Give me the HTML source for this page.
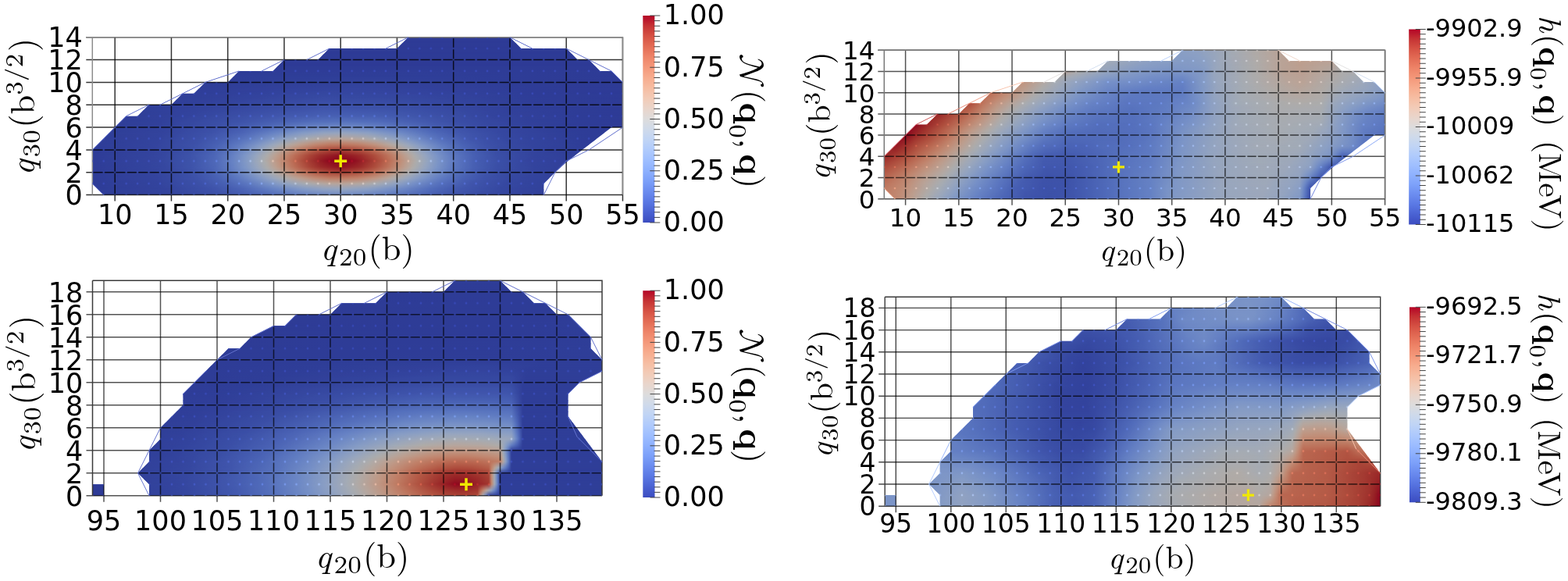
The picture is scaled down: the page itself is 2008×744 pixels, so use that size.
<!DOCTYPE html>
<html><head><meta charset="utf-8"><title>figure</title><style>html,body{margin:0;padding:0;background:#fff;overflow:hidden}svg{display:block}</style></head><body>
<svg width="2008" height="744" viewBox="0 0 2008 744"><defs><linearGradient id="vmg" x1="0" x2="0" y1="0" y2="1"><stop offset="0" stop-color="#fff"/><stop offset="1" stop-color="#000"/></linearGradient>
<mask id="vm" maskContentUnits="objectBoundingBox"><rect x="0" y="0" width="1" height="1" fill="url(#vmg)"/></mask>
<linearGradient id="g1_0"><stop offset="0" stop-color="#3c4ec2"/><stop offset="0.1277" stop-color="#4055c8"/><stop offset="0.2394" stop-color="#4e68d8"/><stop offset="0.3245" stop-color="#6485ec"/><stop offset="0.4043" stop-color="#85a8fc"/><stop offset="0.4574" stop-color="#90b2fe"/><stop offset="0.5053" stop-color="#8caffe"/><stop offset="0.5638" stop-color="#799cf8"/><stop offset="0.6489" stop-color="#5977e3"/><stop offset="0.734" stop-color="#485fd1"/><stop offset="0.8777" stop-color="#3d50c3"/><stop offset="1" stop-color="#3b4cc0"/></linearGradient>
<linearGradient id="g1_1"><stop offset="0" stop-color="#3c4ec2"/><stop offset="0.133" stop-color="#4257c9"/><stop offset="0.2234" stop-color="#4f69d9"/><stop offset="0.2819" stop-color="#6180e9"/><stop offset="0.3404" stop-color="#82a6fb"/><stop offset="0.3936" stop-color="#a6c4fe"/><stop offset="0.4362" stop-color="#bad0f8"/><stop offset="0.4734" stop-color="#bfd3f6"/><stop offset="0.5213" stop-color="#b2ccfb"/><stop offset="0.5745" stop-color="#92b4fe"/><stop offset="0.6383" stop-color="#688aef"/><stop offset="0.6915" stop-color="#5470de"/><stop offset="0.7713" stop-color="#455cce"/><stop offset="0.8936" stop-color="#3d50c3"/><stop offset="1" stop-color="#3b4cc0"/></linearGradient>
<linearGradient id="g1_2"><stop offset="0" stop-color="#3c4ec2"/><stop offset="0.1223" stop-color="#4257c9"/><stop offset="0.2021" stop-color="#4e68d8"/><stop offset="0.25" stop-color="#5d7ce6"/><stop offset="0.2926" stop-color="#7699f6"/><stop offset="0.3351" stop-color="#9dbdff"/><stop offset="0.367" stop-color="#bcd2f7"/><stop offset="0.4043" stop-color="#d9dce1"/><stop offset="0.4415" stop-color="#ead5c9"/><stop offset="0.4734" stop-color="#edd2c3"/><stop offset="0.5053" stop-color="#e7d7ce"/><stop offset="0.5319" stop-color="#d9dce1"/><stop offset="0.5745" stop-color="#b7cff9"/><stop offset="0.6064" stop-color="#97b8ff"/><stop offset="0.6543" stop-color="#6e90f2"/><stop offset="0.7128" stop-color="#536edd"/><stop offset="0.7819" stop-color="#455cce"/><stop offset="0.9043" stop-color="#3d50c3"/><stop offset="1" stop-color="#3b4cc0"/></linearGradient>
<linearGradient id="g1_3"><stop offset="0" stop-color="#3c4ec2"/><stop offset="0.1223" stop-color="#4358cb"/><stop offset="0.1968" stop-color="#4f69d9"/><stop offset="0.2394" stop-color="#5f7fe8"/><stop offset="0.2766" stop-color="#799cf8"/><stop offset="0.3138" stop-color="#a1c0ff"/><stop offset="0.3404" stop-color="#c3d5f4"/><stop offset="0.3617" stop-color="#dbdcde"/><stop offset="0.3883" stop-color="#f1cdba"/><stop offset="0.4202" stop-color="#f7b093"/><stop offset="0.4468" stop-color="#f59f80"/><stop offset="0.4734" stop-color="#f59c7d"/><stop offset="0.5" stop-color="#f6a586"/><stop offset="0.5319" stop-color="#f6bea4"/><stop offset="0.5585" stop-color="#ead5c9"/><stop offset="0.5745" stop-color="#dbdcde"/><stop offset="0.5957" stop-color="#c3d5f4"/><stop offset="0.6223" stop-color="#a1c0ff"/><stop offset="0.6596" stop-color="#799cf8"/><stop offset="0.6968" stop-color="#5f7fe8"/><stop offset="0.7394" stop-color="#4f69d9"/><stop offset="0.8032" stop-color="#445acc"/><stop offset="0.9149" stop-color="#3d50c3"/><stop offset="1" stop-color="#3b4cc0"/></linearGradient>
<linearGradient id="g1_4"><stop offset="0" stop-color="#3c4ec2"/><stop offset="0.117" stop-color="#4358cb"/><stop offset="0.1809" stop-color="#4c66d6"/><stop offset="0.2234" stop-color="#5b7ae5"/><stop offset="0.2606" stop-color="#7699f6"/><stop offset="0.2926" stop-color="#9abbff"/><stop offset="0.3138" stop-color="#b9d0f9"/><stop offset="0.3351" stop-color="#d6dce4"/><stop offset="0.3457" stop-color="#e3d9d3"/><stop offset="0.367" stop-color="#f5c4ac"/><stop offset="0.3936" stop-color="#f59c7d"/><stop offset="0.4202" stop-color="#e8765c"/><stop offset="0.4468" stop-color="#dc5d4a"/><stop offset="0.4681" stop-color="#d85646"/><stop offset="0.4947" stop-color="#de614d"/><stop offset="0.5213" stop-color="#eb7d62"/><stop offset="0.5426" stop-color="#f59c7d"/><stop offset="0.5691" stop-color="#f5c4ac"/><stop offset="0.5904" stop-color="#e3d9d3"/><stop offset="0.6011" stop-color="#d6dce4"/><stop offset="0.6223" stop-color="#b9d0f9"/><stop offset="0.6489" stop-color="#93b5fe"/><stop offset="0.6862" stop-color="#6c8ff1"/><stop offset="0.7234" stop-color="#5875e1"/><stop offset="0.766" stop-color="#4a63d3"/><stop offset="0.867" stop-color="#3f53c6"/><stop offset="1" stop-color="#3b4cc0"/></linearGradient>
<linearGradient id="g1_5"><stop offset="0" stop-color="#3c4ec2"/><stop offset="0.1277" stop-color="#445acc"/><stop offset="0.1862" stop-color="#506bda"/><stop offset="0.2287" stop-color="#6282ea"/><stop offset="0.2606" stop-color="#7da0f9"/><stop offset="0.2872" stop-color="#9fbfff"/><stop offset="0.3085" stop-color="#bfd3f6"/><stop offset="0.3298" stop-color="#dedcdb"/><stop offset="0.3457" stop-color="#f1cdba"/><stop offset="0.3617" stop-color="#f7b497"/><stop offset="0.383" stop-color="#f08b6e"/><stop offset="0.4096" stop-color="#d95847"/><stop offset="0.4309" stop-color="#c83836"/><stop offset="0.4628" stop-color="#bb1b2c"/><stop offset="0.4734" stop-color="#bb1b2c"/><stop offset="0.5053" stop-color="#c83836"/><stop offset="0.5319" stop-color="#df634e"/><stop offset="0.5585" stop-color="#f39577"/><stop offset="0.5798" stop-color="#f6bda2"/><stop offset="0.5957" stop-color="#ecd3c5"/><stop offset="0.6064" stop-color="#dedcdb"/><stop offset="0.6277" stop-color="#bfd3f6"/><stop offset="0.6489" stop-color="#9fbfff"/><stop offset="0.6809" stop-color="#779af7"/><stop offset="0.7181" stop-color="#5d7ce6"/><stop offset="0.7606" stop-color="#4c66d6"/><stop offset="0.8351" stop-color="#4257c9"/><stop offset="0.9574" stop-color="#3c4ec2"/><stop offset="1" stop-color="#3b4cc0"/></linearGradient>
<linearGradient id="g1_6"><stop offset="0" stop-color="#3c4ec2"/><stop offset="0.1223" stop-color="#445acc"/><stop offset="0.1915" stop-color="#516ddb"/><stop offset="0.234" stop-color="#6788ee"/><stop offset="0.266" stop-color="#86a9fc"/><stop offset="0.2926" stop-color="#abc8fd"/><stop offset="0.3138" stop-color="#cdd9ec"/><stop offset="0.3245" stop-color="#dcdddd"/><stop offset="0.3404" stop-color="#f0cdbb"/><stop offset="0.3564" stop-color="#f7b497"/><stop offset="0.3777" stop-color="#f08a6c"/><stop offset="0.3989" stop-color="#dc5d4a"/><stop offset="0.4309" stop-color="#be242e"/><stop offset="0.4415" stop-color="#b8122a"/><stop offset="0.4574" stop-color="#b40426"/><stop offset="0.4787" stop-color="#b40426"/><stop offset="0.4947" stop-color="#b8122a"/><stop offset="0.5213" stop-color="#cc403a"/><stop offset="0.5426" stop-color="#e26952"/><stop offset="0.5585" stop-color="#f08a6c"/><stop offset="0.5798" stop-color="#f7b497"/><stop offset="0.5957" stop-color="#f0cdbb"/><stop offset="0.6117" stop-color="#dcdddd"/><stop offset="0.633" stop-color="#bcd2f7"/><stop offset="0.6543" stop-color="#9bbcff"/><stop offset="0.6862" stop-color="#7597f6"/><stop offset="0.7234" stop-color="#5a78e4"/><stop offset="0.766" stop-color="#4c66d6"/><stop offset="0.8245" stop-color="#4358cb"/><stop offset="0.9468" stop-color="#3c4ec2"/><stop offset="1" stop-color="#3b4cc0"/></linearGradient>
<linearGradient id="g1_7"><stop offset="0" stop-color="#3c4ec2"/><stop offset="0.1277" stop-color="#445acc"/><stop offset="0.1862" stop-color="#506bda"/><stop offset="0.2287" stop-color="#6282ea"/><stop offset="0.2606" stop-color="#7da0f9"/><stop offset="0.2872" stop-color="#9fbfff"/><stop offset="0.3085" stop-color="#bfd3f6"/><stop offset="0.3298" stop-color="#dedcdb"/><stop offset="0.3457" stop-color="#f1cdba"/><stop offset="0.3617" stop-color="#f7b497"/><stop offset="0.383" stop-color="#f08b6e"/><stop offset="0.4096" stop-color="#d95847"/><stop offset="0.4309" stop-color="#c83836"/><stop offset="0.4628" stop-color="#bb1b2c"/><stop offset="0.4734" stop-color="#bb1b2c"/><stop offset="0.5053" stop-color="#c83836"/><stop offset="0.5319" stop-color="#df634e"/><stop offset="0.5585" stop-color="#f39577"/><stop offset="0.5798" stop-color="#f6bda2"/><stop offset="0.5957" stop-color="#ecd3c5"/><stop offset="0.6064" stop-color="#dedcdb"/><stop offset="0.6277" stop-color="#bfd3f6"/><stop offset="0.6489" stop-color="#9fbfff"/><stop offset="0.6809" stop-color="#779af7"/><stop offset="0.7181" stop-color="#5d7ce6"/><stop offset="0.7606" stop-color="#4c66d6"/><stop offset="0.8351" stop-color="#4257c9"/><stop offset="0.9574" stop-color="#3c4ec2"/><stop offset="1" stop-color="#3b4cc0"/></linearGradient>
<linearGradient id="g1_8"><stop offset="0" stop-color="#3c4ec2"/><stop offset="0.117" stop-color="#4358cb"/><stop offset="0.1809" stop-color="#4c66d6"/><stop offset="0.2234" stop-color="#5b7ae5"/><stop offset="0.2606" stop-color="#7699f6"/><stop offset="0.2926" stop-color="#9abbff"/><stop offset="0.3138" stop-color="#b9d0f9"/><stop offset="0.3351" stop-color="#d6dce4"/><stop offset="0.3457" stop-color="#e3d9d3"/><stop offset="0.367" stop-color="#f5c4ac"/><stop offset="0.3936" stop-color="#f59c7d"/><stop offset="0.4202" stop-color="#e8765c"/><stop offset="0.4468" stop-color="#dc5d4a"/><stop offset="0.4681" stop-color="#d85646"/><stop offset="0.4947" stop-color="#de614d"/><stop offset="0.5213" stop-color="#eb7d62"/><stop offset="0.5426" stop-color="#f59c7d"/><stop offset="0.5691" stop-color="#f5c4ac"/><stop offset="0.5904" stop-color="#e3d9d3"/><stop offset="0.6011" stop-color="#d6dce4"/><stop offset="0.6223" stop-color="#b9d0f9"/><stop offset="0.6489" stop-color="#93b5fe"/><stop offset="0.6862" stop-color="#6c8ff1"/><stop offset="0.7234" stop-color="#5875e1"/><stop offset="0.766" stop-color="#4a63d3"/><stop offset="0.867" stop-color="#3f53c6"/><stop offset="1" stop-color="#3b4cc0"/></linearGradient>
<linearGradient id="g1_9"><stop offset="0" stop-color="#3c4ec2"/><stop offset="0.1223" stop-color="#4358cb"/><stop offset="0.1968" stop-color="#4f69d9"/><stop offset="0.2394" stop-color="#5f7fe8"/><stop offset="0.2766" stop-color="#799cf8"/><stop offset="0.3138" stop-color="#a1c0ff"/><stop offset="0.3404" stop-color="#c3d5f4"/><stop offset="0.3617" stop-color="#dbdcde"/><stop offset="0.3883" stop-color="#f1cdba"/><stop offset="0.4202" stop-color="#f7b093"/><stop offset="0.4468" stop-color="#f59f80"/><stop offset="0.4734" stop-color="#f59c7d"/><stop offset="0.5" stop-color="#f6a586"/><stop offset="0.5319" stop-color="#f6bea4"/><stop offset="0.5585" stop-color="#ead5c9"/><stop offset="0.5745" stop-color="#dbdcde"/><stop offset="0.5957" stop-color="#c3d5f4"/><stop offset="0.6223" stop-color="#a1c0ff"/><stop offset="0.6596" stop-color="#799cf8"/><stop offset="0.6968" stop-color="#5f7fe8"/><stop offset="0.7394" stop-color="#4f69d9"/><stop offset="0.8032" stop-color="#445acc"/><stop offset="0.9149" stop-color="#3d50c3"/><stop offset="1" stop-color="#3b4cc0"/></linearGradient>
<linearGradient id="g1_10"><stop offset="0" stop-color="#3c4ec2"/><stop offset="0.1223" stop-color="#4257c9"/><stop offset="0.2021" stop-color="#4e68d8"/><stop offset="0.25" stop-color="#5d7ce6"/><stop offset="0.2926" stop-color="#7699f6"/><stop offset="0.3351" stop-color="#9dbdff"/><stop offset="0.367" stop-color="#bcd2f7"/><stop offset="0.4043" stop-color="#d9dce1"/><stop offset="0.4415" stop-color="#ead5c9"/><stop offset="0.4734" stop-color="#edd2c3"/><stop offset="0.5053" stop-color="#e7d7ce"/><stop offset="0.5319" stop-color="#d9dce1"/><stop offset="0.5745" stop-color="#b7cff9"/><stop offset="0.6064" stop-color="#97b8ff"/><stop offset="0.6543" stop-color="#6e90f2"/><stop offset="0.7128" stop-color="#536edd"/><stop offset="0.7819" stop-color="#455cce"/><stop offset="0.9043" stop-color="#3d50c3"/><stop offset="1" stop-color="#3b4cc0"/></linearGradient>
<linearGradient id="g1_11"><stop offset="0" stop-color="#3c4ec2"/><stop offset="0.133" stop-color="#4257c9"/><stop offset="0.2234" stop-color="#4f69d9"/><stop offset="0.2819" stop-color="#6180e9"/><stop offset="0.3404" stop-color="#82a6fb"/><stop offset="0.3936" stop-color="#a6c4fe"/><stop offset="0.4362" stop-color="#bad0f8"/><stop offset="0.4734" stop-color="#bfd3f6"/><stop offset="0.5213" stop-color="#b2ccfb"/><stop offset="0.5745" stop-color="#92b4fe"/><stop offset="0.6383" stop-color="#688aef"/><stop offset="0.6915" stop-color="#5470de"/><stop offset="0.7713" stop-color="#455cce"/><stop offset="0.8936" stop-color="#3d50c3"/><stop offset="1" stop-color="#3b4cc0"/></linearGradient>
<linearGradient id="g1_12"><stop offset="0" stop-color="#3c4ec2"/><stop offset="0.1277" stop-color="#4055c8"/><stop offset="0.2394" stop-color="#4e68d8"/><stop offset="0.3245" stop-color="#6485ec"/><stop offset="0.4043" stop-color="#85a8fc"/><stop offset="0.4574" stop-color="#90b2fe"/><stop offset="0.5053" stop-color="#8caffe"/><stop offset="0.5638" stop-color="#799cf8"/><stop offset="0.6489" stop-color="#5977e3"/><stop offset="0.734" stop-color="#485fd1"/><stop offset="0.8777" stop-color="#3d50c3"/><stop offset="1" stop-color="#3b4cc0"/></linearGradient>
<linearGradient id="g1_13"><stop offset="0" stop-color="#3c4ec2"/><stop offset="0.1277" stop-color="#3f53c6"/><stop offset="0.2872" stop-color="#516ddb"/><stop offset="0.4202" stop-color="#6c8ff1"/><stop offset="0.4787" stop-color="#7093f3"/><stop offset="0.5426" stop-color="#688aef"/><stop offset="0.6862" stop-color="#4b64d5"/><stop offset="0.8191" stop-color="#3f53c6"/><stop offset="0.9947" stop-color="#3b4cc0"/><stop offset="1" stop-color="#3b4cc0"/></linearGradient>
<linearGradient id="g1_14"><stop offset="0" stop-color="#3b4cc0"/><stop offset="0.1596" stop-color="#4055c8"/><stop offset="0.3351" stop-color="#536edd"/><stop offset="0.4415" stop-color="#5e7de7"/><stop offset="0.5319" stop-color="#5b7ae5"/><stop offset="0.7606" stop-color="#4257c9"/><stop offset="0.9149" stop-color="#3c4ec2"/><stop offset="1" stop-color="#3b4cc0"/></linearGradient>
<linearGradient id="g1_15"><stop offset="0" stop-color="#3b4cc0"/><stop offset="0.1809" stop-color="#4055c8"/><stop offset="0.4362" stop-color="#5470de"/><stop offset="0.5532" stop-color="#516ddb"/><stop offset="0.7872" stop-color="#3f53c6"/><stop offset="0.9734" stop-color="#3b4cc0"/><stop offset="1" stop-color="#3b4cc0"/></linearGradient>
<linearGradient id="g1_16"><stop offset="0" stop-color="#3b4cc0"/><stop offset="0.1862" stop-color="#3f53c6"/><stop offset="0.4362" stop-color="#4e68d8"/><stop offset="0.5691" stop-color="#4b64d5"/><stop offset="0.8191" stop-color="#3d50c3"/><stop offset="1" stop-color="#3b4cc0"/></linearGradient>
<linearGradient id="g1_17"><stop offset="0" stop-color="#3b4cc0"/><stop offset="0.2181" stop-color="#3f53c6"/><stop offset="0.4362" stop-color="#4961d2"/><stop offset="0.5904" stop-color="#465ecf"/><stop offset="0.8085" stop-color="#3d50c3"/><stop offset="1" stop-color="#3b4cc0"/></linearGradient>
<linearGradient id="g1_18"><stop offset="0" stop-color="#3b4cc0"/><stop offset="0.2234" stop-color="#3e51c5"/><stop offset="0.4415" stop-color="#455cce"/><stop offset="0.6117" stop-color="#4358cb"/><stop offset="0.8404" stop-color="#3c4ec2"/><stop offset="1" stop-color="#3b4cc0"/></linearGradient>
<linearGradient id="g1_19"><stop offset="0" stop-color="#3b4cc0"/><stop offset="0.266" stop-color="#3e51c5"/><stop offset="0.4947" stop-color="#4358cb"/><stop offset="0.8989" stop-color="#3b4cc0"/><stop offset="1" stop-color="#3b4cc0"/></linearGradient>
<linearGradient id="g1_20"><stop offset="0" stop-color="#3b4cc0"/><stop offset="0.2713" stop-color="#3d50c3"/><stop offset="0.516" stop-color="#4055c8"/><stop offset="0.9149" stop-color="#3b4cc0"/><stop offset="1" stop-color="#3b4cc0"/></linearGradient>
<linearGradient id="g1_21"><stop offset="0" stop-color="#3b4cc0"/><stop offset="0.3351" stop-color="#3d50c3"/><stop offset="0.6755" stop-color="#3d50c3"/><stop offset="0.9947" stop-color="#3b4cc0"/><stop offset="1" stop-color="#3b4cc0"/></linearGradient>
<linearGradient id="g1_22"><stop offset="0" stop-color="#3b4cc0"/><stop offset="0.6064" stop-color="#3d50c3"/><stop offset="1" stop-color="#3b4cc0"/></linearGradient>
<linearGradient id="g1_23"><stop offset="0" stop-color="#3b4cc0"/><stop offset="1" stop-color="#3b4cc0"/></linearGradient>
<linearGradient id="g1_24"><stop offset="0" stop-color="#3b4cc0"/><stop offset="1" stop-color="#3b4cc0"/></linearGradient>
<linearGradient id="g1_25"><stop offset="0" stop-color="#3b4cc0"/><stop offset="1" stop-color="#3b4cc0"/></linearGradient>
<linearGradient id="g1_26"><stop offset="0" stop-color="#3b4cc0"/><stop offset="1" stop-color="#3b4cc0"/></linearGradient>
<linearGradient id="g1_27"><stop offset="0" stop-color="#3b4cc0"/><stop offset="1" stop-color="#3b4cc0"/></linearGradient>
<linearGradient id="g1_28"><stop offset="0" stop-color="#3b4cc0"/><stop offset="1" stop-color="#3b4cc0"/></linearGradient>
<g id="hm1" shape-rendering="crispEdges"><rect x="118.3" y="242" width="679.1" height="8" fill="url(#g1_0)"/><rect x="118.3" y="242" width="679.1" height="8" fill="url(#g1_1)" mask="url(#vm)"/><rect x="118.3" y="235" width="679.1" height="7" fill="url(#g1_1)"/><rect x="118.3" y="235" width="679.1" height="7" fill="url(#g1_2)" mask="url(#vm)"/><rect x="118.3" y="228" width="679.1" height="7" fill="url(#g1_2)"/><rect x="118.3" y="228" width="679.1" height="7" fill="url(#g1_3)" mask="url(#vm)"/><rect x="118.3" y="221" width="679.1" height="7" fill="url(#g1_3)"/><rect x="118.3" y="221" width="679.1" height="7" fill="url(#g1_4)" mask="url(#vm)"/><rect x="118.3" y="214" width="679.1" height="7" fill="url(#g1_4)"/><rect x="118.3" y="214" width="679.1" height="7" fill="url(#g1_5)" mask="url(#vm)"/><rect x="118.3" y="206" width="679.1" height="8" fill="url(#g1_5)"/><rect x="118.3" y="206" width="679.1" height="8" fill="url(#g1_6)" mask="url(#vm)"/><rect x="118.3" y="199" width="679.1" height="7" fill="url(#g1_6)"/><rect x="118.3" y="199" width="679.1" height="7" fill="url(#g1_7)" mask="url(#vm)"/><rect x="118.3" y="192" width="679.1" height="7" fill="url(#g1_7)"/><rect x="118.3" y="192" width="679.1" height="7" fill="url(#g1_8)" mask="url(#vm)"/><rect x="118.3" y="185" width="679.1" height="7" fill="url(#g1_8)"/><rect x="118.3" y="185" width="679.1" height="7" fill="url(#g1_9)" mask="url(#vm)"/><rect x="118.3" y="178" width="679.1" height="7" fill="url(#g1_9)"/><rect x="118.3" y="178" width="679.1" height="7" fill="url(#g1_10)" mask="url(#vm)"/><rect x="118.3" y="170" width="679.1" height="8" fill="url(#g1_10)"/><rect x="118.3" y="170" width="679.1" height="8" fill="url(#g1_11)" mask="url(#vm)"/><rect x="118.3" y="163" width="679.1" height="7" fill="url(#g1_11)"/><rect x="118.3" y="163" width="679.1" height="7" fill="url(#g1_12)" mask="url(#vm)"/><rect x="118.3" y="156" width="679.1" height="7" fill="url(#g1_12)"/><rect x="118.3" y="156" width="679.1" height="7" fill="url(#g1_13)" mask="url(#vm)"/><rect x="118.3" y="149" width="679.1" height="7" fill="url(#g1_13)"/><rect x="118.3" y="149" width="679.1" height="7" fill="url(#g1_14)" mask="url(#vm)"/><rect x="118.3" y="141" width="679.1" height="8" fill="url(#g1_14)"/><rect x="118.3" y="141" width="679.1" height="8" fill="url(#g1_15)" mask="url(#vm)"/><rect x="118.3" y="134" width="679.1" height="7" fill="url(#g1_15)"/><rect x="118.3" y="134" width="679.1" height="7" fill="url(#g1_16)" mask="url(#vm)"/><rect x="118.3" y="127" width="679.1" height="7" fill="url(#g1_16)"/><rect x="118.3" y="127" width="679.1" height="7" fill="url(#g1_17)" mask="url(#vm)"/><rect x="118.3" y="120" width="679.1" height="7" fill="url(#g1_17)"/><rect x="118.3" y="120" width="679.1" height="7" fill="url(#g1_18)" mask="url(#vm)"/><rect x="118.3" y="113" width="679.1" height="7" fill="url(#g1_18)"/><rect x="118.3" y="113" width="679.1" height="7" fill="url(#g1_19)" mask="url(#vm)"/><rect x="118.3" y="105" width="679.1" height="8" fill="url(#g1_19)"/><rect x="118.3" y="105" width="679.1" height="8" fill="url(#g1_20)" mask="url(#vm)"/><rect x="118.3" y="98" width="679.1" height="7" fill="url(#g1_20)"/><rect x="118.3" y="98" width="679.1" height="7" fill="url(#g1_21)" mask="url(#vm)"/><rect x="118.3" y="91" width="679.1" height="7" fill="url(#g1_21)"/><rect x="118.3" y="91" width="679.1" height="7" fill="url(#g1_22)" mask="url(#vm)"/><rect x="118.3" y="84" width="679.1" height="7" fill="url(#g1_22)"/><rect x="118.3" y="84" width="679.1" height="7" fill="url(#g1_23)" mask="url(#vm)"/><rect x="118.3" y="77" width="679.1" height="7" fill="url(#g1_23)"/><rect x="118.3" y="77" width="679.1" height="7" fill="url(#g1_24)" mask="url(#vm)"/><rect x="118.3" y="69" width="679.1" height="8" fill="url(#g1_24)"/><rect x="118.3" y="69" width="679.1" height="8" fill="url(#g1_25)" mask="url(#vm)"/><rect x="118.3" y="62" width="679.1" height="7" fill="url(#g1_25)"/><rect x="118.3" y="62" width="679.1" height="7" fill="url(#g1_26)" mask="url(#vm)"/><rect x="118.3" y="55" width="679.1" height="7" fill="url(#g1_26)"/><rect x="118.3" y="55" width="679.1" height="7" fill="url(#g1_27)" mask="url(#vm)"/><rect x="118.3" y="48" width="679.1" height="7" fill="url(#g1_27)"/><rect x="118.3" y="48" width="679.1" height="7" fill="url(#g1_28)" mask="url(#vm)"/></g>
<linearGradient id="g2_0"><stop offset="0" stop-color="#f59d7e"/><stop offset="0.0266" stop-color="#f7b194"/><stop offset="0.05319" stop-color="#f2cbb7"/><stop offset="0.07979" stop-color="#dedcdb"/><stop offset="0.1117" stop-color="#c1d4f4"/><stop offset="0.1383" stop-color="#a7c5fe"/><stop offset="0.1809" stop-color="#84a7fc"/><stop offset="0.2287" stop-color="#6687ed"/><stop offset="0.2819" stop-color="#516ddb"/><stop offset="0.3245" stop-color="#4c66d6"/><stop offset="0.3777" stop-color="#536edd"/><stop offset="0.4202" stop-color="#5f7fe8"/><stop offset="0.4681" stop-color="#6f92f3"/><stop offset="0.5319" stop-color="#82a6fb"/><stop offset="0.5745" stop-color="#a5c3fe"/><stop offset="0.633" stop-color="#b6cefa"/><stop offset="0.6755" stop-color="#c3d5f4"/><stop offset="0.75" stop-color="#c9d7f0"/><stop offset="0.7926" stop-color="#bcd2f7"/><stop offset="0.8298" stop-color="#a5c3fe"/><stop offset="0.8351" stop-color="#8caffe"/><stop offset="0.8404" stop-color="#7295f4"/><stop offset="0.8457" stop-color="#5a78e4"/><stop offset="0.8511" stop-color="#4358cb"/><stop offset="0.8936" stop-color="#4358cb"/><stop offset="0.9149" stop-color="#536edd"/><stop offset="0.9362" stop-color="#536edd"/><stop offset="0.9574" stop-color="#6a8bef"/><stop offset="1" stop-color="#6a8bef"/></linearGradient>
<linearGradient id="g2_1"><stop offset="0" stop-color="#f59d7e"/><stop offset="0.03191" stop-color="#f7b396"/><stop offset="0.05851" stop-color="#f2cbb7"/><stop offset="0.08511" stop-color="#e0dbd8"/><stop offset="0.1117" stop-color="#cad8ef"/><stop offset="0.1436" stop-color="#abc8fd"/><stop offset="0.1862" stop-color="#86a9fc"/><stop offset="0.2447" stop-color="#6282ea"/><stop offset="0.2819" stop-color="#536edd"/><stop offset="0.3298" stop-color="#4e68d8"/><stop offset="0.3723" stop-color="#516ddb"/><stop offset="0.4202" stop-color="#5f7fe8"/><stop offset="0.4681" stop-color="#6f92f3"/><stop offset="0.5319" stop-color="#82a6fb"/><stop offset="0.5745" stop-color="#a3c2fe"/><stop offset="0.6755" stop-color="#c3d5f4"/><stop offset="0.7553" stop-color="#c9d7f0"/><stop offset="0.7979" stop-color="#bed2f6"/><stop offset="0.8298" stop-color="#aac7fd"/><stop offset="0.8351" stop-color="#92b4fe"/><stop offset="0.8404" stop-color="#779af7"/><stop offset="0.8457" stop-color="#5f7fe8"/><stop offset="0.8511" stop-color="#485fd1"/><stop offset="0.8883" stop-color="#4a63d3"/><stop offset="0.9202" stop-color="#536edd"/><stop offset="0.9362" stop-color="#516ddb"/><stop offset="0.9574" stop-color="#6a8bef"/><stop offset="1" stop-color="#6a8bef"/></linearGradient>
<linearGradient id="g2_2"><stop offset="0" stop-color="#f59d7e"/><stop offset="0.03191" stop-color="#f7af91"/><stop offset="0.05319" stop-color="#f5c1a9"/><stop offset="0.09043" stop-color="#e2dad5"/><stop offset="0.1117" stop-color="#d2dbe8"/><stop offset="0.1436" stop-color="#b5cdfa"/><stop offset="0.1809" stop-color="#92b4fe"/><stop offset="0.2234" stop-color="#7597f6"/><stop offset="0.2606" stop-color="#5b7ae5"/><stop offset="0.3191" stop-color="#4e68d8"/><stop offset="0.367" stop-color="#506bda"/><stop offset="0.4202" stop-color="#5f7fe8"/><stop offset="0.4681" stop-color="#6f92f3"/><stop offset="0.5319" stop-color="#82a6fb"/><stop offset="0.5638" stop-color="#9bbcff"/><stop offset="0.5904" stop-color="#a6c4fe"/><stop offset="0.6702" stop-color="#c3d5f4"/><stop offset="0.7606" stop-color="#cad8ef"/><stop offset="0.8138" stop-color="#bad0f8"/><stop offset="0.8298" stop-color="#afcafc"/><stop offset="0.8351" stop-color="#97b8ff"/><stop offset="0.8404" stop-color="#7da0f9"/><stop offset="0.8457" stop-color="#6384eb"/><stop offset="0.8511" stop-color="#4c66d6"/><stop offset="0.883" stop-color="#4f69d9"/><stop offset="0.8989" stop-color="#536edd"/><stop offset="0.9362" stop-color="#4f69d9"/><stop offset="0.9574" stop-color="#6a8bef"/><stop offset="1" stop-color="#6a8bef"/></linearGradient>
<linearGradient id="g2_3"><stop offset="0" stop-color="#f29072"/><stop offset="0.04255" stop-color="#f7b194"/><stop offset="0.07979" stop-color="#edd1c2"/><stop offset="0.1117" stop-color="#d9dce1"/><stop offset="0.1489" stop-color="#b9d0f9"/><stop offset="0.1862" stop-color="#96b7ff"/><stop offset="0.2287" stop-color="#7597f6"/><stop offset="0.2713" stop-color="#5a78e4"/><stop offset="0.3191" stop-color="#4f69d9"/><stop offset="0.367" stop-color="#506bda"/><stop offset="0.4202" stop-color="#5f7fe8"/><stop offset="0.4681" stop-color="#6f92f3"/><stop offset="0.5319" stop-color="#82a6fb"/><stop offset="0.5798" stop-color="#a2c1ff"/><stop offset="0.6755" stop-color="#c4d5f3"/><stop offset="0.7606" stop-color="#cbd8ee"/><stop offset="0.8085" stop-color="#bfd3f6"/><stop offset="0.8298" stop-color="#b5cdfa"/><stop offset="0.8404" stop-color="#8fb1fe"/><stop offset="0.8511" stop-color="#688aef"/><stop offset="0.8723" stop-color="#4f69d9"/><stop offset="0.8989" stop-color="#5470de"/><stop offset="0.9149" stop-color="#516ddb"/><stop offset="0.9574" stop-color="#6a8bef"/><stop offset="1" stop-color="#6a8bef"/></linearGradient>
<linearGradient id="g2_4"><stop offset="0" stop-color="#ee8468"/><stop offset="0.04787" stop-color="#f7b194"/><stop offset="0.08511" stop-color="#efcfbf"/><stop offset="0.117" stop-color="#dcdddd"/><stop offset="0.1489" stop-color="#c0d4f5"/><stop offset="0.1862" stop-color="#9dbdff"/><stop offset="0.2287" stop-color="#799cf8"/><stop offset="0.2819" stop-color="#5875e1"/><stop offset="0.3245" stop-color="#4f69d9"/><stop offset="0.367" stop-color="#506bda"/><stop offset="0.4202" stop-color="#5f7fe8"/><stop offset="0.4681" stop-color="#6f92f3"/><stop offset="0.5372" stop-color="#85a8fc"/><stop offset="0.5851" stop-color="#a3c2fe"/><stop offset="0.6755" stop-color="#c4d5f3"/><stop offset="0.766" stop-color="#ccd9ed"/><stop offset="0.8191" stop-color="#bed2f6"/><stop offset="0.8298" stop-color="#bad0f8"/><stop offset="0.8457" stop-color="#93b5fe"/><stop offset="0.8617" stop-color="#6b8df0"/><stop offset="0.8723" stop-color="#536edd"/><stop offset="0.8936" stop-color="#5673e0"/><stop offset="0.9149" stop-color="#4f69d9"/><stop offset="0.9362" stop-color="#6a8bef"/><stop offset="1" stop-color="#6a8bef"/></linearGradient>
<linearGradient id="g2_5"><stop offset="0" stop-color="#e67259"/><stop offset="0.04787" stop-color="#f6a283"/><stop offset="0.08511" stop-color="#f4c6af"/><stop offset="0.117" stop-color="#e5d8d1"/><stop offset="0.133" stop-color="#d8dce2"/><stop offset="0.1649" stop-color="#bcd2f7"/><stop offset="0.2021" stop-color="#98b9ff"/><stop offset="0.25" stop-color="#7295f4"/><stop offset="0.2819" stop-color="#5e7de7"/><stop offset="0.3245" stop-color="#516ddb"/><stop offset="0.3777" stop-color="#5470de"/><stop offset="0.4415" stop-color="#6788ee"/><stop offset="0.5319" stop-color="#81a4fb"/><stop offset="0.5851" stop-color="#a2c1ff"/><stop offset="0.6702" stop-color="#c3d5f4"/><stop offset="0.7553" stop-color="#ccd9ed"/><stop offset="0.7979" stop-color="#c7d7f0"/><stop offset="0.8298" stop-color="#bed2f6"/><stop offset="0.8511" stop-color="#9ebeff"/><stop offset="0.867" stop-color="#7699f6"/><stop offset="0.8723" stop-color="#688aef"/><stop offset="0.8936" stop-color="#536edd"/><stop offset="0.9149" stop-color="#5875e1"/><stop offset="0.9362" stop-color="#6a8bef"/><stop offset="0.9894" stop-color="#6c8ff1"/><stop offset="1" stop-color="#6f92f3"/></linearGradient>
<linearGradient id="g2_6"><stop offset="0" stop-color="#dd5f4b"/><stop offset="0.04255" stop-color="#f08b6e"/><stop offset="0.07979" stop-color="#f7b599"/><stop offset="0.117" stop-color="#edd2c3"/><stop offset="0.1383" stop-color="#dddcdc"/><stop offset="0.1702" stop-color="#c1d4f4"/><stop offset="0.2074" stop-color="#9dbdff"/><stop offset="0.2447" stop-color="#7ea1fa"/><stop offset="0.2713" stop-color="#6a8bef"/><stop offset="0.2819" stop-color="#6384eb"/><stop offset="0.3138" stop-color="#5875e1"/><stop offset="0.3191" stop-color="#5470de"/><stop offset="0.3723" stop-color="#5470de"/><stop offset="0.4202" stop-color="#5f7fe8"/><stop offset="0.4681" stop-color="#6f92f3"/><stop offset="0.5319" stop-color="#7ea1fa"/><stop offset="0.5851" stop-color="#a1c0ff"/><stop offset="0.6649" stop-color="#c1d4f4"/><stop offset="0.7553" stop-color="#cdd9ec"/><stop offset="0.8032" stop-color="#c9d7f0"/><stop offset="0.8404" stop-color="#bbd1f8"/><stop offset="0.8511" stop-color="#b5cdfa"/><stop offset="0.867" stop-color="#8db0fe"/><stop offset="0.883" stop-color="#6788ee"/><stop offset="0.8936" stop-color="#4f69d9"/><stop offset="0.9202" stop-color="#6282ea"/><stop offset="0.9415" stop-color="#6a8bef"/><stop offset="0.9787" stop-color="#6a8bef"/><stop offset="1" stop-color="#7597f6"/></linearGradient>
<linearGradient id="g2_7"><stop offset="0" stop-color="#d24b40"/><stop offset="0.04255" stop-color="#e9785d"/><stop offset="0.07979" stop-color="#f7a688"/><stop offset="0.1117" stop-color="#f4c6af"/><stop offset="0.1436" stop-color="#e1dad6"/><stop offset="0.1702" stop-color="#cbd8ee"/><stop offset="0.2021" stop-color="#adc9fd"/><stop offset="0.2447" stop-color="#86a9fc"/><stop offset="0.2819" stop-color="#688aef"/><stop offset="0.3191" stop-color="#5673e0"/><stop offset="0.367" stop-color="#5572df"/><stop offset="0.4255" stop-color="#6282ea"/><stop offset="0.4734" stop-color="#6f92f3"/><stop offset="0.5319" stop-color="#7da0f9"/><stop offset="0.5851" stop-color="#9ebeff"/><stop offset="0.6596" stop-color="#c0d4f5"/><stop offset="0.75" stop-color="#cedaeb"/><stop offset="0.8085" stop-color="#cad8ef"/><stop offset="0.8404" stop-color="#bfd3f6"/><stop offset="0.8511" stop-color="#b9d0f9"/><stop offset="0.8723" stop-color="#98b9ff"/><stop offset="0.8936" stop-color="#7699f6"/><stop offset="0.9149" stop-color="#5f7fe8"/><stop offset="0.9362" stop-color="#6a8bef"/><stop offset="0.9681" stop-color="#6c8ff1"/><stop offset="1" stop-color="#7295f4"/></linearGradient>
<linearGradient id="g2_8"><stop offset="0" stop-color="#c53334"/><stop offset="0.03191" stop-color="#d95847"/><stop offset="0.04787" stop-color="#e36b54"/><stop offset="0.08511" stop-color="#f59d7e"/><stop offset="0.117" stop-color="#f5c1a9"/><stop offset="0.1489" stop-color="#e5d8d1"/><stop offset="0.1649" stop-color="#d8dce2"/><stop offset="0.1968" stop-color="#bbd1f8"/><stop offset="0.234" stop-color="#97b8ff"/><stop offset="0.2819" stop-color="#6e90f2"/><stop offset="0.3191" stop-color="#5977e3"/><stop offset="0.3777" stop-color="#5875e1"/><stop offset="0.4628" stop-color="#6c8ff1"/><stop offset="0.5372" stop-color="#7ea1fa"/><stop offset="0.5851" stop-color="#9dbdff"/><stop offset="0.6596" stop-color="#c0d4f5"/><stop offset="0.75" stop-color="#cfdaea"/><stop offset="0.8191" stop-color="#cbd8ee"/><stop offset="0.8511" stop-color="#bcd2f7"/><stop offset="0.8883" stop-color="#a3c2fe"/><stop offset="0.8936" stop-color="#9ebeff"/><stop offset="0.9043" stop-color="#7ea1fa"/><stop offset="0.9149" stop-color="#5f7fe8"/><stop offset="0.9362" stop-color="#6a8bef"/><stop offset="0.9628" stop-color="#6c8ff1"/><stop offset="0.9787" stop-color="#7597f6"/><stop offset="1" stop-color="#7093f3"/></linearGradient>
<linearGradient id="g2_9"><stop offset="0" stop-color="#c53334"/><stop offset="0.02128" stop-color="#c83836"/><stop offset="0.04255" stop-color="#d55042"/><stop offset="0.06915" stop-color="#e97a5f"/><stop offset="0.1064" stop-color="#f7a889"/><stop offset="0.1383" stop-color="#f2c9b4"/><stop offset="0.1649" stop-color="#e1dad6"/><stop offset="0.1862" stop-color="#cfdaea"/><stop offset="0.2234" stop-color="#adc9fd"/><stop offset="0.2606" stop-color="#8badfd"/><stop offset="0.2979" stop-color="#6c8ff1"/><stop offset="0.3245" stop-color="#6180e9"/><stop offset="0.367" stop-color="#5b7ae5"/><stop offset="0.4096" stop-color="#6180e9"/><stop offset="0.4574" stop-color="#6b8df0"/><stop offset="0.5053" stop-color="#7396f5"/><stop offset="0.5319" stop-color="#799cf8"/><stop offset="0.5851" stop-color="#9bbcff"/><stop offset="0.6489" stop-color="#bbd1f8"/><stop offset="0.7181" stop-color="#ccd9ed"/><stop offset="0.7872" stop-color="#d1dae9"/><stop offset="0.8298" stop-color="#ccd9ed"/><stop offset="0.883" stop-color="#adc9fd"/><stop offset="0.8936" stop-color="#a5c3fe"/><stop offset="0.9149" stop-color="#7ea1fa"/><stop offset="0.9362" stop-color="#7da0f9"/><stop offset="0.9574" stop-color="#6f92f3"/><stop offset="0.984" stop-color="#7396f5"/><stop offset="1" stop-color="#7093f3"/></linearGradient>
<linearGradient id="g2_10"><stop offset="0" stop-color="#c53334"/><stop offset="0.02128" stop-color="#bd1f2d"/><stop offset="0.04787" stop-color="#d0473d"/><stop offset="0.06383" stop-color="#df634e"/><stop offset="0.09574" stop-color="#f08a6c"/><stop offset="0.1277" stop-color="#f7b194"/><stop offset="0.1543" stop-color="#f1cdba"/><stop offset="0.1809" stop-color="#dddcdc"/><stop offset="0.2128" stop-color="#c1d4f4"/><stop offset="0.25" stop-color="#9fbfff"/><stop offset="0.2926" stop-color="#7a9df8"/><stop offset="0.3191" stop-color="#6a8bef"/><stop offset="0.3457" stop-color="#6687ed"/><stop offset="0.367" stop-color="#5f7fe8"/><stop offset="0.3989" stop-color="#6180e9"/><stop offset="0.4309" stop-color="#688aef"/><stop offset="0.4947" stop-color="#6e90f2"/><stop offset="0.5372" stop-color="#7b9ff9"/><stop offset="0.5904" stop-color="#9dbdff"/><stop offset="0.6596" stop-color="#bfd3f6"/><stop offset="0.7447" stop-color="#d1dae9"/><stop offset="0.8298" stop-color="#cfdaea"/><stop offset="0.883" stop-color="#b3cdfb"/><stop offset="0.9362" stop-color="#90b2fe"/><stop offset="0.9574" stop-color="#7597f6"/><stop offset="1" stop-color="#7093f3"/></linearGradient>
<linearGradient id="g2_11"><stop offset="0" stop-color="#c53334"/><stop offset="0.01064" stop-color="#be242e"/><stop offset="0.02128" stop-color="#b8122a"/><stop offset="0.03191" stop-color="#bb1b2c"/><stop offset="0.04787" stop-color="#c43032"/><stop offset="0.06383" stop-color="#d44e41"/><stop offset="0.09043" stop-color="#e46e56"/><stop offset="0.1277" stop-color="#f6a283"/><stop offset="0.1543" stop-color="#f5c4ac"/><stop offset="0.1809" stop-color="#e5d8d1"/><stop offset="0.1968" stop-color="#d8dce2"/><stop offset="0.234" stop-color="#b6cefa"/><stop offset="0.2766" stop-color="#93b5fe"/><stop offset="0.3191" stop-color="#7295f4"/><stop offset="0.3723" stop-color="#6384eb"/><stop offset="0.4149" stop-color="#6687ed"/><stop offset="0.4681" stop-color="#6a8bef"/><stop offset="0.516" stop-color="#7295f4"/><stop offset="0.5426" stop-color="#7da0f9"/><stop offset="0.5957" stop-color="#9ebeff"/><stop offset="0.6649" stop-color="#c0d4f5"/><stop offset="0.7234" stop-color="#cdd9ec"/><stop offset="0.7872" stop-color="#d4dbe6"/><stop offset="0.8457" stop-color="#ccd9ed"/><stop offset="0.8936" stop-color="#b2ccfb"/><stop offset="0.9362" stop-color="#92b4fe"/><stop offset="0.9574" stop-color="#779af7"/><stop offset="1" stop-color="#7093f3"/></linearGradient>
<linearGradient id="g2_12"><stop offset="0" stop-color="#c53334"/><stop offset="0.01064" stop-color="#bd1f2d"/><stop offset="0.02128" stop-color="#b40426"/><stop offset="0.04255" stop-color="#b40426"/><stop offset="0.05851" stop-color="#c12b30"/><stop offset="0.07447" stop-color="#cf453c"/><stop offset="0.1011" stop-color="#e36c55"/><stop offset="0.1277" stop-color="#f29072"/><stop offset="0.1543" stop-color="#f7b99e"/><stop offset="0.1755" stop-color="#efcebd"/><stop offset="0.2021" stop-color="#dddcdc"/><stop offset="0.234" stop-color="#c0d4f5"/><stop offset="0.2766" stop-color="#9ebeff"/><stop offset="0.3245" stop-color="#799cf8"/><stop offset="0.3723" stop-color="#688aef"/><stop offset="0.4202" stop-color="#6788ee"/><stop offset="0.5" stop-color="#6c8ff1"/><stop offset="0.5372" stop-color="#779af7"/><stop offset="0.5904" stop-color="#9abbff"/><stop offset="0.6596" stop-color="#bcd2f7"/><stop offset="0.6968" stop-color="#cad8ef"/><stop offset="0.7872" stop-color="#d5dbe5"/><stop offset="0.8564" stop-color="#cdd9ec"/><stop offset="0.8989" stop-color="#b3cdfb"/><stop offset="0.9362" stop-color="#92b4fe"/><stop offset="0.9628" stop-color="#799cf8"/><stop offset="1" stop-color="#7093f3"/></linearGradient>
<linearGradient id="g2_13"><stop offset="0" stop-color="#bd1f2d"/><stop offset="0.02128" stop-color="#b40426"/><stop offset="0.04255" stop-color="#b40426"/><stop offset="0.05319" stop-color="#b8122a"/><stop offset="0.07979" stop-color="#cb3e38"/><stop offset="0.117" stop-color="#e7745b"/><stop offset="0.1489" stop-color="#f6a385"/><stop offset="0.1755" stop-color="#f5c4ac"/><stop offset="0.2074" stop-color="#e2dad5"/><stop offset="0.2234" stop-color="#d4dbe6"/><stop offset="0.25" stop-color="#bed2f6"/><stop offset="0.2926" stop-color="#9bbcff"/><stop offset="0.3191" stop-color="#85a8fc"/><stop offset="0.367" stop-color="#7093f3"/><stop offset="0.4255" stop-color="#6a8bef"/><stop offset="0.5053" stop-color="#6e90f2"/><stop offset="0.5372" stop-color="#779af7"/><stop offset="0.5851" stop-color="#93b5fe"/><stop offset="0.6489" stop-color="#b7cff9"/><stop offset="0.7021" stop-color="#cbd8ee"/><stop offset="0.7872" stop-color="#d6dce4"/><stop offset="0.8564" stop-color="#cfdaea"/><stop offset="0.883" stop-color="#c3d5f4"/><stop offset="0.9202" stop-color="#a1c0ff"/><stop offset="0.9574" stop-color="#7ea1fa"/><stop offset="1" stop-color="#7396f5"/></linearGradient>
<linearGradient id="g2_14"><stop offset="0" stop-color="#b40426"/><stop offset="0.04787" stop-color="#b40426"/><stop offset="0.06383" stop-color="#b70d28"/><stop offset="0.07447" stop-color="#be242e"/><stop offset="0.117" stop-color="#df634e"/><stop offset="0.1543" stop-color="#f49a7b"/><stop offset="0.1862" stop-color="#f5c1a9"/><stop offset="0.2128" stop-color="#e7d7ce"/><stop offset="0.2287" stop-color="#d9dce1"/><stop offset="0.2606" stop-color="#c0d4f5"/><stop offset="0.2979" stop-color="#a2c1ff"/><stop offset="0.3245" stop-color="#8db0fe"/><stop offset="0.3511" stop-color="#81a4fb"/><stop offset="0.3617" stop-color="#799cf8"/><stop offset="0.3936" stop-color="#7396f5"/><stop offset="0.4255" stop-color="#6b8df0"/><stop offset="0.4947" stop-color="#6c8ff1"/><stop offset="0.5372" stop-color="#779af7"/><stop offset="0.5585" stop-color="#84a7fc"/><stop offset="0.6223" stop-color="#a3c2fe"/><stop offset="0.6489" stop-color="#b6cefa"/><stop offset="0.7021" stop-color="#ccd9ed"/><stop offset="0.7872" stop-color="#d7dce3"/><stop offset="0.8723" stop-color="#cfdaea"/><stop offset="0.9096" stop-color="#adc9fd"/><stop offset="0.9521" stop-color="#86a9fc"/><stop offset="0.9894" stop-color="#799cf8"/><stop offset="1" stop-color="#7699f6"/></linearGradient>
<linearGradient id="g2_15"><stop offset="0" stop-color="#b40426"/><stop offset="0.03723" stop-color="#b40426"/><stop offset="0.04787" stop-color="#b50927"/><stop offset="0.06383" stop-color="#b70d28"/><stop offset="0.07447" stop-color="#be242e"/><stop offset="0.1011" stop-color="#cb3e38"/><stop offset="0.117" stop-color="#d65244"/><stop offset="0.1543" stop-color="#ef886b"/><stop offset="0.1862" stop-color="#f7b497"/><stop offset="0.2128" stop-color="#efcfbf"/><stop offset="0.234" stop-color="#dddcdc"/><stop offset="0.2713" stop-color="#c1d4f4"/><stop offset="0.3138" stop-color="#9fbfff"/><stop offset="0.367" stop-color="#80a3fa"/><stop offset="0.4255" stop-color="#6f92f3"/><stop offset="0.5" stop-color="#6e90f2"/><stop offset="0.5479" stop-color="#7b9ff9"/><stop offset="0.6117" stop-color="#98b9ff"/><stop offset="0.6596" stop-color="#bad0f8"/><stop offset="0.7128" stop-color="#cedaeb"/><stop offset="0.7979" stop-color="#d8dce2"/><stop offset="0.8723" stop-color="#d3dbe7"/><stop offset="0.9043" stop-color="#b5cdfa"/><stop offset="0.9415" stop-color="#93b5fe"/><stop offset="0.9628" stop-color="#84a7fc"/><stop offset="1" stop-color="#799cf8"/></linearGradient>
<linearGradient id="g2_16"><stop offset="0" stop-color="#b40426"/><stop offset="0.0266" stop-color="#b40426"/><stop offset="0.04787" stop-color="#b70d28"/><stop offset="0.06383" stop-color="#b70d28"/><stop offset="0.07979" stop-color="#c0282f"/><stop offset="0.08511" stop-color="#c32e31"/><stop offset="0.1064" stop-color="#c32e31"/><stop offset="0.1383" stop-color="#dd5f4b"/><stop offset="0.1649" stop-color="#ee8669"/><stop offset="0.1968" stop-color="#f7b396"/><stop offset="0.2234" stop-color="#efcfbf"/><stop offset="0.2447" stop-color="#dedcdb"/><stop offset="0.2766" stop-color="#c6d6f1"/><stop offset="0.3191" stop-color="#a5c3fe"/><stop offset="0.3777" stop-color="#82a6fb"/><stop offset="0.4202" stop-color="#7597f6"/><stop offset="0.4947" stop-color="#6e90f2"/><stop offset="0.5638" stop-color="#7ea1fa"/><stop offset="0.617" stop-color="#96b7ff"/><stop offset="0.6596" stop-color="#bad0f8"/><stop offset="0.7128" stop-color="#cedaeb"/><stop offset="0.7926" stop-color="#dadce0"/><stop offset="0.8723" stop-color="#d6dce4"/><stop offset="0.9043" stop-color="#b7cff9"/><stop offset="0.9415" stop-color="#97b8ff"/><stop offset="0.9628" stop-color="#88abfd"/><stop offset="1" stop-color="#7b9ff9"/></linearGradient>
<linearGradient id="g2_17"><stop offset="0" stop-color="#b40426"/><stop offset="0.01596" stop-color="#b40426"/><stop offset="0.0266" stop-color="#b50927"/><stop offset="0.04787" stop-color="#b70d28"/><stop offset="0.06383" stop-color="#b70d28"/><stop offset="0.07979" stop-color="#c0282f"/><stop offset="0.08511" stop-color="#c32e31"/><stop offset="0.1064" stop-color="#c32e31"/><stop offset="0.1277" stop-color="#dd5f4b"/><stop offset="0.1702" stop-color="#e9785d"/><stop offset="0.1968" stop-color="#f6a586"/><stop offset="0.2234" stop-color="#f4c6af"/><stop offset="0.25" stop-color="#e5d8d1"/><stop offset="0.266" stop-color="#dadce0"/><stop offset="0.3085" stop-color="#bad0f8"/><stop offset="0.3617" stop-color="#94b6ff"/><stop offset="0.4149" stop-color="#7da0f9"/><stop offset="0.4947" stop-color="#7093f3"/><stop offset="0.5585" stop-color="#7b9ff9"/><stop offset="0.617" stop-color="#92b4fe"/><stop offset="0.6543" stop-color="#b6cefa"/><stop offset="0.6968" stop-color="#cbd8ee"/><stop offset="0.7819" stop-color="#dbdcde"/><stop offset="0.8511" stop-color="#dadce0"/><stop offset="0.8723" stop-color="#d9dce1"/><stop offset="0.8989" stop-color="#c1d4f4"/><stop offset="0.9309" stop-color="#abc8fd"/><stop offset="0.9628" stop-color="#96b7ff"/><stop offset="1" stop-color="#85a8fc"/></linearGradient>
<linearGradient id="g2_18"><stop offset="0" stop-color="#b40426"/><stop offset="0.0266" stop-color="#b70d28"/><stop offset="0.06383" stop-color="#b70d28"/><stop offset="0.07979" stop-color="#c0282f"/><stop offset="0.08511" stop-color="#c32e31"/><stop offset="0.1064" stop-color="#c32e31"/><stop offset="0.1223" stop-color="#dd5f4b"/><stop offset="0.1277" stop-color="#e36c55"/><stop offset="0.1489" stop-color="#e36c55"/><stop offset="0.1702" stop-color="#dc5d4a"/><stop offset="0.1968" stop-color="#f39475"/><stop offset="0.2234" stop-color="#f7b99e"/><stop offset="0.25" stop-color="#eed0c0"/><stop offset="0.2819" stop-color="#d9dce1"/><stop offset="0.3138" stop-color="#c3d5f4"/><stop offset="0.3617" stop-color="#a1c0ff"/><stop offset="0.4149" stop-color="#84a7fc"/><stop offset="0.484" stop-color="#7597f6"/><stop offset="0.5426" stop-color="#779af7"/><stop offset="0.6064" stop-color="#88abfd"/><stop offset="0.6223" stop-color="#93b5fe"/><stop offset="0.6543" stop-color="#b6cefa"/><stop offset="0.7021" stop-color="#cedaeb"/><stop offset="0.8032" stop-color="#dedcdb"/><stop offset="0.8351" stop-color="#dfdbd9"/><stop offset="0.8723" stop-color="#dcdddd"/><stop offset="0.8989" stop-color="#c6d6f1"/><stop offset="0.9202" stop-color="#bad0f8"/><stop offset="0.9415" stop-color="#b2ccfb"/><stop offset="0.9628" stop-color="#a3c2fe"/><stop offset="0.9947" stop-color="#94b6ff"/><stop offset="1" stop-color="#90b2fe"/></linearGradient>
<linearGradient id="g2_19"><stop offset="0" stop-color="#b50927"/><stop offset="0.01064" stop-color="#b50927"/><stop offset="0.02128" stop-color="#b70d28"/><stop offset="0.04255" stop-color="#b70d28"/><stop offset="0.07979" stop-color="#c12b30"/><stop offset="0.1064" stop-color="#c32e31"/><stop offset="0.1223" stop-color="#dd5f4b"/><stop offset="0.1277" stop-color="#e36c55"/><stop offset="0.1702" stop-color="#dc5d4a"/><stop offset="0.1915" stop-color="#f08b6e"/><stop offset="0.2128" stop-color="#f59d7e"/><stop offset="0.2394" stop-color="#f7bca1"/><stop offset="0.2766" stop-color="#e8d6cc"/><stop offset="0.2979" stop-color="#d8dce2"/><stop offset="0.3404" stop-color="#bbd1f8"/><stop offset="0.3883" stop-color="#9abbff"/><stop offset="0.4362" stop-color="#84a7fc"/><stop offset="0.4894" stop-color="#779af7"/><stop offset="0.5585" stop-color="#799cf8"/><stop offset="0.6011" stop-color="#82a6fb"/><stop offset="0.6277" stop-color="#9abbff"/><stop offset="0.6596" stop-color="#bcd2f7"/><stop offset="0.7128" stop-color="#d2dbe8"/><stop offset="0.7979" stop-color="#e1dad6"/><stop offset="0.8351" stop-color="#e3d9d3"/><stop offset="0.8723" stop-color="#dfdbd9"/><stop offset="0.9043" stop-color="#cad8ef"/><stop offset="0.9255" stop-color="#c0d4f5"/><stop offset="0.984" stop-color="#a5c3fe"/><stop offset="1" stop-color="#9bbcff"/></linearGradient>
<linearGradient id="g2_20"><stop offset="0" stop-color="#b70d28"/><stop offset="0.04255" stop-color="#b70d28"/><stop offset="0.05851" stop-color="#c0282f"/><stop offset="0.06383" stop-color="#c32e31"/><stop offset="0.1064" stop-color="#c32e31"/><stop offset="0.1223" stop-color="#dd5f4b"/><stop offset="0.1277" stop-color="#e36c55"/><stop offset="0.1489" stop-color="#dc5d4a"/><stop offset="0.1702" stop-color="#dc5d4a"/><stop offset="0.1915" stop-color="#f18d6f"/><stop offset="0.2128" stop-color="#f18d6f"/><stop offset="0.25" stop-color="#f7b89c"/><stop offset="0.2819" stop-color="#edd2c3"/><stop offset="0.3085" stop-color="#dbdcde"/><stop offset="0.3564" stop-color="#bad0f8"/><stop offset="0.3936" stop-color="#9fbfff"/><stop offset="0.4468" stop-color="#85a8fc"/><stop offset="0.5106" stop-color="#779af7"/><stop offset="0.5957" stop-color="#7b9ff9"/><stop offset="0.633" stop-color="#a2c1ff"/><stop offset="0.6596" stop-color="#bed2f6"/><stop offset="0.7128" stop-color="#d3dbe7"/><stop offset="0.7872" stop-color="#e2dad5"/><stop offset="0.8245" stop-color="#e8d6cc"/><stop offset="0.8723" stop-color="#e2dad5"/><stop offset="0.8989" stop-color="#d4dbe6"/><stop offset="0.9202" stop-color="#c9d7f0"/><stop offset="0.9628" stop-color="#bcd2f7"/><stop offset="1" stop-color="#a5c3fe"/></linearGradient>
<linearGradient id="g2_21"><stop offset="0" stop-color="#b70d28"/><stop offset="0.04255" stop-color="#b70d28"/><stop offset="0.05851" stop-color="#c0282f"/><stop offset="0.06383" stop-color="#c32e31"/><stop offset="0.1064" stop-color="#c32e31"/><stop offset="0.1277" stop-color="#e0654f"/><stop offset="0.1543" stop-color="#dc5d4a"/><stop offset="0.1702" stop-color="#dc5d4a"/><stop offset="0.1915" stop-color="#f18d6f"/><stop offset="0.2128" stop-color="#f18d6f"/><stop offset="0.234" stop-color="#f7b396"/><stop offset="0.2766" stop-color="#f4c6af"/><stop offset="0.3138" stop-color="#e0dbd8"/><stop offset="0.3457" stop-color="#cbd8ee"/><stop offset="0.3883" stop-color="#aec9fc"/><stop offset="0.4468" stop-color="#8fb1fe"/><stop offset="0.5319" stop-color="#81a4fb"/><stop offset="0.5957" stop-color="#7ea1fa"/><stop offset="0.633" stop-color="#a3c2fe"/><stop offset="0.6649" stop-color="#c1d4f4"/><stop offset="0.7234" stop-color="#d6dce4"/><stop offset="0.7819" stop-color="#e4d9d2"/><stop offset="0.8298" stop-color="#ecd3c5"/><stop offset="0.8777" stop-color="#e2dad5"/><stop offset="0.9096" stop-color="#d4dbe6"/><stop offset="0.9628" stop-color="#c1d4f4"/><stop offset="0.984" stop-color="#b5cdfa"/><stop offset="1" stop-color="#afcafc"/></linearGradient>
<linearGradient id="g2_22"><stop offset="0" stop-color="#b70d28"/><stop offset="0.04255" stop-color="#b70d28"/><stop offset="0.05851" stop-color="#c0282f"/><stop offset="0.06383" stop-color="#c32e31"/><stop offset="0.1064" stop-color="#c32e31"/><stop offset="0.1277" stop-color="#dc5d4a"/><stop offset="0.1702" stop-color="#dc5d4a"/><stop offset="0.1915" stop-color="#f18d6f"/><stop offset="0.2128" stop-color="#f18d6f"/><stop offset="0.2287" stop-color="#f7b396"/><stop offset="0.234" stop-color="#f6bda2"/><stop offset="0.2766" stop-color="#f6bda2"/><stop offset="0.3138" stop-color="#e8d6cc"/><stop offset="0.3351" stop-color="#d9dce1"/><stop offset="0.367" stop-color="#c4d5f3"/><stop offset="0.4309" stop-color="#a1c0ff"/><stop offset="0.4468" stop-color="#97b8ff"/><stop offset="0.4894" stop-color="#96b7ff"/><stop offset="0.5372" stop-color="#8badfd"/><stop offset="0.5957" stop-color="#82a6fb"/><stop offset="0.6383" stop-color="#aac7fd"/><stop offset="0.6649" stop-color="#c3d5f4"/><stop offset="0.7287" stop-color="#d9dce1"/><stop offset="0.8085" stop-color="#ecd3c5"/><stop offset="0.8351" stop-color="#eed0c0"/><stop offset="0.8936" stop-color="#dfdbd9"/><stop offset="0.9521" stop-color="#cbd8ee"/><stop offset="0.9787" stop-color="#bad0f8"/><stop offset="1" stop-color="#bad0f8"/></linearGradient>
<linearGradient id="g2_23"><stop offset="0" stop-color="#b70d28"/><stop offset="0.02128" stop-color="#b70d28"/><stop offset="0.05851" stop-color="#c12b30"/><stop offset="0.1064" stop-color="#c32e31"/><stop offset="0.1277" stop-color="#dc5d4a"/><stop offset="0.1489" stop-color="#dc5d4a"/><stop offset="0.1915" stop-color="#f18d6f"/><stop offset="0.2128" stop-color="#f18d6f"/><stop offset="0.2287" stop-color="#f7b396"/><stop offset="0.234" stop-color="#f6bda2"/><stop offset="0.2766" stop-color="#f6bda2"/><stop offset="0.2979" stop-color="#f4c6af"/><stop offset="0.3138" stop-color="#e7d7ce"/><stop offset="0.3191" stop-color="#e0dbd8"/><stop offset="0.3457" stop-color="#dedcdb"/><stop offset="0.383" stop-color="#cdd9ec"/><stop offset="0.4415" stop-color="#adc9fd"/><stop offset="0.5372" stop-color="#96b7ff"/><stop offset="0.5957" stop-color="#90b2fe"/><stop offset="0.6383" stop-color="#aac7fd"/><stop offset="0.6596" stop-color="#c1d4f4"/><stop offset="0.7287" stop-color="#dadce0"/><stop offset="0.766" stop-color="#e4d9d2"/><stop offset="0.8032" stop-color="#edd2c3"/><stop offset="0.8351" stop-color="#efcfbf"/><stop offset="0.8777" stop-color="#e7d7ce"/><stop offset="0.9255" stop-color="#d8dce2"/><stop offset="0.9415" stop-color="#d4dbe6"/><stop offset="0.9787" stop-color="#bad0f8"/><stop offset="1" stop-color="#bad0f8"/></linearGradient>
<linearGradient id="g2_24"><stop offset="0" stop-color="#b70d28"/><stop offset="0.02128" stop-color="#b70d28"/><stop offset="0.03723" stop-color="#c0282f"/><stop offset="0.04255" stop-color="#c32e31"/><stop offset="0.1064" stop-color="#c32e31"/><stop offset="0.1277" stop-color="#dc5d4a"/><stop offset="0.1489" stop-color="#dc5d4a"/><stop offset="0.1702" stop-color="#f18d6f"/><stop offset="0.2128" stop-color="#f18d6f"/><stop offset="0.2287" stop-color="#f7b396"/><stop offset="0.234" stop-color="#f6bda2"/><stop offset="0.2979" stop-color="#f6bda2"/><stop offset="0.3138" stop-color="#e6d7cf"/><stop offset="0.3191" stop-color="#dddcdc"/><stop offset="0.3404" stop-color="#e9d5cb"/><stop offset="0.3617" stop-color="#e9d5cb"/><stop offset="0.3883" stop-color="#dadce0"/><stop offset="0.4362" stop-color="#c1d4f4"/><stop offset="0.5" stop-color="#a9c6fd"/><stop offset="0.5638" stop-color="#9ebeff"/><stop offset="0.6064" stop-color="#a1c0ff"/><stop offset="0.6383" stop-color="#a9c6fd"/><stop offset="0.6596" stop-color="#c3d5f4"/><stop offset="0.7394" stop-color="#dddcdc"/><stop offset="0.7979" stop-color="#eed0c0"/><stop offset="0.8351" stop-color="#f0cdbb"/><stop offset="0.8777" stop-color="#ead5c9"/><stop offset="0.9149" stop-color="#dddcdc"/><stop offset="0.9362" stop-color="#dddcdc"/><stop offset="0.9628" stop-color="#c5d6f2"/><stop offset="0.9787" stop-color="#bad0f8"/><stop offset="1" stop-color="#bad0f8"/></linearGradient>
<linearGradient id="g2_25"><stop offset="0" stop-color="#b70d28"/><stop offset="0.02128" stop-color="#b70d28"/><stop offset="0.03723" stop-color="#c0282f"/><stop offset="0.04255" stop-color="#c32e31"/><stop offset="0.1064" stop-color="#c32e31"/><stop offset="0.1277" stop-color="#dc5d4a"/><stop offset="0.1489" stop-color="#dc5d4a"/><stop offset="0.1702" stop-color="#f18d6f"/><stop offset="0.2128" stop-color="#f18d6f"/><stop offset="0.2287" stop-color="#f7b396"/><stop offset="0.234" stop-color="#f6bda2"/><stop offset="0.2979" stop-color="#f6bda2"/><stop offset="0.3138" stop-color="#e6d7cf"/><stop offset="0.3191" stop-color="#dddcdc"/><stop offset="0.3404" stop-color="#e9d5cb"/><stop offset="0.3617" stop-color="#e9d5cb"/><stop offset="0.3883" stop-color="#dbdcde"/><stop offset="0.4202" stop-color="#cedaeb"/><stop offset="0.516" stop-color="#aec9fc"/><stop offset="0.5851" stop-color="#a5c3fe"/><stop offset="0.6277" stop-color="#aac7fd"/><stop offset="0.6436" stop-color="#b3cdfb"/><stop offset="0.6649" stop-color="#c5d6f2"/><stop offset="0.7394" stop-color="#dedcdb"/><stop offset="0.7926" stop-color="#edd1c2"/><stop offset="0.8298" stop-color="#f1ccb8"/><stop offset="0.8936" stop-color="#ead4c8"/><stop offset="0.9149" stop-color="#dddcdc"/><stop offset="0.9362" stop-color="#dddcdc"/><stop offset="0.9628" stop-color="#c5d6f2"/><stop offset="0.9787" stop-color="#bad0f8"/><stop offset="1" stop-color="#bad0f8"/></linearGradient>
<linearGradient id="g2_26"><stop offset="0" stop-color="#b70d28"/><stop offset="0.02128" stop-color="#b70d28"/><stop offset="0.03723" stop-color="#c0282f"/><stop offset="0.04255" stop-color="#c32e31"/><stop offset="0.1064" stop-color="#c32e31"/><stop offset="0.1277" stop-color="#dc5d4a"/><stop offset="0.1489" stop-color="#dc5d4a"/><stop offset="0.1702" stop-color="#f18d6f"/><stop offset="0.2128" stop-color="#f18d6f"/><stop offset="0.2287" stop-color="#f7b396"/><stop offset="0.234" stop-color="#f6bda2"/><stop offset="0.2979" stop-color="#f6bda2"/><stop offset="0.3138" stop-color="#e6d7cf"/><stop offset="0.3191" stop-color="#dddcdc"/><stop offset="0.3404" stop-color="#e9d5cb"/><stop offset="0.3617" stop-color="#e9d5cb"/><stop offset="0.383" stop-color="#dddcdc"/><stop offset="0.4043" stop-color="#dddcdc"/><stop offset="0.4255" stop-color="#cfdaea"/><stop offset="0.4574" stop-color="#ccd9ed"/><stop offset="0.5372" stop-color="#b2ccfb"/><stop offset="0.6064" stop-color="#aac7fd"/><stop offset="0.6383" stop-color="#b3cdfb"/><stop offset="0.6702" stop-color="#c9d7f0"/><stop offset="0.7447" stop-color="#e0dbd8"/><stop offset="0.7926" stop-color="#edd1c2"/><stop offset="0.8298" stop-color="#f2cbb7"/><stop offset="0.8883" stop-color="#efcfbf"/><stop offset="0.8936" stop-color="#efcfbf"/><stop offset="0.9149" stop-color="#dddcdc"/><stop offset="0.9362" stop-color="#dddcdc"/><stop offset="0.9628" stop-color="#c5d6f2"/><stop offset="0.9787" stop-color="#bad0f8"/><stop offset="1" stop-color="#bad0f8"/></linearGradient>
<linearGradient id="g2_27"><stop offset="0" stop-color="#b70d28"/><stop offset="0.03723" stop-color="#c12b30"/><stop offset="0.08511" stop-color="#c32e31"/><stop offset="0.1223" stop-color="#d95847"/><stop offset="0.1702" stop-color="#f18d6f"/><stop offset="0.2128" stop-color="#f18d6f"/><stop offset="0.2287" stop-color="#f7b396"/><stop offset="0.234" stop-color="#f6bda2"/><stop offset="0.2979" stop-color="#f6bda2"/><stop offset="0.3138" stop-color="#ead4c8"/><stop offset="0.3191" stop-color="#e3d9d3"/><stop offset="0.3457" stop-color="#e9d5cb"/><stop offset="0.3617" stop-color="#e9d5cb"/><stop offset="0.383" stop-color="#dddcdc"/><stop offset="0.4043" stop-color="#dddcdc"/><stop offset="0.4255" stop-color="#cfdaea"/><stop offset="0.4681" stop-color="#ccd9ed"/><stop offset="0.4947" stop-color="#bfd3f6"/><stop offset="0.5426" stop-color="#b2ccfb"/><stop offset="0.5851" stop-color="#adc9fd"/><stop offset="0.6277" stop-color="#b3cdfb"/><stop offset="0.6862" stop-color="#cfdaea"/><stop offset="0.7447" stop-color="#e1dad6"/><stop offset="0.7926" stop-color="#edd1c2"/><stop offset="0.8191" stop-color="#f0cdbb"/><stop offset="0.8351" stop-color="#f2cbb7"/><stop offset="0.8883" stop-color="#efcfbf"/><stop offset="0.8936" stop-color="#efcfbf"/><stop offset="0.9149" stop-color="#dddcdc"/><stop offset="0.9362" stop-color="#dddcdc"/><stop offset="0.9574" stop-color="#d4dbe6"/><stop offset="0.9787" stop-color="#bad0f8"/><stop offset="1" stop-color="#bad0f8"/></linearGradient>
<linearGradient id="g2_28"><stop offset="0" stop-color="#b70d28"/><stop offset="0.01596" stop-color="#c0282f"/><stop offset="0.02128" stop-color="#c32e31"/><stop offset="0.08511" stop-color="#c32e31"/><stop offset="0.1064" stop-color="#dc5d4a"/><stop offset="0.1277" stop-color="#dc5d4a"/><stop offset="0.1489" stop-color="#f18d6f"/><stop offset="0.2128" stop-color="#f18d6f"/><stop offset="0.2287" stop-color="#f7b396"/><stop offset="0.234" stop-color="#f6bda2"/><stop offset="0.2979" stop-color="#f6bda2"/><stop offset="0.3191" stop-color="#e9d5cb"/><stop offset="0.3617" stop-color="#e9d5cb"/><stop offset="0.383" stop-color="#dddcdc"/><stop offset="0.4043" stop-color="#dddcdc"/><stop offset="0.4255" stop-color="#cfdaea"/><stop offset="0.4681" stop-color="#cfdaea"/><stop offset="0.4894" stop-color="#c0d4f5"/><stop offset="0.5106" stop-color="#c0d4f5"/><stop offset="0.5319" stop-color="#b3cdfb"/><stop offset="0.5585" stop-color="#b1cbfc"/><stop offset="0.5798" stop-color="#aec9fc"/><stop offset="0.6064" stop-color="#b3cdfb"/><stop offset="0.6223" stop-color="#b6cefa"/><stop offset="0.7021" stop-color="#d5dbe5"/><stop offset="0.75" stop-color="#e3d9d3"/><stop offset="0.7872" stop-color="#edd2c3"/><stop offset="0.8138" stop-color="#eed0c0"/><stop offset="0.8351" stop-color="#f2cbb7"/><stop offset="0.8617" stop-color="#f1cdba"/><stop offset="0.883" stop-color="#efcfbf"/><stop offset="0.8936" stop-color="#efcfbf"/><stop offset="0.9149" stop-color="#dddcdc"/><stop offset="0.9574" stop-color="#dddcdc"/><stop offset="0.9734" stop-color="#c3d5f4"/><stop offset="0.9787" stop-color="#bad0f8"/><stop offset="1" stop-color="#bad0f8"/></linearGradient>
<g id="hm2" shape-rendering="crispEdges"><rect x="1132.3" y="248" width="641.3" height="7" fill="url(#g2_0)"/><rect x="1132.3" y="248" width="641.3" height="7" fill="url(#g2_1)" mask="url(#vm)"/><rect x="1132.3" y="241" width="641.3" height="7" fill="url(#g2_1)"/><rect x="1132.3" y="241" width="641.3" height="7" fill="url(#g2_2)" mask="url(#vm)"/><rect x="1132.3" y="234" width="641.3" height="7" fill="url(#g2_2)"/><rect x="1132.3" y="234" width="641.3" height="7" fill="url(#g2_3)" mask="url(#vm)"/><rect x="1132.3" y="228" width="641.3" height="6" fill="url(#g2_3)"/><rect x="1132.3" y="228" width="641.3" height="6" fill="url(#g2_4)" mask="url(#vm)"/><rect x="1132.3" y="221" width="641.3" height="7" fill="url(#g2_4)"/><rect x="1132.3" y="221" width="641.3" height="7" fill="url(#g2_5)" mask="url(#vm)"/><rect x="1132.3" y="214" width="641.3" height="7" fill="url(#g2_5)"/><rect x="1132.3" y="214" width="641.3" height="7" fill="url(#g2_6)" mask="url(#vm)"/><rect x="1132.3" y="207" width="641.3" height="7" fill="url(#g2_6)"/><rect x="1132.3" y="207" width="641.3" height="7" fill="url(#g2_7)" mask="url(#vm)"/><rect x="1132.3" y="200" width="641.3" height="7" fill="url(#g2_7)"/><rect x="1132.3" y="200" width="641.3" height="7" fill="url(#g2_8)" mask="url(#vm)"/><rect x="1132.3" y="194" width="641.3" height="6" fill="url(#g2_8)"/><rect x="1132.3" y="194" width="641.3" height="6" fill="url(#g2_9)" mask="url(#vm)"/><rect x="1132.3" y="187" width="641.3" height="7" fill="url(#g2_9)"/><rect x="1132.3" y="187" width="641.3" height="7" fill="url(#g2_10)" mask="url(#vm)"/><rect x="1132.3" y="180" width="641.3" height="7" fill="url(#g2_10)"/><rect x="1132.3" y="180" width="641.3" height="7" fill="url(#g2_11)" mask="url(#vm)"/><rect x="1132.3" y="173" width="641.3" height="7" fill="url(#g2_11)"/><rect x="1132.3" y="173" width="641.3" height="7" fill="url(#g2_12)" mask="url(#vm)"/><rect x="1132.3" y="166" width="641.3" height="7" fill="url(#g2_12)"/><rect x="1132.3" y="166" width="641.3" height="7" fill="url(#g2_13)" mask="url(#vm)"/><rect x="1132.3" y="160" width="641.3" height="6" fill="url(#g2_13)"/><rect x="1132.3" y="160" width="641.3" height="6" fill="url(#g2_14)" mask="url(#vm)"/><rect x="1132.3" y="153" width="641.3" height="7" fill="url(#g2_14)"/><rect x="1132.3" y="153" width="641.3" height="7" fill="url(#g2_15)" mask="url(#vm)"/><rect x="1132.3" y="146" width="641.3" height="7" fill="url(#g2_15)"/><rect x="1132.3" y="146" width="641.3" height="7" fill="url(#g2_16)" mask="url(#vm)"/><rect x="1132.3" y="139" width="641.3" height="7" fill="url(#g2_16)"/><rect x="1132.3" y="139" width="641.3" height="7" fill="url(#g2_17)" mask="url(#vm)"/><rect x="1132.3" y="132" width="641.3" height="7" fill="url(#g2_17)"/><rect x="1132.3" y="132" width="641.3" height="7" fill="url(#g2_18)" mask="url(#vm)"/><rect x="1132.3" y="126" width="641.3" height="6" fill="url(#g2_18)"/><rect x="1132.3" y="126" width="641.3" height="6" fill="url(#g2_19)" mask="url(#vm)"/><rect x="1132.3" y="119" width="641.3" height="7" fill="url(#g2_19)"/><rect x="1132.3" y="119" width="641.3" height="7" fill="url(#g2_20)" mask="url(#vm)"/><rect x="1132.3" y="112" width="641.3" height="7" fill="url(#g2_20)"/><rect x="1132.3" y="112" width="641.3" height="7" fill="url(#g2_21)" mask="url(#vm)"/><rect x="1132.3" y="105" width="641.3" height="7" fill="url(#g2_21)"/><rect x="1132.3" y="105" width="641.3" height="7" fill="url(#g2_22)" mask="url(#vm)"/><rect x="1132.3" y="98" width="641.3" height="7" fill="url(#g2_22)"/><rect x="1132.3" y="98" width="641.3" height="7" fill="url(#g2_23)" mask="url(#vm)"/><rect x="1132.3" y="92" width="641.3" height="6" fill="url(#g2_23)"/><rect x="1132.3" y="92" width="641.3" height="6" fill="url(#g2_24)" mask="url(#vm)"/><rect x="1132.3" y="85" width="641.3" height="7" fill="url(#g2_24)"/><rect x="1132.3" y="85" width="641.3" height="7" fill="url(#g2_25)" mask="url(#vm)"/><rect x="1132.3" y="78" width="641.3" height="7" fill="url(#g2_25)"/><rect x="1132.3" y="78" width="641.3" height="7" fill="url(#g2_26)" mask="url(#vm)"/><rect x="1132.3" y="71" width="641.3" height="7" fill="url(#g2_26)"/><rect x="1132.3" y="71" width="641.3" height="7" fill="url(#g2_27)" mask="url(#vm)"/><rect x="1132.3" y="64" width="641.3" height="7" fill="url(#g2_27)"/><rect x="1132.3" y="64" width="641.3" height="7" fill="url(#g2_28)" mask="url(#vm)"/></g>
<linearGradient id="g3_0"><stop offset="0" stop-color="#3b4cc0"/><stop offset="0.03889" stop-color="#3b4cc0"/><stop offset="0.05556" stop-color="#3d50c3"/><stop offset="0.1778" stop-color="#445acc"/><stop offset="0.2667" stop-color="#536edd"/><stop offset="0.3389" stop-color="#688aef"/><stop offset="0.4056" stop-color="#89acfd"/><stop offset="0.4611" stop-color="#aec9fc"/><stop offset="0.5" stop-color="#cbd8ee"/><stop offset="0.5278" stop-color="#dedcdb"/><stop offset="0.5667" stop-color="#f2c9b4"/><stop offset="0.6056" stop-color="#f7a98b"/><stop offset="0.6556" stop-color="#e97a5f"/><stop offset="0.6944" stop-color="#dd5f4b"/><stop offset="0.7167" stop-color="#d95847"/><stop offset="0.7389" stop-color="#da5a49"/><stop offset="0.7556" stop-color="#de614d"/><stop offset="0.7611" stop-color="#f7ba9f"/><stop offset="0.7667" stop-color="#cdd9ec"/><stop offset="0.7722" stop-color="#84a7fc"/><stop offset="0.7778" stop-color="#3d50c3"/><stop offset="1" stop-color="#3d50c3"/></linearGradient>
<linearGradient id="g3_1"><stop offset="0" stop-color="#3b4cc0"/><stop offset="0.03889" stop-color="#3b4cc0"/><stop offset="0.05556" stop-color="#3d50c3"/><stop offset="0.1778" stop-color="#445acc"/><stop offset="0.2778" stop-color="#5572df"/><stop offset="0.3556" stop-color="#7093f3"/><stop offset="0.4278" stop-color="#9abbff"/><stop offset="0.4722" stop-color="#bbd1f8"/><stop offset="0.5111" stop-color="#d7dce3"/><stop offset="0.5389" stop-color="#ead5c9"/><stop offset="0.5778" stop-color="#f7b99e"/><stop offset="0.6167" stop-color="#f29274"/><stop offset="0.6667" stop-color="#dc5d4a"/><stop offset="0.6889" stop-color="#d0473d"/><stop offset="0.7167" stop-color="#ca3b37"/><stop offset="0.7389" stop-color="#cb3e38"/><stop offset="0.7556" stop-color="#d0473d"/><stop offset="0.7611" stop-color="#ec8165"/><stop offset="0.7667" stop-color="#f7af91"/><stop offset="0.7722" stop-color="#efcfbf"/><stop offset="0.7778" stop-color="#d4dbe6"/><stop offset="0.7833" stop-color="#b1cbfc"/><stop offset="0.7889" stop-color="#88abfd"/><stop offset="0.7944" stop-color="#6180e9"/><stop offset="0.8" stop-color="#3d50c3"/><stop offset="1" stop-color="#3d50c3"/></linearGradient>
<linearGradient id="g3_2"><stop offset="0" stop-color="#3b4cc0"/><stop offset="0.03889" stop-color="#3b4cc0"/><stop offset="0.05556" stop-color="#3d50c3"/><stop offset="0.1722" stop-color="#445acc"/><stop offset="0.2611" stop-color="#536edd"/><stop offset="0.3333" stop-color="#688aef"/><stop offset="0.4056" stop-color="#8db0fe"/><stop offset="0.4556" stop-color="#b1cbfc"/><stop offset="0.5" stop-color="#d3dbe7"/><stop offset="0.5222" stop-color="#e3d9d3"/><stop offset="0.5611" stop-color="#f5c1a9"/><stop offset="0.6" stop-color="#f49a7b"/><stop offset="0.6444" stop-color="#df634e"/><stop offset="0.6889" stop-color="#c12b30"/><stop offset="0.7056" stop-color="#ba162b"/><stop offset="0.7111" stop-color="#b70d28"/><stop offset="0.7333" stop-color="#b70d28"/><stop offset="0.7444" stop-color="#bd1f2d"/><stop offset="0.7778" stop-color="#d0473d"/><stop offset="0.7833" stop-color="#f7af91"/><stop offset="0.7889" stop-color="#d4dbe6"/><stop offset="0.7944" stop-color="#88abfd"/><stop offset="0.8" stop-color="#3d50c3"/><stop offset="1" stop-color="#3d50c3"/></linearGradient>
<linearGradient id="g3_3"><stop offset="0" stop-color="#3b4cc0"/><stop offset="0.03889" stop-color="#3b4cc0"/><stop offset="0.05556" stop-color="#3d50c3"/><stop offset="0.1722" stop-color="#445acc"/><stop offset="0.25" stop-color="#506bda"/><stop offset="0.3222" stop-color="#6384eb"/><stop offset="0.4" stop-color="#89acfd"/><stop offset="0.4556" stop-color="#afcafc"/><stop offset="0.5" stop-color="#d2dbe8"/><stop offset="0.5222" stop-color="#e1dad6"/><stop offset="0.5611" stop-color="#f5c4ac"/><stop offset="0.6" stop-color="#f59f80"/><stop offset="0.6444" stop-color="#e36b54"/><stop offset="0.6833" stop-color="#cc403a"/><stop offset="0.7" stop-color="#c43032"/><stop offset="0.7111" stop-color="#c0282f"/><stop offset="0.7333" stop-color="#c0282f"/><stop offset="0.7556" stop-color="#c83836"/><stop offset="0.7778" stop-color="#d55042"/><stop offset="0.7833" stop-color="#f7b396"/><stop offset="0.7889" stop-color="#d1dae9"/><stop offset="0.7944" stop-color="#86a9fc"/><stop offset="0.8" stop-color="#3d50c3"/><stop offset="1" stop-color="#3d50c3"/></linearGradient>
<linearGradient id="g3_4"><stop offset="0" stop-color="#3b4cc0"/><stop offset="0.03889" stop-color="#3b4cc0"/><stop offset="0.05556" stop-color="#3d50c3"/><stop offset="0.1833" stop-color="#455cce"/><stop offset="0.2722" stop-color="#5470de"/><stop offset="0.3611" stop-color="#7396f5"/><stop offset="0.4222" stop-color="#97b8ff"/><stop offset="0.4722" stop-color="#bbd1f8"/><stop offset="0.5167" stop-color="#dbdcde"/><stop offset="0.5556" stop-color="#f2cbb7"/><stop offset="0.5944" stop-color="#f7a98b"/><stop offset="0.6389" stop-color="#e9785d"/><stop offset="0.6833" stop-color="#d24b40"/><stop offset="0.7111" stop-color="#ca3b37"/><stop offset="0.7389" stop-color="#cb3e38"/><stop offset="0.7667" stop-color="#d55042"/><stop offset="0.7778" stop-color="#da5a49"/><stop offset="0.7833" stop-color="#f7b89c"/><stop offset="0.7889" stop-color="#cedaeb"/><stop offset="0.7944" stop-color="#85a8fc"/><stop offset="0.8" stop-color="#3d50c3"/><stop offset="1" stop-color="#3d50c3"/></linearGradient>
<linearGradient id="g3_5"><stop offset="0" stop-color="#3b4cc0"/><stop offset="0.03889" stop-color="#3b4cc0"/><stop offset="0.05556" stop-color="#3d50c3"/><stop offset="0.1778" stop-color="#445acc"/><stop offset="0.2722" stop-color="#536edd"/><stop offset="0.3611" stop-color="#7093f3"/><stop offset="0.4278" stop-color="#96b7ff"/><stop offset="0.4778" stop-color="#b9d0f9"/><stop offset="0.5222" stop-color="#d8dce2"/><stop offset="0.55" stop-color="#ead5c9"/><stop offset="0.5889" stop-color="#f7bca1"/><stop offset="0.6389" stop-color="#f29072"/><stop offset="0.6833" stop-color="#e46e56"/><stop offset="0.7167" stop-color="#df634e"/><stop offset="0.7444" stop-color="#e16751"/><stop offset="0.7778" stop-color="#e97a5f"/><stop offset="0.7833" stop-color="#f7a98b"/><stop offset="0.7889" stop-color="#f1ccb8"/><stop offset="0.7944" stop-color="#d8dce2"/><stop offset="0.8" stop-color="#b6cefa"/><stop offset="0.8056" stop-color="#97b8ff"/><stop offset="0.8111" stop-color="#779af7"/><stop offset="0.8167" stop-color="#5977e3"/><stop offset="0.8222" stop-color="#3d50c3"/><stop offset="1" stop-color="#3d50c3"/></linearGradient>
<linearGradient id="g3_6"><stop offset="0" stop-color="#3b4cc0"/><stop offset="0.04444" stop-color="#3c4ec2"/><stop offset="0.1833" stop-color="#445acc"/><stop offset="0.2722" stop-color="#536edd"/><stop offset="0.3333" stop-color="#6384eb"/><stop offset="0.4111" stop-color="#86a9fc"/><stop offset="0.4667" stop-color="#aac7fd"/><stop offset="0.5111" stop-color="#cad8ef"/><stop offset="0.5444" stop-color="#dedcdb"/><stop offset="0.5833" stop-color="#f2cbb7"/><stop offset="0.6333" stop-color="#f7aa8c"/><stop offset="0.6778" stop-color="#f18f71"/><stop offset="0.7167" stop-color="#ee8468"/><stop offset="0.7556" stop-color="#f08a6c"/><stop offset="0.8" stop-color="#f6a283"/><stop offset="0.8056" stop-color="#e9d5cb"/><stop offset="0.8111" stop-color="#b6cefa"/><stop offset="0.8167" stop-color="#779af7"/><stop offset="0.8222" stop-color="#3d50c3"/><stop offset="1" stop-color="#3d50c3"/></linearGradient>
<linearGradient id="g3_7"><stop offset="0" stop-color="#3b4cc0"/><stop offset="0.15" stop-color="#4055c8"/><stop offset="0.25" stop-color="#4c66d6"/><stop offset="0.3278" stop-color="#5e7de7"/><stop offset="0.4" stop-color="#7b9ff9"/><stop offset="0.4667" stop-color="#a1c0ff"/><stop offset="0.5167" stop-color="#c1d4f4"/><stop offset="0.5611" stop-color="#dcdddd"/><stop offset="0.6111" stop-color="#f1ccb8"/><stop offset="0.6556" stop-color="#f7b79b"/><stop offset="0.7" stop-color="#f7a98b"/><stop offset="0.7333" stop-color="#f7a688"/><stop offset="0.7778" stop-color="#f7b396"/><stop offset="0.8" stop-color="#f7bca1"/><stop offset="0.8056" stop-color="#dbdcde"/><stop offset="0.8111" stop-color="#a9c6fd"/><stop offset="0.8167" stop-color="#7093f3"/><stop offset="0.8222" stop-color="#3d50c3"/><stop offset="1" stop-color="#3d50c3"/></linearGradient>
<linearGradient id="g3_8"><stop offset="0" stop-color="#3b4cc0"/><stop offset="0.1556" stop-color="#4055c8"/><stop offset="0.2611" stop-color="#4c66d6"/><stop offset="0.3556" stop-color="#6384eb"/><stop offset="0.45" stop-color="#8db0fe"/><stop offset="0.5111" stop-color="#b2ccfb"/><stop offset="0.5722" stop-color="#d4dbe6"/><stop offset="0.6056" stop-color="#e3d9d3"/><stop offset="0.6667" stop-color="#f2cab5"/><stop offset="0.7111" stop-color="#f5c2aa"/><stop offset="0.7611" stop-color="#f4c6af"/><stop offset="0.8" stop-color="#efcfbf"/><stop offset="0.8056" stop-color="#ccd9ed"/><stop offset="0.8111" stop-color="#9dbdff"/><stop offset="0.8167" stop-color="#6b8df0"/><stop offset="0.8222" stop-color="#3d50c3"/><stop offset="1" stop-color="#3d50c3"/></linearGradient>
<linearGradient id="g3_9"><stop offset="0" stop-color="#3b4cc0"/><stop offset="0.1667" stop-color="#4055c8"/><stop offset="0.2722" stop-color="#4c66d6"/><stop offset="0.3611" stop-color="#6180e9"/><stop offset="0.4556" stop-color="#86a9fc"/><stop offset="0.5222" stop-color="#aac7fd"/><stop offset="0.5944" stop-color="#cdd9ec"/><stop offset="0.65" stop-color="#e0dbd8"/><stop offset="0.7111" stop-color="#e9d5cb"/><stop offset="0.7611" stop-color="#e6d7cf"/><stop offset="0.8" stop-color="#dedcdb"/><stop offset="0.8056" stop-color="#cad8ef"/><stop offset="0.8111" stop-color="#b3cdfb"/><stop offset="0.8167" stop-color="#9abbff"/><stop offset="0.8222" stop-color="#80a3fa"/><stop offset="0.8333" stop-color="#5d7ce6"/><stop offset="0.8444" stop-color="#3d50c3"/><stop offset="1" stop-color="#3d50c3"/></linearGradient>
<linearGradient id="g3_10"><stop offset="0" stop-color="#3b4cc0"/><stop offset="0.1778" stop-color="#4055c8"/><stop offset="0.2833" stop-color="#4c66d6"/><stop offset="0.3778" stop-color="#6180e9"/><stop offset="0.4778" stop-color="#86a9fc"/><stop offset="0.5556" stop-color="#aac7fd"/><stop offset="0.6444" stop-color="#cbd8ee"/><stop offset="0.7167" stop-color="#d4dbe6"/><stop offset="0.7833" stop-color="#cedaeb"/><stop offset="0.8222" stop-color="#c4d5f3"/><stop offset="0.8278" stop-color="#a3c2fe"/><stop offset="0.8333" stop-color="#80a3fa"/><stop offset="0.8389" stop-color="#5d7ce6"/><stop offset="0.8444" stop-color="#3d50c3"/><stop offset="1" stop-color="#3d50c3"/></linearGradient>
<linearGradient id="g3_11"><stop offset="0" stop-color="#3b4cc0"/><stop offset="0.1722" stop-color="#3f53c6"/><stop offset="0.3" stop-color="#4c66d6"/><stop offset="0.3944" stop-color="#6180e9"/><stop offset="0.5" stop-color="#84a7fc"/><stop offset="0.6" stop-color="#aac7fd"/><stop offset="0.6944" stop-color="#bfd3f6"/><stop offset="0.7611" stop-color="#bed2f6"/><stop offset="0.8222" stop-color="#b1cbfc"/><stop offset="0.8278" stop-color="#93b5fe"/><stop offset="0.8333" stop-color="#7597f6"/><stop offset="0.8389" stop-color="#5875e1"/><stop offset="0.8444" stop-color="#3d50c3"/><stop offset="1" stop-color="#3d50c3"/></linearGradient>
<linearGradient id="g3_12"><stop offset="0" stop-color="#3b4cc0"/><stop offset="0.1833" stop-color="#3f53c6"/><stop offset="0.3111" stop-color="#4b64d5"/><stop offset="0.4333" stop-color="#6384eb"/><stop offset="0.5556" stop-color="#89acfd"/><stop offset="0.65" stop-color="#a2c1ff"/><stop offset="0.7333" stop-color="#a9c6fd"/><stop offset="0.8222" stop-color="#9dbdff"/><stop offset="0.8278" stop-color="#82a6fb"/><stop offset="0.8333" stop-color="#6a8bef"/><stop offset="0.8389" stop-color="#536edd"/><stop offset="0.8444" stop-color="#3d50c3"/><stop offset="1" stop-color="#3d50c3"/></linearGradient>
<linearGradient id="g3_13"><stop offset="0" stop-color="#3b4cc0"/><stop offset="0.2" stop-color="#3f53c6"/><stop offset="0.3389" stop-color="#4c66d6"/><stop offset="0.4833" stop-color="#688aef"/><stop offset="0.6167" stop-color="#89acfd"/><stop offset="0.7" stop-color="#94b6ff"/><stop offset="0.7722" stop-color="#93b5fe"/><stop offset="0.8222" stop-color="#8badfd"/><stop offset="0.8278" stop-color="#7699f6"/><stop offset="0.8333" stop-color="#6282ea"/><stop offset="0.8444" stop-color="#3d50c3"/><stop offset="1" stop-color="#3d50c3"/></linearGradient>
<linearGradient id="g3_14"><stop offset="0" stop-color="#3b4cc0"/><stop offset="0.1944" stop-color="#3e51c5"/><stop offset="0.35" stop-color="#4a63d3"/><stop offset="0.5333" stop-color="#6a8bef"/><stop offset="0.65" stop-color="#7ea1fa"/><stop offset="0.7389" stop-color="#82a6fb"/><stop offset="0.8222" stop-color="#7a9df8"/><stop offset="0.8333" stop-color="#5a78e4"/><stop offset="0.8444" stop-color="#3d50c3"/><stop offset="1" stop-color="#3d50c3"/></linearGradient>
<linearGradient id="g3_15"><stop offset="0" stop-color="#3b4cc0"/><stop offset="0.2111" stop-color="#3e51c5"/><stop offset="0.3833" stop-color="#4b64d5"/><stop offset="0.6111" stop-color="#6c8ff1"/><stop offset="0.7111" stop-color="#7396f5"/><stop offset="0.8" stop-color="#7093f3"/><stop offset="0.8222" stop-color="#6e90f2"/><stop offset="0.8389" stop-color="#4961d2"/><stop offset="0.8444" stop-color="#3d50c3"/><stop offset="1" stop-color="#3d50c3"/></linearGradient>
<linearGradient id="g3_16"><stop offset="0" stop-color="#3b4cc0"/><stop offset="0.2389" stop-color="#3e51c5"/><stop offset="0.4111" stop-color="#4a63d3"/><stop offset="0.6444" stop-color="#6384eb"/><stop offset="0.7667" stop-color="#6687ed"/><stop offset="0.8222" stop-color="#6282ea"/><stop offset="0.8444" stop-color="#3d50c3"/><stop offset="1" stop-color="#3d50c3"/></linearGradient>
<linearGradient id="g3_17"><stop offset="0" stop-color="#3b4cc0"/><stop offset="0.2611" stop-color="#3e51c5"/><stop offset="0.4611" stop-color="#4b64d5"/><stop offset="0.65" stop-color="#5b7ae5"/><stop offset="0.8" stop-color="#5b7ae5"/><stop offset="0.8222" stop-color="#5a78e4"/><stop offset="0.8444" stop-color="#3d50c3"/><stop offset="1" stop-color="#3d50c3"/></linearGradient>
<linearGradient id="g3_18"><stop offset="0" stop-color="#3b4cc0"/><stop offset="0.2556" stop-color="#3d50c3"/><stop offset="0.5056" stop-color="#4a63d3"/><stop offset="0.6556" stop-color="#536edd"/><stop offset="0.8111" stop-color="#536edd"/><stop offset="0.8222" stop-color="#516ddb"/><stop offset="0.8444" stop-color="#3d50c3"/><stop offset="1" stop-color="#3d50c3"/></linearGradient>
<linearGradient id="g3_19"><stop offset="0" stop-color="#3b4cc0"/><stop offset="0.2833" stop-color="#3d50c3"/><stop offset="0.6722" stop-color="#4e68d8"/><stop offset="0.8056" stop-color="#4e68d8"/><stop offset="0.8222" stop-color="#4c66d6"/><stop offset="0.8444" stop-color="#3d50c3"/><stop offset="1" stop-color="#3d50c3"/></linearGradient>
<linearGradient id="g3_20"><stop offset="0" stop-color="#3b4cc0"/><stop offset="0.3167" stop-color="#3d50c3"/><stop offset="0.6889" stop-color="#4961d2"/><stop offset="0.8222" stop-color="#485fd1"/><stop offset="0.8444" stop-color="#3d50c3"/><stop offset="1" stop-color="#3d50c3"/></linearGradient>
<linearGradient id="g3_21"><stop offset="0" stop-color="#3b4cc0"/><stop offset="0.3556" stop-color="#3d50c3"/><stop offset="0.6833" stop-color="#455cce"/><stop offset="0.8222" stop-color="#455cce"/><stop offset="0.85" stop-color="#3d50c3"/><stop offset="1" stop-color="#3d50c3"/></linearGradient>
<linearGradient id="g3_22"><stop offset="0" stop-color="#3b4cc0"/><stop offset="0.4056" stop-color="#3d50c3"/><stop offset="0.7611" stop-color="#4358cb"/><stop offset="0.8278" stop-color="#4055c8"/><stop offset="0.8556" stop-color="#3d50c3"/><stop offset="1" stop-color="#3d50c3"/></linearGradient>
<linearGradient id="g3_23"><stop offset="0" stop-color="#3b4cc0"/><stop offset="0.4556" stop-color="#3d50c3"/><stop offset="0.7722" stop-color="#4055c8"/><stop offset="0.8278" stop-color="#3f53c6"/><stop offset="0.8833" stop-color="#3d50c3"/><stop offset="1" stop-color="#3d50c3"/></linearGradient>
<linearGradient id="g3_24"><stop offset="0" stop-color="#3b4cc0"/><stop offset="0.55" stop-color="#3d50c3"/><stop offset="1" stop-color="#3d50c3"/></linearGradient>
<linearGradient id="g3_25"><stop offset="0" stop-color="#3b4cc0"/><stop offset="1" stop-color="#3d50c3"/></linearGradient>
<linearGradient id="g3_26"><stop offset="0" stop-color="#3b4cc0"/><stop offset="1" stop-color="#3d50c3"/></linearGradient>
<linearGradient id="g3_27"><stop offset="0" stop-color="#3b4cc0"/><stop offset="1" stop-color="#3d50c3"/></linearGradient>
<linearGradient id="g3_28"><stop offset="0" stop-color="#3b4cc0"/><stop offset="0.8333" stop-color="#3c4ec2"/><stop offset="1" stop-color="#3d50c3"/></linearGradient>
<linearGradient id="g3_29"><stop offset="0" stop-color="#3b4cc0"/><stop offset="0.8333" stop-color="#3c4ec2"/><stop offset="1" stop-color="#3d50c3"/></linearGradient>
<linearGradient id="g3_30"><stop offset="0" stop-color="#3b4cc0"/><stop offset="0.8333" stop-color="#3c4ec2"/><stop offset="1" stop-color="#3d50c3"/></linearGradient>
<linearGradient id="g3_31"><stop offset="0" stop-color="#3b4cc0"/><stop offset="0.8333" stop-color="#3c4ec2"/><stop offset="1" stop-color="#3d50c3"/></linearGradient>
<linearGradient id="g3_32"><stop offset="0" stop-color="#3b4cc0"/><stop offset="0.8389" stop-color="#3c4ec2"/><stop offset="1" stop-color="#3d50c3"/></linearGradient>
<linearGradient id="g3_33"><stop offset="0" stop-color="#3b4cc0"/><stop offset="0.8389" stop-color="#3c4ec2"/><stop offset="1" stop-color="#3d50c3"/></linearGradient>
<linearGradient id="g3_34"><stop offset="0" stop-color="#3b4cc0"/><stop offset="0.8389" stop-color="#3c4ec2"/><stop offset="1" stop-color="#3d50c3"/></linearGradient>
<linearGradient id="g3_35"><stop offset="0" stop-color="#3b4cc0"/><stop offset="0.8389" stop-color="#3c4ec2"/><stop offset="1" stop-color="#3d50c3"/></linearGradient>
<linearGradient id="g3_36"><stop offset="0" stop-color="#3b4cc0"/><stop offset="0.8389" stop-color="#3c4ec2"/><stop offset="1" stop-color="#3d50c3"/></linearGradient>
<linearGradient id="g3_37"><stop offset="0" stop-color="#3b4cc0"/><stop offset="0.8389" stop-color="#3c4ec2"/><stop offset="1" stop-color="#3d50c3"/></linearGradient>
<linearGradient id="g3_38"><stop offset="0" stop-color="#3b4cc0"/><stop offset="0.8389" stop-color="#3c4ec2"/><stop offset="1" stop-color="#3d50c3"/></linearGradient>
<g id="hm3" shape-rendering="crispEdges"><rect x="118.5" y="628" width="652.5" height="7" fill="url(#g3_0)"/><rect x="118.5" y="628" width="652.5" height="7" fill="url(#g3_1)" mask="url(#vm)"/><rect x="118.5" y="620" width="652.5" height="8" fill="url(#g3_1)"/><rect x="118.5" y="620" width="652.5" height="8" fill="url(#g3_2)" mask="url(#vm)"/><rect x="118.5" y="613" width="652.5" height="7" fill="url(#g3_2)"/><rect x="118.5" y="613" width="652.5" height="7" fill="url(#g3_3)" mask="url(#vm)"/><rect x="118.5" y="606" width="652.5" height="7" fill="url(#g3_3)"/><rect x="118.5" y="606" width="652.5" height="7" fill="url(#g3_4)" mask="url(#vm)"/><rect x="118.5" y="599" width="652.5" height="7" fill="url(#g3_4)"/><rect x="118.5" y="599" width="652.5" height="7" fill="url(#g3_5)" mask="url(#vm)"/><rect x="118.5" y="591" width="652.5" height="8" fill="url(#g3_5)"/><rect x="118.5" y="591" width="652.5" height="8" fill="url(#g3_6)" mask="url(#vm)"/><rect x="118.5" y="584" width="652.5" height="7" fill="url(#g3_6)"/><rect x="118.5" y="584" width="652.5" height="7" fill="url(#g3_7)" mask="url(#vm)"/><rect x="118.5" y="577" width="652.5" height="7" fill="url(#g3_7)"/><rect x="118.5" y="577" width="652.5" height="7" fill="url(#g3_8)" mask="url(#vm)"/><rect x="118.5" y="570" width="652.5" height="7" fill="url(#g3_8)"/><rect x="118.5" y="570" width="652.5" height="7" fill="url(#g3_9)" mask="url(#vm)"/><rect x="118.5" y="562" width="652.5" height="8" fill="url(#g3_9)"/><rect x="118.5" y="562" width="652.5" height="8" fill="url(#g3_10)" mask="url(#vm)"/><rect x="118.5" y="555" width="652.5" height="7" fill="url(#g3_10)"/><rect x="118.5" y="555" width="652.5" height="7" fill="url(#g3_11)" mask="url(#vm)"/><rect x="118.5" y="548" width="652.5" height="7" fill="url(#g3_11)"/><rect x="118.5" y="548" width="652.5" height="7" fill="url(#g3_12)" mask="url(#vm)"/><rect x="118.5" y="541" width="652.5" height="7" fill="url(#g3_12)"/><rect x="118.5" y="541" width="652.5" height="7" fill="url(#g3_13)" mask="url(#vm)"/><rect x="118.5" y="533" width="652.5" height="8" fill="url(#g3_13)"/><rect x="118.5" y="533" width="652.5" height="8" fill="url(#g3_14)" mask="url(#vm)"/><rect x="118.5" y="526" width="652.5" height="7" fill="url(#g3_14)"/><rect x="118.5" y="526" width="652.5" height="7" fill="url(#g3_15)" mask="url(#vm)"/><rect x="118.5" y="519" width="652.5" height="7" fill="url(#g3_15)"/><rect x="118.5" y="519" width="652.5" height="7" fill="url(#g3_16)" mask="url(#vm)"/><rect x="118.5" y="512" width="652.5" height="7" fill="url(#g3_16)"/><rect x="118.5" y="512" width="652.5" height="7" fill="url(#g3_17)" mask="url(#vm)"/><rect x="118.5" y="504" width="652.5" height="8" fill="url(#g3_17)"/><rect x="118.5" y="504" width="652.5" height="8" fill="url(#g3_18)" mask="url(#vm)"/><rect x="118.5" y="497" width="652.5" height="7" fill="url(#g3_18)"/><rect x="118.5" y="497" width="652.5" height="7" fill="url(#g3_19)" mask="url(#vm)"/><rect x="118.5" y="490" width="652.5" height="7" fill="url(#g3_19)"/><rect x="118.5" y="490" width="652.5" height="7" fill="url(#g3_20)" mask="url(#vm)"/><rect x="118.5" y="483" width="652.5" height="7" fill="url(#g3_20)"/><rect x="118.5" y="483" width="652.5" height="7" fill="url(#g3_21)" mask="url(#vm)"/><rect x="118.5" y="475" width="652.5" height="8" fill="url(#g3_21)"/><rect x="118.5" y="475" width="652.5" height="8" fill="url(#g3_22)" mask="url(#vm)"/><rect x="118.5" y="468" width="652.5" height="7" fill="url(#g3_22)"/><rect x="118.5" y="468" width="652.5" height="7" fill="url(#g3_23)" mask="url(#vm)"/><rect x="118.5" y="461" width="652.5" height="7" fill="url(#g3_23)"/><rect x="118.5" y="461" width="652.5" height="7" fill="url(#g3_24)" mask="url(#vm)"/><rect x="118.5" y="454" width="652.5" height="7" fill="url(#g3_24)"/><rect x="118.5" y="454" width="652.5" height="7" fill="url(#g3_25)" mask="url(#vm)"/><rect x="118.5" y="446" width="652.5" height="8" fill="url(#g3_25)"/><rect x="118.5" y="446" width="652.5" height="8" fill="url(#g3_26)" mask="url(#vm)"/><rect x="118.5" y="439" width="652.5" height="7" fill="url(#g3_26)"/><rect x="118.5" y="439" width="652.5" height="7" fill="url(#g3_27)" mask="url(#vm)"/><rect x="118.5" y="432" width="652.5" height="7" fill="url(#g3_27)"/><rect x="118.5" y="432" width="652.5" height="7" fill="url(#g3_28)" mask="url(#vm)"/><rect x="118.5" y="425" width="652.5" height="7" fill="url(#g3_28)"/><rect x="118.5" y="425" width="652.5" height="7" fill="url(#g3_29)" mask="url(#vm)"/><rect x="118.5" y="417" width="652.5" height="8" fill="url(#g3_29)"/><rect x="118.5" y="417" width="652.5" height="8" fill="url(#g3_30)" mask="url(#vm)"/><rect x="118.5" y="410" width="652.5" height="7" fill="url(#g3_30)"/><rect x="118.5" y="410" width="652.5" height="7" fill="url(#g3_31)" mask="url(#vm)"/><rect x="118.5" y="403" width="652.5" height="7" fill="url(#g3_31)"/><rect x="118.5" y="403" width="652.5" height="7" fill="url(#g3_32)" mask="url(#vm)"/><rect x="118.5" y="396" width="652.5" height="7" fill="url(#g3_32)"/><rect x="118.5" y="396" width="652.5" height="7" fill="url(#g3_33)" mask="url(#vm)"/><rect x="118.5" y="388" width="652.5" height="8" fill="url(#g3_33)"/><rect x="118.5" y="388" width="652.5" height="8" fill="url(#g3_34)" mask="url(#vm)"/><rect x="118.5" y="381" width="652.5" height="7" fill="url(#g3_34)"/><rect x="118.5" y="381" width="652.5" height="7" fill="url(#g3_35)" mask="url(#vm)"/><rect x="118.5" y="374" width="652.5" height="7" fill="url(#g3_35)"/><rect x="118.5" y="374" width="652.5" height="7" fill="url(#g3_36)" mask="url(#vm)"/><rect x="118.5" y="367" width="652.5" height="7" fill="url(#g3_36)"/><rect x="118.5" y="367" width="652.5" height="7" fill="url(#g3_37)" mask="url(#vm)"/><rect x="118.5" y="359" width="652.5" height="8" fill="url(#g3_37)"/><rect x="118.5" y="359" width="652.5" height="8" fill="url(#g3_38)" mask="url(#vm)"/></g>
<linearGradient id="g4_0"><stop offset="0" stop-color="#9ebeff"/><stop offset="0.05" stop-color="#a1c0ff"/><stop offset="0.07222" stop-color="#a9c6fd"/><stop offset="0.1167" stop-color="#abc8fd"/><stop offset="0.1556" stop-color="#bad0f8"/><stop offset="0.1889" stop-color="#b1cbfc"/><stop offset="0.2611" stop-color="#8caffe"/><stop offset="0.3167" stop-color="#6a8bef"/><stop offset="0.3389" stop-color="#5e7de7"/><stop offset="0.3722" stop-color="#5673e0"/><stop offset="0.4056" stop-color="#5a78e4"/><stop offset="0.4278" stop-color="#6384eb"/><stop offset="0.4722" stop-color="#8caffe"/><stop offset="0.5" stop-color="#a7c5fe"/><stop offset="0.5389" stop-color="#c3d5f4"/><stop offset="0.5833" stop-color="#d6dce4"/><stop offset="0.6667" stop-color="#e4d9d2"/><stop offset="0.7556" stop-color="#e9d5cb"/><stop offset="0.7667" stop-color="#f5c4ac"/><stop offset="0.7778" stop-color="#f7ac8e"/><stop offset="0.8222" stop-color="#ea7b60"/><stop offset="0.8944" stop-color="#e46e56"/><stop offset="0.9556" stop-color="#d65244"/><stop offset="0.9722" stop-color="#cb3e38"/><stop offset="0.9889" stop-color="#bd1f2d"/><stop offset="1" stop-color="#b40426"/></linearGradient>
<linearGradient id="g4_1"><stop offset="0" stop-color="#9ebeff"/><stop offset="0.05556" stop-color="#a1c0ff"/><stop offset="0.1111" stop-color="#a9c6fd"/><stop offset="0.1556" stop-color="#bad0f8"/><stop offset="0.2056" stop-color="#a9c6fd"/><stop offset="0.2778" stop-color="#82a6fb"/><stop offset="0.3389" stop-color="#5e7de7"/><stop offset="0.3833" stop-color="#5673e0"/><stop offset="0.4222" stop-color="#5f7fe8"/><stop offset="0.4667" stop-color="#84a7fc"/><stop offset="0.5" stop-color="#a6c4fe"/><stop offset="0.5389" stop-color="#c3d5f4"/><stop offset="0.5833" stop-color="#d7dce3"/><stop offset="0.6833" stop-color="#e5d8d1"/><stop offset="0.7389" stop-color="#e8d6cc"/><stop offset="0.7556" stop-color="#e5d8d1"/><stop offset="0.7778" stop-color="#f5c4ac"/><stop offset="0.7944" stop-color="#f59d7e"/><stop offset="0.8" stop-color="#f18d6f"/><stop offset="0.8278" stop-color="#ea7b60"/><stop offset="0.8889" stop-color="#e7745b"/><stop offset="0.9556" stop-color="#d65244"/><stop offset="0.9778" stop-color="#ca3b37"/><stop offset="0.9889" stop-color="#be242e"/><stop offset="1" stop-color="#b40426"/></linearGradient>
<linearGradient id="g4_2"><stop offset="0" stop-color="#9ebeff"/><stop offset="0.08889" stop-color="#9ebeff"/><stop offset="0.1556" stop-color="#bad0f8"/><stop offset="0.2056" stop-color="#a9c6fd"/><stop offset="0.2722" stop-color="#84a7fc"/><stop offset="0.3278" stop-color="#6384eb"/><stop offset="0.35" stop-color="#5b7ae5"/><stop offset="0.3833" stop-color="#5875e1"/><stop offset="0.4222" stop-color="#5f7fe8"/><stop offset="0.4722" stop-color="#88abfd"/><stop offset="0.5056" stop-color="#aac7fd"/><stop offset="0.5444" stop-color="#c6d6f1"/><stop offset="0.5833" stop-color="#d8dce2"/><stop offset="0.6611" stop-color="#e3d9d3"/><stop offset="0.7333" stop-color="#e9d5cb"/><stop offset="0.7556" stop-color="#e2dad5"/><stop offset="0.7778" stop-color="#e9d5cb"/><stop offset="0.7833" stop-color="#f3c8b2"/><stop offset="0.7889" stop-color="#f7b599"/><stop offset="0.7944" stop-color="#f59f80"/><stop offset="0.8" stop-color="#ee8468"/><stop offset="0.8722" stop-color="#e9785d"/><stop offset="0.8944" stop-color="#e7745b"/><stop offset="0.9389" stop-color="#dd5f4b"/><stop offset="0.9778" stop-color="#cc403a"/><stop offset="0.9889" stop-color="#c0282f"/><stop offset="1" stop-color="#b40426"/></linearGradient>
<linearGradient id="g4_3"><stop offset="0" stop-color="#9ebeff"/><stop offset="0.08889" stop-color="#9ebeff"/><stop offset="0.1556" stop-color="#b5cdfa"/><stop offset="0.2056" stop-color="#a3c2fe"/><stop offset="0.2778" stop-color="#7da0f9"/><stop offset="0.3389" stop-color="#5d7ce6"/><stop offset="0.3778" stop-color="#5470de"/><stop offset="0.4222" stop-color="#5e7de7"/><stop offset="0.4667" stop-color="#81a4fb"/><stop offset="0.5056" stop-color="#a6c4fe"/><stop offset="0.5444" stop-color="#c3d5f4"/><stop offset="0.5833" stop-color="#d5dbe5"/><stop offset="0.6889" stop-color="#e4d9d2"/><stop offset="0.7333" stop-color="#e6d7cf"/><stop offset="0.7556" stop-color="#dfdbd9"/><stop offset="0.7778" stop-color="#e6d7cf"/><stop offset="0.7833" stop-color="#f1cdba"/><stop offset="0.7944" stop-color="#f7ad90"/><stop offset="0.8" stop-color="#f4987a"/><stop offset="0.8222" stop-color="#ec8165"/><stop offset="0.8944" stop-color="#e7745b"/><stop offset="0.95" stop-color="#d85646"/><stop offset="0.9778" stop-color="#cd423b"/><stop offset="0.9889" stop-color="#c32e31"/><stop offset="1" stop-color="#b8122a"/></linearGradient>
<linearGradient id="g4_4"><stop offset="0" stop-color="#9ebeff"/><stop offset="0.1" stop-color="#a1c0ff"/><stop offset="0.1444" stop-color="#aec9fc"/><stop offset="0.1667" stop-color="#adc9fd"/><stop offset="0.2111" stop-color="#9bbcff"/><stop offset="0.2833" stop-color="#7699f6"/><stop offset="0.3222" stop-color="#6384eb"/><stop offset="0.3444" stop-color="#5a78e4"/><stop offset="0.3778" stop-color="#536edd"/><stop offset="0.4222" stop-color="#5d7ce6"/><stop offset="0.4722" stop-color="#82a6fb"/><stop offset="0.5111" stop-color="#a7c5fe"/><stop offset="0.5556" stop-color="#c5d6f2"/><stop offset="0.5944" stop-color="#d5dbe5"/><stop offset="0.7056" stop-color="#e4d9d2"/><stop offset="0.7389" stop-color="#e1dad6"/><stop offset="0.7611" stop-color="#dedcdb"/><stop offset="0.7778" stop-color="#e3d9d3"/><stop offset="0.7889" stop-color="#f3c8b2"/><stop offset="0.8" stop-color="#f7ac8e"/><stop offset="0.8222" stop-color="#ec8165"/><stop offset="0.8944" stop-color="#e7745b"/><stop offset="0.9556" stop-color="#d65244"/><stop offset="0.9778" stop-color="#cd423b"/><stop offset="0.9944" stop-color="#c12b30"/><stop offset="1" stop-color="#bd1f2d"/></linearGradient>
<linearGradient id="g4_5"><stop offset="0" stop-color="#9ebeff"/><stop offset="0.1111" stop-color="#a1c0ff"/><stop offset="0.1556" stop-color="#aac7fd"/><stop offset="0.2167" stop-color="#94b6ff"/><stop offset="0.2778" stop-color="#7597f6"/><stop offset="0.3444" stop-color="#5875e1"/><stop offset="0.3778" stop-color="#516ddb"/><stop offset="0.4222" stop-color="#5a78e4"/><stop offset="0.4667" stop-color="#7da0f9"/><stop offset="0.5111" stop-color="#a3c2fe"/><stop offset="0.5611" stop-color="#c4d5f3"/><stop offset="0.5944" stop-color="#d2dbe8"/><stop offset="0.7056" stop-color="#e2dad5"/><stop offset="0.7389" stop-color="#dedcdb"/><stop offset="0.7611" stop-color="#dbdcde"/><stop offset="0.7778" stop-color="#e0dbd8"/><stop offset="0.7944" stop-color="#f3c7b1"/><stop offset="0.8111" stop-color="#f6a385"/><stop offset="0.8222" stop-color="#ed8366"/><stop offset="0.8944" stop-color="#e7745b"/><stop offset="0.9667" stop-color="#d24b40"/><stop offset="0.9889" stop-color="#c83836"/><stop offset="1" stop-color="#c12b30"/></linearGradient>
<linearGradient id="g4_6"><stop offset="0" stop-color="#9ebeff"/><stop offset="0.1278" stop-color="#a1c0ff"/><stop offset="0.1611" stop-color="#a3c2fe"/><stop offset="0.2278" stop-color="#8badfd"/><stop offset="0.3056" stop-color="#6384eb"/><stop offset="0.3611" stop-color="#536edd"/><stop offset="0.3778" stop-color="#4f69d9"/><stop offset="0.4222" stop-color="#5977e3"/><stop offset="0.4722" stop-color="#80a3fa"/><stop offset="0.5167" stop-color="#a3c2fe"/><stop offset="0.5722" stop-color="#c6d6f1"/><stop offset="0.65" stop-color="#dadce0"/><stop offset="0.7111" stop-color="#e2dad5"/><stop offset="0.7556" stop-color="#d7dce3"/><stop offset="0.7778" stop-color="#dddcdc"/><stop offset="0.8" stop-color="#f2cbb7"/><stop offset="0.8111" stop-color="#f7ac8e"/><stop offset="0.8222" stop-color="#ee8468"/><stop offset="0.8944" stop-color="#e7745b"/><stop offset="0.9667" stop-color="#d24b40"/><stop offset="1" stop-color="#c53334"/></linearGradient>
<linearGradient id="g4_7"><stop offset="0" stop-color="#9ebeff"/><stop offset="0.1222" stop-color="#9dbdff"/><stop offset="0.1722" stop-color="#97b8ff"/><stop offset="0.2389" stop-color="#7ea1fa"/><stop offset="0.3167" stop-color="#5b7ae5"/><stop offset="0.3778" stop-color="#4e68d8"/><stop offset="0.4222" stop-color="#5875e1"/><stop offset="0.4778" stop-color="#80a3fa"/><stop offset="0.5278" stop-color="#a6c4fe"/><stop offset="0.5833" stop-color="#c7d7f0"/><stop offset="0.6778" stop-color="#dbdcde"/><stop offset="0.7167" stop-color="#dddcdc"/><stop offset="0.7556" stop-color="#d5dbe5"/><stop offset="0.7778" stop-color="#dbdcde"/><stop offset="0.8" stop-color="#eed0c0"/><stop offset="0.8111" stop-color="#f7ba9f"/><stop offset="0.8222" stop-color="#f59f80"/><stop offset="0.8444" stop-color="#ec8165"/><stop offset="0.8944" stop-color="#e7745b"/><stop offset="0.9444" stop-color="#dc5d4a"/><stop offset="0.9667" stop-color="#d75445"/><stop offset="1" stop-color="#d44e41"/></linearGradient>
<linearGradient id="g4_8"><stop offset="0" stop-color="#9ebeff"/><stop offset="0.1111" stop-color="#9ebeff"/><stop offset="0.1389" stop-color="#92b4fe"/><stop offset="0.1778" stop-color="#8db0fe"/><stop offset="0.2389" stop-color="#779af7"/><stop offset="0.3167" stop-color="#5875e1"/><stop offset="0.3778" stop-color="#4c66d6"/><stop offset="0.4111" stop-color="#516ddb"/><stop offset="0.4444" stop-color="#6282ea"/><stop offset="0.4889" stop-color="#84a7fc"/><stop offset="0.5389" stop-color="#a7c5fe"/><stop offset="0.5833" stop-color="#c3d5f4"/><stop offset="0.6889" stop-color="#d9dce1"/><stop offset="0.7222" stop-color="#d9dce1"/><stop offset="0.7556" stop-color="#d4dbe6"/><stop offset="0.7778" stop-color="#d9dce1"/><stop offset="0.8" stop-color="#e9d5cb"/><stop offset="0.8167" stop-color="#f6bfa6"/><stop offset="0.8333" stop-color="#f59d7e"/><stop offset="0.8444" stop-color="#ec8165"/><stop offset="0.9" stop-color="#e7745b"/><stop offset="0.95" stop-color="#dc5d4a"/><stop offset="0.9556" stop-color="#d95847"/><stop offset="0.9833" stop-color="#e0654f"/><stop offset="1" stop-color="#e16751"/></linearGradient>
<linearGradient id="g4_9"><stop offset="0" stop-color="#9ebeff"/><stop offset="0.06667" stop-color="#9ebeff"/><stop offset="0.08889" stop-color="#90b2fe"/><stop offset="0.1278" stop-color="#8caffe"/><stop offset="0.2056" stop-color="#7da0f9"/><stop offset="0.3" stop-color="#5a78e4"/><stop offset="0.3611" stop-color="#4b64d5"/><stop offset="0.4" stop-color="#4c66d6"/><stop offset="0.4444" stop-color="#5d7ce6"/><stop offset="0.4889" stop-color="#80a3fa"/><stop offset="0.5444" stop-color="#a5c3fe"/><stop offset="0.5833" stop-color="#bfd3f6"/><stop offset="0.6833" stop-color="#d5dbe5"/><stop offset="0.7167" stop-color="#d7dce3"/><stop offset="0.7611" stop-color="#d3dbe7"/><stop offset="0.7944" stop-color="#e0dbd8"/><stop offset="0.8056" stop-color="#e9d5cb"/><stop offset="0.8222" stop-color="#f3c8b2"/><stop offset="0.8333" stop-color="#f7a98b"/><stop offset="0.8444" stop-color="#ed8366"/><stop offset="0.9111" stop-color="#e67259"/><stop offset="0.9333" stop-color="#e26952"/><stop offset="0.9778" stop-color="#eb7d62"/><stop offset="1" stop-color="#ea7b60"/></linearGradient>
<linearGradient id="g4_10"><stop offset="0" stop-color="#9ebeff"/><stop offset="0.06667" stop-color="#9ebeff"/><stop offset="0.08889" stop-color="#82a6fb"/><stop offset="0.15" stop-color="#80a3fa"/><stop offset="0.2222" stop-color="#7093f3"/><stop offset="0.3111" stop-color="#536edd"/><stop offset="0.3611" stop-color="#4961d2"/><stop offset="0.4" stop-color="#4961d2"/><stop offset="0.45" stop-color="#5d7ce6"/><stop offset="0.4944" stop-color="#7ea1fa"/><stop offset="0.55" stop-color="#a5c3fe"/><stop offset="0.5833" stop-color="#bbd1f8"/><stop offset="0.6833" stop-color="#d2dbe8"/><stop offset="0.7222" stop-color="#d4dbe6"/><stop offset="0.7611" stop-color="#d1dae9"/><stop offset="0.8056" stop-color="#e0dbd8"/><stop offset="0.8222" stop-color="#e9d5cb"/><stop offset="0.8278" stop-color="#f3c8b2"/><stop offset="0.8333" stop-color="#f7b599"/><stop offset="0.8389" stop-color="#f59f80"/><stop offset="0.8444" stop-color="#ee8468"/><stop offset="0.9167" stop-color="#e67259"/><stop offset="0.9333" stop-color="#e36c55"/><stop offset="0.9556" stop-color="#f08b6e"/><stop offset="0.9778" stop-color="#f39577"/><stop offset="1" stop-color="#f18f71"/></linearGradient>
<linearGradient id="g4_11"><stop offset="0" stop-color="#9ebeff"/><stop offset="0.03889" stop-color="#9ebeff"/><stop offset="0.04444" stop-color="#90b2fe"/><stop offset="0.06667" stop-color="#90b2fe"/><stop offset="0.08889" stop-color="#82a6fb"/><stop offset="0.1444" stop-color="#80a3fa"/><stop offset="0.2333" stop-color="#6a8bef"/><stop offset="0.3278" stop-color="#4e68d8"/><stop offset="0.3778" stop-color="#485fd1"/><stop offset="0.4" stop-color="#485fd1"/><stop offset="0.4444" stop-color="#5673e0"/><stop offset="0.4944" stop-color="#799cf8"/><stop offset="0.5444" stop-color="#9bbcff"/><stop offset="0.5778" stop-color="#b6cefa"/><stop offset="0.6889" stop-color="#cdd9ec"/><stop offset="0.7444" stop-color="#cdd9ec"/><stop offset="0.7722" stop-color="#d1dae9"/><stop offset="0.8056" stop-color="#dadce0"/><stop offset="0.8222" stop-color="#e3d9d3"/><stop offset="0.8333" stop-color="#f5c0a7"/><stop offset="0.8444" stop-color="#f4987a"/><stop offset="0.9167" stop-color="#f18f71"/><stop offset="0.9333" stop-color="#f18f71"/><stop offset="0.9556" stop-color="#f6a586"/><stop offset="0.9778" stop-color="#f7a889"/><stop offset="1" stop-color="#f5a081"/></linearGradient>
<linearGradient id="g4_12"><stop offset="0" stop-color="#9ebeff"/><stop offset="0.03889" stop-color="#9ebeff"/><stop offset="0.04444" stop-color="#82a6fb"/><stop offset="0.1333" stop-color="#82a6fb"/><stop offset="0.1667" stop-color="#779af7"/><stop offset="0.2389" stop-color="#6687ed"/><stop offset="0.3333" stop-color="#4b64d5"/><stop offset="0.3833" stop-color="#465ecf"/><stop offset="0.4111" stop-color="#4961d2"/><stop offset="0.4556" stop-color="#5a78e4"/><stop offset="0.5056" stop-color="#7b9ff9"/><stop offset="0.5556" stop-color="#a1c0ff"/><stop offset="0.5833" stop-color="#b2ccfb"/><stop offset="0.7" stop-color="#cad8ef"/><stop offset="0.75" stop-color="#c9d7f0"/><stop offset="0.7722" stop-color="#cdd9ec"/><stop offset="0.8056" stop-color="#d5dbe5"/><stop offset="0.8222" stop-color="#dddcdc"/><stop offset="0.8333" stop-color="#f2cbb7"/><stop offset="0.8444" stop-color="#f7ac8e"/><stop offset="0.8889" stop-color="#f6a586"/><stop offset="0.9333" stop-color="#f7ac8e"/><stop offset="0.9556" stop-color="#f7bca1"/><stop offset="1" stop-color="#f7b093"/></linearGradient>
<linearGradient id="g4_13"><stop offset="0" stop-color="#9ebeff"/><stop offset="0.03889" stop-color="#9ebeff"/><stop offset="0.04444" stop-color="#82a6fb"/><stop offset="0.09444" stop-color="#81a4fb"/><stop offset="0.1222" stop-color="#7b9ff9"/><stop offset="0.1889" stop-color="#6f92f3"/><stop offset="0.2611" stop-color="#5d7ce6"/><stop offset="0.3333" stop-color="#4a63d3"/><stop offset="0.3833" stop-color="#455cce"/><stop offset="0.4222" stop-color="#4961d2"/><stop offset="0.4722" stop-color="#6180e9"/><stop offset="0.5278" stop-color="#86a9fc"/><stop offset="0.5778" stop-color="#adc9fd"/><stop offset="0.7111" stop-color="#c5d6f2"/><stop offset="0.7667" stop-color="#c6d6f1"/><stop offset="0.8056" stop-color="#cedaeb"/><stop offset="0.8222" stop-color="#d6dce4"/><stop offset="0.8278" stop-color="#e1dad6"/><stop offset="0.8389" stop-color="#f2c9b4"/><stop offset="0.8444" stop-color="#f6bda2"/><stop offset="0.8833" stop-color="#f7b79b"/><stop offset="0.9167" stop-color="#f6bda2"/><stop offset="0.95" stop-color="#f3c7b1"/><stop offset="0.9778" stop-color="#f5c4ac"/><stop offset="1" stop-color="#f6bfa6"/></linearGradient>
<linearGradient id="g4_14"><stop offset="0" stop-color="#9ebeff"/><stop offset="0.03889" stop-color="#9ebeff"/><stop offset="0.04444" stop-color="#82a6fb"/><stop offset="0.08889" stop-color="#82a6fb"/><stop offset="0.1111" stop-color="#7597f6"/><stop offset="0.1667" stop-color="#7295f4"/><stop offset="0.2778" stop-color="#5673e0"/><stop offset="0.35" stop-color="#465ecf"/><stop offset="0.3833" stop-color="#445acc"/><stop offset="0.4222" stop-color="#465ecf"/><stop offset="0.4889" stop-color="#6687ed"/><stop offset="0.5444" stop-color="#8fb1fe"/><stop offset="0.5778" stop-color="#a9c6fd"/><stop offset="0.7167" stop-color="#c0d4f5"/><stop offset="0.7833" stop-color="#c4d5f3"/><stop offset="0.8167" stop-color="#cdd9ec"/><stop offset="0.8222" stop-color="#cfdaea"/><stop offset="0.8278" stop-color="#d9dce1"/><stop offset="0.8389" stop-color="#ecd3c5"/><stop offset="0.8444" stop-color="#f2cbb7"/><stop offset="0.8722" stop-color="#f4c6af"/><stop offset="0.9" stop-color="#f3c8b2"/><stop offset="0.9222" stop-color="#eed0c0"/><stop offset="0.9333" stop-color="#e9d5cb"/><stop offset="1" stop-color="#f2cbb7"/></linearGradient>
<linearGradient id="g4_15"><stop offset="0" stop-color="#9ebeff"/><stop offset="0.03889" stop-color="#9ebeff"/><stop offset="0.04444" stop-color="#82a6fb"/><stop offset="0.07778" stop-color="#7b9ff9"/><stop offset="0.1278" stop-color="#7597f6"/><stop offset="0.1611" stop-color="#7396f5"/><stop offset="0.2778" stop-color="#5673e0"/><stop offset="0.3556" stop-color="#455cce"/><stop offset="0.3944" stop-color="#4358cb"/><stop offset="0.4278" stop-color="#485fd1"/><stop offset="0.5" stop-color="#688aef"/><stop offset="0.5556" stop-color="#8fb1fe"/><stop offset="0.5833" stop-color="#a1c0ff"/><stop offset="0.7111" stop-color="#bad0f8"/><stop offset="0.7778" stop-color="#bcd2f7"/><stop offset="0.8222" stop-color="#c6d6f1"/><stop offset="0.8389" stop-color="#dfdbd9"/><stop offset="0.8444" stop-color="#e6d7cf"/><stop offset="0.8722" stop-color="#ebd3c6"/><stop offset="0.9" stop-color="#ead4c8"/><stop offset="0.9389" stop-color="#e0dbd8"/><stop offset="1" stop-color="#ead4c8"/></linearGradient>
<linearGradient id="g4_16"><stop offset="0" stop-color="#9ebeff"/><stop offset="0.03889" stop-color="#9ebeff"/><stop offset="0.04444" stop-color="#82a6fb"/><stop offset="0.06667" stop-color="#7597f6"/><stop offset="0.1556" stop-color="#7597f6"/><stop offset="0.2778" stop-color="#5673e0"/><stop offset="0.3611" stop-color="#445acc"/><stop offset="0.4167" stop-color="#445acc"/><stop offset="0.4778" stop-color="#5a78e4"/><stop offset="0.5389" stop-color="#7b9ff9"/><stop offset="0.5833" stop-color="#97b8ff"/><stop offset="0.6278" stop-color="#a1c0ff"/><stop offset="0.6778" stop-color="#aec9fc"/><stop offset="0.7167" stop-color="#b5cdfa"/><stop offset="0.8" stop-color="#b6cefa"/><stop offset="0.8222" stop-color="#bed2f6"/><stop offset="0.8444" stop-color="#d6dce4"/><stop offset="0.8889" stop-color="#dfdbd9"/><stop offset="0.9278" stop-color="#d8dce2"/><stop offset="0.9611" stop-color="#d8dce2"/><stop offset="1" stop-color="#e0dbd8"/></linearGradient>
<linearGradient id="g4_17"><stop offset="0" stop-color="#9ebeff"/><stop offset="0.03889" stop-color="#9ebeff"/><stop offset="0.04444" stop-color="#7b9ff9"/><stop offset="0.07778" stop-color="#7597f6"/><stop offset="0.1278" stop-color="#7295f4"/><stop offset="0.1944" stop-color="#6a8bef"/><stop offset="0.3" stop-color="#506bda"/><stop offset="0.3611" stop-color="#4358cb"/><stop offset="0.4111" stop-color="#4358cb"/><stop offset="0.4556" stop-color="#4f69d9"/><stop offset="0.5444" stop-color="#779af7"/><stop offset="0.5833" stop-color="#8db0fe"/><stop offset="0.6444" stop-color="#9ebeff"/><stop offset="0.7111" stop-color="#aec9fc"/><stop offset="0.8056" stop-color="#afcafc"/><stop offset="0.8278" stop-color="#b9d0f9"/><stop offset="0.8556" stop-color="#c7d7f0"/><stop offset="0.8944" stop-color="#d1dae9"/><stop offset="0.9556" stop-color="#ccd9ed"/><stop offset="1" stop-color="#d5dbe5"/></linearGradient>
<linearGradient id="g4_18"><stop offset="0" stop-color="#9ebeff"/><stop offset="0.03889" stop-color="#9ebeff"/><stop offset="0.04444" stop-color="#7597f6"/><stop offset="0.1111" stop-color="#7597f6"/><stop offset="0.1389" stop-color="#6c8ff1"/><stop offset="0.1944" stop-color="#6a8bef"/><stop offset="0.2944" stop-color="#516ddb"/><stop offset="0.3611" stop-color="#4358cb"/><stop offset="0.4056" stop-color="#4257c9"/><stop offset="0.45" stop-color="#4b64d5"/><stop offset="0.5444" stop-color="#6f92f3"/><stop offset="0.5833" stop-color="#84a7fc"/><stop offset="0.6444" stop-color="#96b7ff"/><stop offset="0.7167" stop-color="#a9c6fd"/><stop offset="0.8" stop-color="#a5c3fe"/><stop offset="0.8611" stop-color="#b6cefa"/><stop offset="0.8944" stop-color="#c0d4f5"/><stop offset="0.9778" stop-color="#c3d5f4"/><stop offset="1" stop-color="#c7d7f0"/></linearGradient>
<linearGradient id="g4_19"><stop offset="0" stop-color="#9ebeff"/><stop offset="0.03889" stop-color="#9ebeff"/><stop offset="0.04444" stop-color="#7597f6"/><stop offset="0.1667" stop-color="#6c8ff1"/><stop offset="0.2" stop-color="#688aef"/><stop offset="0.2944" stop-color="#516ddb"/><stop offset="0.3611" stop-color="#4358cb"/><stop offset="0.4056" stop-color="#4257c9"/><stop offset="0.4611" stop-color="#4e68d8"/><stop offset="0.5444" stop-color="#6c8ff1"/><stop offset="0.5833" stop-color="#80a3fa"/><stop offset="0.6389" stop-color="#8fb1fe"/><stop offset="0.7111" stop-color="#9fbfff"/><stop offset="0.8111" stop-color="#9bbcff"/><stop offset="0.8722" stop-color="#a7c5fe"/><stop offset="0.8944" stop-color="#aec9fc"/><stop offset="0.9889" stop-color="#b7cff9"/><stop offset="1" stop-color="#bad0f8"/></linearGradient>
<linearGradient id="g4_20"><stop offset="0" stop-color="#9ebeff"/><stop offset="0.03889" stop-color="#9ebeff"/><stop offset="0.04444" stop-color="#7597f6"/><stop offset="0.07222" stop-color="#7295f4"/><stop offset="0.1" stop-color="#6c8ff1"/><stop offset="0.1944" stop-color="#6b8df0"/><stop offset="0.2944" stop-color="#516ddb"/><stop offset="0.3611" stop-color="#4358cb"/><stop offset="0.4056" stop-color="#4257c9"/><stop offset="0.4556" stop-color="#4b64d5"/><stop offset="0.5389" stop-color="#6788ee"/><stop offset="0.5778" stop-color="#7b9ff9"/><stop offset="0.6333" stop-color="#88abfd"/><stop offset="0.65" stop-color="#8db0fe"/><stop offset="0.7333" stop-color="#96b7ff"/><stop offset="0.7889" stop-color="#92b4fe"/><stop offset="0.8333" stop-color="#90b2fe"/><stop offset="0.8722" stop-color="#94b6ff"/><stop offset="0.8944" stop-color="#9bbcff"/><stop offset="0.9444" stop-color="#a2c1ff"/><stop offset="1" stop-color="#abc8fd"/></linearGradient>
<linearGradient id="g4_21"><stop offset="0" stop-color="#9ebeff"/><stop offset="0.03889" stop-color="#9ebeff"/><stop offset="0.04444" stop-color="#7093f3"/><stop offset="0.1444" stop-color="#6c8ff1"/><stop offset="0.2222" stop-color="#6687ed"/><stop offset="0.35" stop-color="#445acc"/><stop offset="0.4056" stop-color="#4055c8"/><stop offset="0.4556" stop-color="#4a63d3"/><stop offset="0.5444" stop-color="#6788ee"/><stop offset="0.5833" stop-color="#799cf8"/><stop offset="0.6889" stop-color="#8badfd"/><stop offset="0.7778" stop-color="#89acfd"/><stop offset="0.8278" stop-color="#82a6fb"/><stop offset="0.8778" stop-color="#85a8fc"/><stop offset="1" stop-color="#9dbdff"/></linearGradient>
<linearGradient id="g4_22"><stop offset="0" stop-color="#9ebeff"/><stop offset="0.03889" stop-color="#9ebeff"/><stop offset="0.04444" stop-color="#6c8ff1"/><stop offset="0.1611" stop-color="#6b8df0"/><stop offset="0.1889" stop-color="#6687ed"/><stop offset="0.2333" stop-color="#6384eb"/><stop offset="0.3444" stop-color="#455cce"/><stop offset="0.4056" stop-color="#4055c8"/><stop offset="0.4556" stop-color="#4961d2"/><stop offset="0.5444" stop-color="#6485ec"/><stop offset="0.5778" stop-color="#7597f6"/><stop offset="0.7056" stop-color="#82a6fb"/><stop offset="0.7667" stop-color="#80a3fa"/><stop offset="0.8278" stop-color="#7597f6"/><stop offset="0.9" stop-color="#7699f6"/><stop offset="1" stop-color="#8db0fe"/></linearGradient>
<linearGradient id="g4_23"><stop offset="0" stop-color="#9ebeff"/><stop offset="0.03889" stop-color="#9ebeff"/><stop offset="0.04444" stop-color="#6c8ff1"/><stop offset="0.15" stop-color="#6b8df0"/><stop offset="0.1944" stop-color="#6687ed"/><stop offset="0.2333" stop-color="#6384eb"/><stop offset="0.2889" stop-color="#5470de"/><stop offset="0.3667" stop-color="#4358cb"/><stop offset="0.4111" stop-color="#4257c9"/><stop offset="0.4556" stop-color="#4961d2"/><stop offset="0.5389" stop-color="#6282ea"/><stop offset="0.5833" stop-color="#7396f5"/><stop offset="0.6722" stop-color="#7ea1fa"/><stop offset="0.75" stop-color="#799cf8"/><stop offset="0.8333" stop-color="#6a8bef"/><stop offset="0.8944" stop-color="#6a8bef"/><stop offset="0.9778" stop-color="#7da0f9"/><stop offset="1" stop-color="#8db0fe"/></linearGradient>
<linearGradient id="g4_24"><stop offset="0" stop-color="#9ebeff"/><stop offset="0.03889" stop-color="#9ebeff"/><stop offset="0.04444" stop-color="#6c8ff1"/><stop offset="0.1389" stop-color="#6b8df0"/><stop offset="0.1667" stop-color="#6687ed"/><stop offset="0.2333" stop-color="#6485ec"/><stop offset="0.2722" stop-color="#5a78e4"/><stop offset="0.3389" stop-color="#485fd1"/><stop offset="0.3667" stop-color="#445acc"/><stop offset="0.4056" stop-color="#4055c8"/><stop offset="0.4556" stop-color="#4961d2"/><stop offset="0.5389" stop-color="#6282ea"/><stop offset="0.5833" stop-color="#7295f4"/><stop offset="0.6722" stop-color="#7da0f9"/><stop offset="0.7278" stop-color="#7699f6"/><stop offset="0.7944" stop-color="#6485ec"/><stop offset="0.85" stop-color="#5e7de7"/><stop offset="0.8944" stop-color="#5f7fe8"/><stop offset="0.9778" stop-color="#7396f5"/><stop offset="1" stop-color="#8db0fe"/></linearGradient>
<linearGradient id="g4_25"><stop offset="0" stop-color="#9ebeff"/><stop offset="0.03889" stop-color="#9ebeff"/><stop offset="0.04444" stop-color="#6c8ff1"/><stop offset="0.1278" stop-color="#6b8df0"/><stop offset="0.1722" stop-color="#6687ed"/><stop offset="0.2278" stop-color="#6485ec"/><stop offset="0.2778" stop-color="#5a78e4"/><stop offset="0.3333" stop-color="#4a63d3"/><stop offset="0.4" stop-color="#4055c8"/><stop offset="0.4611" stop-color="#4a63d3"/><stop offset="0.5222" stop-color="#5b7ae5"/><stop offset="0.5833" stop-color="#7093f3"/><stop offset="0.6444" stop-color="#7a9df8"/><stop offset="0.6667" stop-color="#7da0f9"/><stop offset="0.7444" stop-color="#6788ee"/><stop offset="0.8278" stop-color="#5572df"/><stop offset="0.8944" stop-color="#5572df"/><stop offset="0.9778" stop-color="#6a8bef"/><stop offset="1" stop-color="#7699f6"/></linearGradient>
<linearGradient id="g4_26"><stop offset="0" stop-color="#9ebeff"/><stop offset="0.03889" stop-color="#9ebeff"/><stop offset="0.04444" stop-color="#6c8ff1"/><stop offset="0.1167" stop-color="#6b8df0"/><stop offset="0.1444" stop-color="#6687ed"/><stop offset="0.2278" stop-color="#6485ec"/><stop offset="0.25" stop-color="#5f7fe8"/><stop offset="0.2722" stop-color="#5e7de7"/><stop offset="0.3167" stop-color="#4e68d8"/><stop offset="0.4" stop-color="#4055c8"/><stop offset="0.4611" stop-color="#4a63d3"/><stop offset="0.4944" stop-color="#516ddb"/><stop offset="0.5667" stop-color="#6a8bef"/><stop offset="0.6056" stop-color="#7597f6"/><stop offset="0.6667" stop-color="#7b9ff9"/><stop offset="0.7667" stop-color="#5673e0"/><stop offset="0.8389" stop-color="#4b64d5"/><stop offset="0.8944" stop-color="#4a63d3"/><stop offset="0.9833" stop-color="#5f7fe8"/><stop offset="1" stop-color="#5f7fe8"/></linearGradient>
<linearGradient id="g4_27"><stop offset="0" stop-color="#9ebeff"/><stop offset="0.03889" stop-color="#9ebeff"/><stop offset="0.04444" stop-color="#6c8ff1"/><stop offset="0.1111" stop-color="#6a8bef"/><stop offset="0.1556" stop-color="#6687ed"/><stop offset="0.2111" stop-color="#6485ec"/><stop offset="0.2611" stop-color="#5f7fe8"/><stop offset="0.2944" stop-color="#5977e3"/><stop offset="0.3778" stop-color="#445acc"/><stop offset="0.4111" stop-color="#4358cb"/><stop offset="0.4722" stop-color="#4c66d6"/><stop offset="0.5778" stop-color="#6f92f3"/><stop offset="0.6333" stop-color="#7da0f9"/><stop offset="0.6722" stop-color="#7a9df8"/><stop offset="0.7667" stop-color="#5673e0"/><stop offset="0.8278" stop-color="#4b64d5"/><stop offset="0.8889" stop-color="#485fd1"/><stop offset="0.95" stop-color="#5572df"/><stop offset="0.9778" stop-color="#5f7fe8"/><stop offset="1" stop-color="#5f7fe8"/></linearGradient>
<linearGradient id="g4_28"><stop offset="0" stop-color="#9ebeff"/><stop offset="0.03889" stop-color="#9ebeff"/><stop offset="0.04444" stop-color="#6c8ff1"/><stop offset="0.1" stop-color="#6a8bef"/><stop offset="0.1222" stop-color="#6687ed"/><stop offset="0.2056" stop-color="#6485ec"/><stop offset="0.2278" stop-color="#5f7fe8"/><stop offset="0.2944" stop-color="#5e7de7"/><stop offset="0.3389" stop-color="#4e68d8"/><stop offset="0.4" stop-color="#4358cb"/><stop offset="0.4667" stop-color="#4c66d6"/><stop offset="0.5278" stop-color="#5e7de7"/><stop offset="0.5778" stop-color="#7093f3"/><stop offset="0.6278" stop-color="#81a4fb"/><stop offset="0.6611" stop-color="#80a3fa"/><stop offset="0.7556" stop-color="#5977e3"/><stop offset="0.8444" stop-color="#4961d2"/><stop offset="0.8944" stop-color="#465ecf"/><stop offset="0.9444" stop-color="#516ddb"/><stop offset="0.9778" stop-color="#5f7fe8"/><stop offset="1" stop-color="#5f7fe8"/></linearGradient>
<linearGradient id="g4_29"><stop offset="0" stop-color="#9ebeff"/><stop offset="0.03889" stop-color="#9ebeff"/><stop offset="0.04444" stop-color="#6c8ff1"/><stop offset="0.08889" stop-color="#6a8bef"/><stop offset="0.1333" stop-color="#6687ed"/><stop offset="0.1889" stop-color="#6485ec"/><stop offset="0.2389" stop-color="#5f7fe8"/><stop offset="0.2889" stop-color="#5f7fe8"/><stop offset="0.3167" stop-color="#536edd"/><stop offset="0.3889" stop-color="#465ecf"/><stop offset="0.4056" stop-color="#455cce"/><stop offset="0.4556" stop-color="#4b64d5"/><stop offset="0.5278" stop-color="#5f7fe8"/><stop offset="0.6167" stop-color="#81a4fb"/><stop offset="0.6444" stop-color="#88abfd"/><stop offset="0.7111" stop-color="#6a8bef"/><stop offset="0.7778" stop-color="#5470de"/><stop offset="0.8444" stop-color="#485fd1"/><stop offset="0.8944" stop-color="#455cce"/><stop offset="0.9389" stop-color="#4e68d8"/><stop offset="0.9778" stop-color="#5977e3"/><stop offset="1" stop-color="#5977e3"/></linearGradient>
<linearGradient id="g4_30"><stop offset="0" stop-color="#9ebeff"/><stop offset="0.03889" stop-color="#9ebeff"/><stop offset="0.04444" stop-color="#6c8ff1"/><stop offset="0.07778" stop-color="#6a8bef"/><stop offset="0.1" stop-color="#6687ed"/><stop offset="0.1833" stop-color="#6485ec"/><stop offset="0.2056" stop-color="#5f7fe8"/><stop offset="0.2889" stop-color="#5f7fe8"/><stop offset="0.3111" stop-color="#4f69d9"/><stop offset="0.3722" stop-color="#4c66d6"/><stop offset="0.4111" stop-color="#465ecf"/><stop offset="0.45" stop-color="#4b64d5"/><stop offset="0.5167" stop-color="#5b7ae5"/><stop offset="0.6" stop-color="#7da0f9"/><stop offset="0.6444" stop-color="#8db0fe"/><stop offset="0.7278" stop-color="#6384eb"/><stop offset="0.7833" stop-color="#536edd"/><stop offset="0.8333" stop-color="#485fd1"/><stop offset="0.8944" stop-color="#445acc"/><stop offset="0.9389" stop-color="#4b64d5"/><stop offset="0.9556" stop-color="#536edd"/><stop offset="1" stop-color="#536edd"/></linearGradient>
<linearGradient id="g4_31"><stop offset="0" stop-color="#9ebeff"/><stop offset="0.03889" stop-color="#9ebeff"/><stop offset="0.04444" stop-color="#6c8ff1"/><stop offset="0.1056" stop-color="#6687ed"/><stop offset="0.1667" stop-color="#6485ec"/><stop offset="0.2167" stop-color="#5f7fe8"/><stop offset="0.2889" stop-color="#5f7fe8"/><stop offset="0.3111" stop-color="#4f69d9"/><stop offset="0.3667" stop-color="#4e68d8"/><stop offset="0.4056" stop-color="#4a63d3"/><stop offset="0.4556" stop-color="#4f69d9"/><stop offset="0.5222" stop-color="#5e7de7"/><stop offset="0.6111" stop-color="#85a8fc"/><stop offset="0.6444" stop-color="#8fb1fe"/><stop offset="0.6944" stop-color="#7a9df8"/><stop offset="0.75" stop-color="#6a8bef"/><stop offset="0.8222" stop-color="#5470de"/><stop offset="0.8556" stop-color="#4b64d5"/><stop offset="0.8944" stop-color="#485fd1"/><stop offset="0.9222" stop-color="#4a63d3"/><stop offset="0.9333" stop-color="#4961d2"/><stop offset="0.9556" stop-color="#536edd"/><stop offset="1" stop-color="#536edd"/></linearGradient>
<linearGradient id="g4_32"><stop offset="0" stop-color="#9ebeff"/><stop offset="0.03889" stop-color="#9ebeff"/><stop offset="0.04444" stop-color="#6c8ff1"/><stop offset="0.07222" stop-color="#6687ed"/><stop offset="0.1611" stop-color="#6485ec"/><stop offset="0.1833" stop-color="#5f7fe8"/><stop offset="0.2889" stop-color="#5f7fe8"/><stop offset="0.3111" stop-color="#4f69d9"/><stop offset="0.3722" stop-color="#4e68d8"/><stop offset="0.4167" stop-color="#4e68d8"/><stop offset="0.4944" stop-color="#5875e1"/><stop offset="0.5556" stop-color="#6c8ff1"/><stop offset="0.6111" stop-color="#89acfd"/><stop offset="0.6444" stop-color="#90b2fe"/><stop offset="0.6778" stop-color="#86a9fc"/><stop offset="0.6944" stop-color="#81a4fb"/><stop offset="0.7333" stop-color="#80a3fa"/><stop offset="0.8056" stop-color="#6788ee"/><stop offset="0.85" stop-color="#506bda"/><stop offset="0.8944" stop-color="#4b64d5"/><stop offset="0.9111" stop-color="#4e68d8"/><stop offset="0.9333" stop-color="#4961d2"/><stop offset="0.9556" stop-color="#536edd"/><stop offset="1" stop-color="#536edd"/></linearGradient>
<linearGradient id="g4_33"><stop offset="0" stop-color="#9ebeff"/><stop offset="0.03889" stop-color="#9ebeff"/><stop offset="0.04444" stop-color="#6a8bef"/><stop offset="0.08889" stop-color="#6687ed"/><stop offset="0.1444" stop-color="#6485ec"/><stop offset="0.1944" stop-color="#5f7fe8"/><stop offset="0.2722" stop-color="#5e7de7"/><stop offset="0.3167" stop-color="#4f69d9"/><stop offset="0.4222" stop-color="#4e68d8"/><stop offset="0.4889" stop-color="#5875e1"/><stop offset="0.5611" stop-color="#7093f3"/><stop offset="0.6056" stop-color="#8badfd"/><stop offset="0.6556" stop-color="#92b4fe"/><stop offset="0.7111" stop-color="#8fb1fe"/><stop offset="0.7389" stop-color="#8db0fe"/><stop offset="0.8111" stop-color="#6f92f3"/><stop offset="0.8556" stop-color="#5875e1"/><stop offset="0.8944" stop-color="#4f69d9"/><stop offset="0.9278" stop-color="#4f69d9"/><stop offset="0.9444" stop-color="#506bda"/><stop offset="0.9833" stop-color="#536edd"/><stop offset="1" stop-color="#536edd"/></linearGradient>
<linearGradient id="g4_34"><stop offset="0" stop-color="#9ebeff"/><stop offset="0.03889" stop-color="#9ebeff"/><stop offset="0.04444" stop-color="#6687ed"/><stop offset="0.1389" stop-color="#6485ec"/><stop offset="0.1611" stop-color="#5f7fe8"/><stop offset="0.2667" stop-color="#5f7fe8"/><stop offset="0.2889" stop-color="#4f69d9"/><stop offset="0.3722" stop-color="#4e68d8"/><stop offset="0.4278" stop-color="#4e68d8"/><stop offset="0.45" stop-color="#536edd"/><stop offset="0.4722" stop-color="#5470de"/><stop offset="0.5611" stop-color="#7093f3"/><stop offset="0.6" stop-color="#8db0fe"/><stop offset="0.7333" stop-color="#9ebeff"/><stop offset="0.7889" stop-color="#86a9fc"/><stop offset="0.8389" stop-color="#6a8bef"/><stop offset="0.8722" stop-color="#5875e1"/><stop offset="0.8944" stop-color="#536edd"/><stop offset="1" stop-color="#536edd"/></linearGradient>
<linearGradient id="g4_35"><stop offset="0" stop-color="#9ebeff"/><stop offset="0.03889" stop-color="#9ebeff"/><stop offset="0.04444" stop-color="#6687ed"/><stop offset="0.1222" stop-color="#6485ec"/><stop offset="0.1722" stop-color="#5f7fe8"/><stop offset="0.2667" stop-color="#5f7fe8"/><stop offset="0.2889" stop-color="#4f69d9"/><stop offset="0.4278" stop-color="#4e68d8"/><stop offset="0.4667" stop-color="#5673e0"/><stop offset="0.5111" stop-color="#5d7ce6"/><stop offset="0.5389" stop-color="#6b8df0"/><stop offset="0.5556" stop-color="#6c8ff1"/><stop offset="0.5833" stop-color="#82a6fb"/><stop offset="0.6222" stop-color="#90b2fe"/><stop offset="0.7111" stop-color="#9dbdff"/><stop offset="0.7444" stop-color="#9bbcff"/><stop offset="0.8" stop-color="#84a7fc"/><stop offset="0.85" stop-color="#6485ec"/><stop offset="0.8722" stop-color="#5875e1"/><stop offset="0.8944" stop-color="#536edd"/><stop offset="1" stop-color="#536edd"/></linearGradient>
<linearGradient id="g4_36"><stop offset="0" stop-color="#9ebeff"/><stop offset="0.03889" stop-color="#9ebeff"/><stop offset="0.04444" stop-color="#6687ed"/><stop offset="0.1167" stop-color="#6485ec"/><stop offset="0.1389" stop-color="#5f7fe8"/><stop offset="0.2667" stop-color="#5f7fe8"/><stop offset="0.2889" stop-color="#4f69d9"/><stop offset="0.35" stop-color="#4e68d8"/><stop offset="0.4278" stop-color="#4e68d8"/><stop offset="0.4722" stop-color="#5977e3"/><stop offset="0.5111" stop-color="#5977e3"/><stop offset="0.5333" stop-color="#6c8ff1"/><stop offset="0.5556" stop-color="#6c8ff1"/><stop offset="0.5778" stop-color="#82a6fb"/><stop offset="0.6556" stop-color="#98b9ff"/><stop offset="0.7389" stop-color="#9ebeff"/><stop offset="0.7889" stop-color="#8caffe"/><stop offset="0.8278" stop-color="#7597f6"/><stop offset="0.8667" stop-color="#5977e3"/><stop offset="0.8944" stop-color="#536edd"/><stop offset="1" stop-color="#536edd"/></linearGradient>
<linearGradient id="g4_37"><stop offset="0" stop-color="#9ebeff"/><stop offset="0.03889" stop-color="#9ebeff"/><stop offset="0.04444" stop-color="#6687ed"/><stop offset="0.1" stop-color="#6485ec"/><stop offset="0.15" stop-color="#5f7fe8"/><stop offset="0.25" stop-color="#5e7de7"/><stop offset="0.2944" stop-color="#4f69d9"/><stop offset="0.4222" stop-color="#4c66d6"/><stop offset="0.4444" stop-color="#5673e0"/><stop offset="0.5111" stop-color="#5977e3"/><stop offset="0.5333" stop-color="#6c8ff1"/><stop offset="0.5778" stop-color="#82a6fb"/><stop offset="0.6" stop-color="#85a8fc"/><stop offset="0.6222" stop-color="#94b6ff"/><stop offset="0.7333" stop-color="#9ebeff"/><stop offset="0.7667" stop-color="#98b9ff"/><stop offset="0.8222" stop-color="#82a6fb"/><stop offset="0.8444" stop-color="#6a8bef"/><stop offset="0.8722" stop-color="#5e7de7"/><stop offset="0.8889" stop-color="#536edd"/><stop offset="1" stop-color="#536edd"/></linearGradient>
<linearGradient id="g4_38"><stop offset="0" stop-color="#9ebeff"/><stop offset="0.03889" stop-color="#9ebeff"/><stop offset="0.04444" stop-color="#6687ed"/><stop offset="0.1" stop-color="#6384eb"/><stop offset="0.1222" stop-color="#5f7fe8"/><stop offset="0.2444" stop-color="#5f7fe8"/><stop offset="0.2667" stop-color="#4f69d9"/><stop offset="0.35" stop-color="#4e68d8"/><stop offset="0.4222" stop-color="#4c66d6"/><stop offset="0.4444" stop-color="#5977e3"/><stop offset="0.5111" stop-color="#5977e3"/><stop offset="0.55" stop-color="#7da0f9"/><stop offset="0.5556" stop-color="#82a6fb"/><stop offset="0.6" stop-color="#82a6fb"/><stop offset="0.6222" stop-color="#97b8ff"/><stop offset="0.6722" stop-color="#98b9ff"/><stop offset="0.7" stop-color="#9ebeff"/><stop offset="0.7611" stop-color="#9dbdff"/><stop offset="0.8056" stop-color="#8db0fe"/><stop offset="0.8222" stop-color="#8db0fe"/><stop offset="0.8444" stop-color="#6a8bef"/><stop offset="0.8667" stop-color="#6a8bef"/><stop offset="0.8889" stop-color="#536edd"/><stop offset="1" stop-color="#536edd"/></linearGradient>
<g id="hm4" shape-rendering="crispEdges"><rect x="1133.2" y="641" width="634.5" height="7" fill="url(#g4_0)"/><rect x="1133.2" y="641" width="634.5" height="7" fill="url(#g4_1)" mask="url(#vm)"/><rect x="1133.2" y="634" width="634.5" height="7" fill="url(#g4_1)"/><rect x="1133.2" y="634" width="634.5" height="7" fill="url(#g4_2)" mask="url(#vm)"/><rect x="1133.2" y="627" width="634.5" height="7" fill="url(#g4_2)"/><rect x="1133.2" y="627" width="634.5" height="7" fill="url(#g4_3)" mask="url(#vm)"/><rect x="1133.2" y="620" width="634.5" height="7" fill="url(#g4_3)"/><rect x="1133.2" y="620" width="634.5" height="7" fill="url(#g4_4)" mask="url(#vm)"/><rect x="1133.2" y="613" width="634.5" height="7" fill="url(#g4_4)"/><rect x="1133.2" y="613" width="634.5" height="7" fill="url(#g4_5)" mask="url(#vm)"/><rect x="1133.2" y="606" width="634.5" height="7" fill="url(#g4_5)"/><rect x="1133.2" y="606" width="634.5" height="7" fill="url(#g4_6)" mask="url(#vm)"/><rect x="1133.2" y="599" width="634.5" height="7" fill="url(#g4_6)"/><rect x="1133.2" y="599" width="634.5" height="7" fill="url(#g4_7)" mask="url(#vm)"/><rect x="1133.2" y="592" width="634.5" height="7" fill="url(#g4_7)"/><rect x="1133.2" y="592" width="634.5" height="7" fill="url(#g4_8)" mask="url(#vm)"/><rect x="1133.2" y="585" width="634.5" height="7" fill="url(#g4_8)"/><rect x="1133.2" y="585" width="634.5" height="7" fill="url(#g4_9)" mask="url(#vm)"/><rect x="1133.2" y="578" width="634.5" height="7" fill="url(#g4_9)"/><rect x="1133.2" y="578" width="634.5" height="7" fill="url(#g4_10)" mask="url(#vm)"/><rect x="1133.2" y="571" width="634.5" height="7" fill="url(#g4_10)"/><rect x="1133.2" y="571" width="634.5" height="7" fill="url(#g4_11)" mask="url(#vm)"/><rect x="1133.2" y="564" width="634.5" height="7" fill="url(#g4_11)"/><rect x="1133.2" y="564" width="634.5" height="7" fill="url(#g4_12)" mask="url(#vm)"/><rect x="1133.2" y="557" width="634.5" height="7" fill="url(#g4_12)"/><rect x="1133.2" y="557" width="634.5" height="7" fill="url(#g4_13)" mask="url(#vm)"/><rect x="1133.2" y="550" width="634.5" height="7" fill="url(#g4_13)"/><rect x="1133.2" y="550" width="634.5" height="7" fill="url(#g4_14)" mask="url(#vm)"/><rect x="1133.2" y="542" width="634.5" height="8" fill="url(#g4_14)"/><rect x="1133.2" y="542" width="634.5" height="8" fill="url(#g4_15)" mask="url(#vm)"/><rect x="1133.2" y="535" width="634.5" height="7" fill="url(#g4_15)"/><rect x="1133.2" y="535" width="634.5" height="7" fill="url(#g4_16)" mask="url(#vm)"/><rect x="1133.2" y="528" width="634.5" height="7" fill="url(#g4_16)"/><rect x="1133.2" y="528" width="634.5" height="7" fill="url(#g4_17)" mask="url(#vm)"/><rect x="1133.2" y="521" width="634.5" height="7" fill="url(#g4_17)"/><rect x="1133.2" y="521" width="634.5" height="7" fill="url(#g4_18)" mask="url(#vm)"/><rect x="1133.2" y="514" width="634.5" height="7" fill="url(#g4_18)"/><rect x="1133.2" y="514" width="634.5" height="7" fill="url(#g4_19)" mask="url(#vm)"/><rect x="1133.2" y="507" width="634.5" height="7" fill="url(#g4_19)"/><rect x="1133.2" y="507" width="634.5" height="7" fill="url(#g4_20)" mask="url(#vm)"/><rect x="1133.2" y="500" width="634.5" height="7" fill="url(#g4_20)"/><rect x="1133.2" y="500" width="634.5" height="7" fill="url(#g4_21)" mask="url(#vm)"/><rect x="1133.2" y="493" width="634.5" height="7" fill="url(#g4_21)"/><rect x="1133.2" y="493" width="634.5" height="7" fill="url(#g4_22)" mask="url(#vm)"/><rect x="1133.2" y="486" width="634.5" height="7" fill="url(#g4_22)"/><rect x="1133.2" y="486" width="634.5" height="7" fill="url(#g4_23)" mask="url(#vm)"/><rect x="1133.2" y="479" width="634.5" height="7" fill="url(#g4_23)"/><rect x="1133.2" y="479" width="634.5" height="7" fill="url(#g4_24)" mask="url(#vm)"/><rect x="1133.2" y="472" width="634.5" height="7" fill="url(#g4_24)"/><rect x="1133.2" y="472" width="634.5" height="7" fill="url(#g4_25)" mask="url(#vm)"/><rect x="1133.2" y="465" width="634.5" height="7" fill="url(#g4_25)"/><rect x="1133.2" y="465" width="634.5" height="7" fill="url(#g4_26)" mask="url(#vm)"/><rect x="1133.2" y="458" width="634.5" height="7" fill="url(#g4_26)"/><rect x="1133.2" y="458" width="634.5" height="7" fill="url(#g4_27)" mask="url(#vm)"/><rect x="1133.2" y="451" width="634.5" height="7" fill="url(#g4_27)"/><rect x="1133.2" y="451" width="634.5" height="7" fill="url(#g4_28)" mask="url(#vm)"/><rect x="1133.2" y="444" width="634.5" height="7" fill="url(#g4_28)"/><rect x="1133.2" y="444" width="634.5" height="7" fill="url(#g4_29)" mask="url(#vm)"/><rect x="1133.2" y="437" width="634.5" height="7" fill="url(#g4_29)"/><rect x="1133.2" y="437" width="634.5" height="7" fill="url(#g4_30)" mask="url(#vm)"/><rect x="1133.2" y="430" width="634.5" height="7" fill="url(#g4_30)"/><rect x="1133.2" y="430" width="634.5" height="7" fill="url(#g4_31)" mask="url(#vm)"/><rect x="1133.2" y="423" width="634.5" height="7" fill="url(#g4_31)"/><rect x="1133.2" y="423" width="634.5" height="7" fill="url(#g4_32)" mask="url(#vm)"/><rect x="1133.2" y="416" width="634.5" height="7" fill="url(#g4_32)"/><rect x="1133.2" y="416" width="634.5" height="7" fill="url(#g4_33)" mask="url(#vm)"/><rect x="1133.2" y="409" width="634.5" height="7" fill="url(#g4_33)"/><rect x="1133.2" y="409" width="634.5" height="7" fill="url(#g4_34)" mask="url(#vm)"/><rect x="1133.2" y="401" width="634.5" height="8" fill="url(#g4_34)"/><rect x="1133.2" y="401" width="634.5" height="8" fill="url(#g4_35)" mask="url(#vm)"/><rect x="1133.2" y="394" width="634.5" height="7" fill="url(#g4_35)"/><rect x="1133.2" y="394" width="634.5" height="7" fill="url(#g4_36)" mask="url(#vm)"/><rect x="1133.2" y="387" width="634.5" height="7" fill="url(#g4_36)"/><rect x="1133.2" y="387" width="634.5" height="7" fill="url(#g4_37)" mask="url(#vm)"/><rect x="1133.2" y="380" width="634.5" height="7" fill="url(#g4_37)"/><rect x="1133.2" y="380" width="634.5" height="7" fill="url(#g4_38)" mask="url(#vm)"/></g></defs>
<clipPath id="c1"><polygon points="132.8,249.6 696.3,249.6 696.3,235.2 710.7,220.8 725.2,207.8 745.4,191.9 783.0,163.1 797.4,163.1 797.4,105.4 783.0,91.0 768.5,91.0 754.1,76.6 739.6,76.6 725.2,62.1 667.4,62.1 652.9,47.7 522.9,47.7 508.4,62.1 421.8,62.1 407.3,76.6 363.9,76.6 349.5,91.0 306.1,91.0 291.7,105.4 262.8,105.4 248.3,119.8 233.9,119.8 219.4,134.2 190.6,134.2 176.1,148.7 161.6,148.7 147.2,163.1 118.3,191.9 118.3,235.2"/></clipPath>
<pattern id="dp1" patternUnits="userSpaceOnUse" x="118.30" y="47.72" width="14.450" height="14.420"><circle cx="0" cy="0" r="1.35" fill="#bbb"/><circle cx="14.450" cy="0" r="1.35" fill="#bbb"/><circle cx="0" cy="14.420" r="1.35" fill="#bbb"/><circle cx="14.450" cy="14.420" r="1.35" fill="#bbb"/></pattern>
<mask id="dm1" maskUnits="userSpaceOnUse" x="0" y="0" width="2008" height="744"><rect x="115.3" y="44.7" width="685.1" height="207.9" fill="url(#dp1)"/></mask>
<g clip-path="url(#c1)"><use href="#hm1"/><rect x="116.3" y="45.7" width="683.1" height="205.9" fill="#000" opacity="0.220"/></g>
<g stroke="rgba(0,0,0,0.8)" stroke-width="1.50"><line x1="147.20" y1="47.72" x2="147.20" y2="257.60"/><line x1="219.45" y1="47.72" x2="219.45" y2="257.60"/><line x1="291.70" y1="47.72" x2="291.70" y2="257.60"/><line x1="363.95" y1="47.72" x2="363.95" y2="257.60"/><line x1="436.20" y1="47.72" x2="436.20" y2="257.60"/><line x1="508.45" y1="47.72" x2="508.45" y2="257.60"/><line x1="580.70" y1="47.72" x2="580.70" y2="257.60"/><line x1="652.95" y1="47.72" x2="652.95" y2="257.60"/><line x1="725.20" y1="47.72" x2="725.20" y2="257.60"/><line x1="797.45" y1="47.72" x2="797.45" y2="257.60"/><line x1="110.30" y1="249.60" x2="797.45" y2="249.60"/><line x1="110.30" y1="220.76" x2="797.45" y2="220.76"/><line x1="110.30" y1="191.92" x2="797.45" y2="191.92"/><line x1="110.30" y1="163.08" x2="797.45" y2="163.08"/><line x1="110.30" y1="134.24" x2="797.45" y2="134.24"/><line x1="110.30" y1="105.40" x2="797.45" y2="105.40"/><line x1="110.30" y1="76.56" x2="797.45" y2="76.56"/><line x1="110.30" y1="47.72" x2="797.45" y2="47.72"/></g>
<path d="M118.30 249.60 V47.72 H118.30 M110.30 47.72 H797.45 V249.60" fill="none" stroke="#8c8c8c" stroke-width="1.50"/>
<g clip-path="url(#c1)"><use href="#hm1" mask="url(#dm1)"/></g>
<line x1="161.65" y1="148.66" x2="190.55" y2="134.24" stroke="#6473cf" stroke-width="1"/>
<line x1="205.00" y1="134.24" x2="233.90" y2="119.82" stroke="#6473cf" stroke-width="1"/>
<line x1="233.90" y1="119.82" x2="262.80" y2="105.40" stroke="#6473cf" stroke-width="1"/>
<line x1="262.80" y1="105.40" x2="306.15" y2="90.98" stroke="#6371ce" stroke-width="1"/>
<line x1="335.05" y1="90.98" x2="363.95" y2="76.56" stroke="#6371ce" stroke-width="1"/>
<line x1="392.85" y1="76.56" x2="421.75" y2="62.14" stroke="#6270cd" stroke-width="1"/>
<line x1="494.00" y1="62.14" x2="522.90" y2="47.72" stroke="#6270cd" stroke-width="1"/>
<line x1="652.95" y1="47.72" x2="681.85" y2="62.14" stroke="#6270cd" stroke-width="1"/>
<line x1="725.20" y1="62.14" x2="754.10" y2="76.56" stroke="#6270cd" stroke-width="1"/>
<line x1="754.10" y1="76.56" x2="783.00" y2="90.98" stroke="#6270cd" stroke-width="1"/>
<line x1="783.00" y1="90.98" x2="797.45" y2="105.40" stroke="#6270cd" stroke-width="1"/>
<line x1="797.45" y1="163.08" x2="754.10" y2="191.92" stroke="#6270cd" stroke-width="1"/>
<line x1="754.10" y1="191.92" x2="725.20" y2="206.34" stroke="#6473cf" stroke-width="1"/>
<line x1="725.20" y1="206.34" x2="710.75" y2="220.76" stroke="#6574d0" stroke-width="1"/>
<line x1="710.75" y1="220.76" x2="696.30" y2="249.60" stroke="#6574d0" stroke-width="1"/>
<line x1="118.30" y1="191.92" x2="147.20" y2="163.08" stroke="#6473cf" stroke-width="1"/>
<line x1="147.20" y1="163.08" x2="161.65" y2="148.66" stroke="#6473cf" stroke-width="1"/>
<line x1="118.30" y1="235.18" x2="132.75" y2="249.60" stroke="#6371ce" stroke-width="1"/>
<path d="M428.20 206.34 H444.20 M436.20 198.34 V214.34" stroke="#f0e800" stroke-width="3.50"/>
<g font-family="'DejaVu Sans', 'Liberation Sans', sans-serif" font-size="35.0" fill="#000"><text x="147.20" y="287.00" text-anchor="middle">10</text><text x="219.45" y="287.00" text-anchor="middle">15</text><text x="291.70" y="287.00" text-anchor="middle">20</text><text x="363.95" y="287.00" text-anchor="middle">25</text><text x="436.20" y="287.00" text-anchor="middle">30</text><text x="508.45" y="287.00" text-anchor="middle">35</text><text x="580.70" y="287.00" text-anchor="middle">40</text><text x="652.95" y="287.00" text-anchor="middle">45</text><text x="725.20" y="287.00" text-anchor="middle">50</text><text x="797.45" y="287.00" text-anchor="middle">55</text><text x="105.80" y="262.36" text-anchor="end">0</text><text x="105.80" y="233.52" text-anchor="end">2</text><text x="105.80" y="204.68" text-anchor="end">4</text><text x="105.80" y="175.84" text-anchor="end">6</text><text x="105.80" y="147.00" text-anchor="end">8</text><text x="105.80" y="118.16" text-anchor="end">10</text><text x="105.80" y="89.32" text-anchor="end">12</text><text x="105.80" y="60.48" text-anchor="end">14</text></g>
<g transform="translate(415.30 332.90)"><text><tspan x="-4.90" y="0.00" font-family="'LM Roman 10','Latin Modern Roman','Liberation Serif',serif" font-style="italic" font-weight="normal" font-size="44.50">q</tspan><tspan x="18.75" y="7.00" font-family="'LM Roman 7','LM Roman 10','Latin Modern Roman','Liberation Serif',serif" font-style="normal" font-weight="normal" font-size="31.15">20</tspan><tspan x="56.25" y="0.00" font-family="'LM Roman 10','Latin Modern Roman','Liberation Serif',serif" font-style="normal" font-weight="normal" font-size="44.50">(b)</tspan></text></g>
<g transform="translate(43.60 219.80) rotate(-90)"><text><tspan x="-4.90" y="0.00" font-family="'LM Roman 10','Latin Modern Roman','Liberation Serif',serif" font-style="italic" font-weight="normal" font-size="44.50">q</tspan><tspan x="18.25" y="7.00" font-family="'LM Roman 7','LM Roman 10','Latin Modern Roman','Liberation Serif',serif" font-style="normal" font-weight="normal" font-size="31.15">30</tspan><tspan x="55.95" y="0.00" font-family="'LM Roman 10','Latin Modern Roman','Liberation Serif',serif" font-style="normal" font-weight="normal" font-size="44.50">(b</tspan><tspan x="97.95" y="-14.70" font-family="'LM Roman 7','LM Roman 10','Latin Modern Roman','Liberation Serif',serif" font-style="normal" font-weight="normal" font-size="31.15">3/2</tspan><tspan x="153.73" y="0.00" font-family="'LM Roman 10','Latin Modern Roman','Liberation Serif',serif" font-style="normal" font-weight="normal" font-size="44.50">)</tspan></text></g>
<linearGradient id="cbg1" x1="0" x2="0" y1="0" y2="1"><stop offset="0.000" stop-color="#b40426"/><stop offset="0.050" stop-color="#c53334"/><stop offset="0.100" stop-color="#d65244"/><stop offset="0.150" stop-color="#e36c55"/><stop offset="0.200" stop-color="#ee8468"/><stop offset="0.250" stop-color="#f4987a"/><stop offset="0.300" stop-color="#f7ac8e"/><stop offset="0.350" stop-color="#f6bda2"/><stop offset="0.400" stop-color="#f2cbb7"/><stop offset="0.450" stop-color="#e9d5cb"/><stop offset="0.500" stop-color="#dddcdc"/><stop offset="0.550" stop-color="#cfdaea"/><stop offset="0.600" stop-color="#c0d4f5"/><stop offset="0.650" stop-color="#afcafc"/><stop offset="0.700" stop-color="#9ebeff"/><stop offset="0.750" stop-color="#8db0fe"/><stop offset="0.800" stop-color="#7b9ff9"/><stop offset="0.850" stop-color="#6a8bef"/><stop offset="0.900" stop-color="#5977e3"/><stop offset="0.950" stop-color="#4961d2"/><stop offset="1.000" stop-color="#3b4cc0"/></linearGradient>
<rect x="823.30" y="20.00" width="15.00" height="265.00" fill="url(#cbg1)"/>
<g stroke="#444" stroke-width="1"><line x1="832.30" y1="20.00" x2="845.30" y2="20.00"/><line x1="837.30" y1="26.62" x2="845.30" y2="26.62"/><line x1="837.30" y1="33.25" x2="845.30" y2="33.25"/><line x1="837.30" y1="39.88" x2="845.30" y2="39.88"/><line x1="837.30" y1="46.50" x2="845.30" y2="46.50"/><line x1="837.30" y1="53.12" x2="845.30" y2="53.12"/><line x1="837.30" y1="59.75" x2="845.30" y2="59.75"/><line x1="837.30" y1="66.38" x2="845.30" y2="66.38"/><line x1="837.30" y1="73.00" x2="845.30" y2="73.00"/><line x1="837.30" y1="79.62" x2="845.30" y2="79.62"/><line x1="832.30" y1="86.25" x2="845.30" y2="86.25"/><line x1="837.30" y1="92.88" x2="845.30" y2="92.88"/><line x1="837.30" y1="99.50" x2="845.30" y2="99.50"/><line x1="837.30" y1="106.12" x2="845.30" y2="106.12"/><line x1="837.30" y1="112.75" x2="845.30" y2="112.75"/><line x1="837.30" y1="119.38" x2="845.30" y2="119.38"/><line x1="837.30" y1="126.00" x2="845.30" y2="126.00"/><line x1="837.30" y1="132.62" x2="845.30" y2="132.62"/><line x1="837.30" y1="139.25" x2="845.30" y2="139.25"/><line x1="837.30" y1="145.88" x2="845.30" y2="145.88"/><line x1="832.30" y1="152.50" x2="845.30" y2="152.50"/><line x1="837.30" y1="159.12" x2="845.30" y2="159.12"/><line x1="837.30" y1="165.75" x2="845.30" y2="165.75"/><line x1="837.30" y1="172.38" x2="845.30" y2="172.38"/><line x1="837.30" y1="179.00" x2="845.30" y2="179.00"/><line x1="837.30" y1="185.62" x2="845.30" y2="185.62"/><line x1="837.30" y1="192.25" x2="845.30" y2="192.25"/><line x1="837.30" y1="198.88" x2="845.30" y2="198.88"/><line x1="837.30" y1="205.50" x2="845.30" y2="205.50"/><line x1="837.30" y1="212.12" x2="845.30" y2="212.12"/><line x1="832.30" y1="218.75" x2="845.30" y2="218.75"/><line x1="837.30" y1="225.38" x2="845.30" y2="225.38"/><line x1="837.30" y1="232.00" x2="845.30" y2="232.00"/><line x1="837.30" y1="238.62" x2="845.30" y2="238.62"/><line x1="837.30" y1="245.25" x2="845.30" y2="245.25"/><line x1="837.30" y1="251.88" x2="845.30" y2="251.88"/><line x1="837.30" y1="258.50" x2="845.30" y2="258.50"/><line x1="837.30" y1="265.12" x2="845.30" y2="265.12"/><line x1="837.30" y1="271.75" x2="845.30" y2="271.75"/><line x1="837.30" y1="278.38" x2="845.30" y2="278.38"/><line x1="832.30" y1="285.00" x2="845.30" y2="285.00"/></g>
<g font-family="'DejaVu Sans', 'Liberation Sans', sans-serif" font-size="35.0" fill="#000"><text x="849.80" y="31.26">1.00</text><text x="849.80" y="97.51">0.75</text><text x="849.80" y="163.76">0.50</text><text x="849.80" y="230.01">0.25</text><text x="849.80" y="296.26">0.00</text></g>
<g transform="translate(946.80 70.10) rotate(90)"><text><tspan x="-1.78" y="0.00" font-family="'Latin Modern Math','STIX Two Math','DejaVu Serif',serif" font-style="normal" font-weight="normal" font-size="44.50">𝒩</tspan><tspan x="44.55" y="0.00" font-family="'LM Roman 10','Latin Modern Roman','Liberation Serif',serif" font-style="normal" font-weight="normal" font-size="44.50">(</tspan><tspan x="61.42" y="0.00" font-family="'LM Roman 10','Latin Modern Roman','Liberation Serif',serif" font-style="normal" font-weight="bold" font-size="44.50">q</tspan><tspan x="89.07" y="12.40" font-family="'LM Roman 7','LM Roman 10','Latin Modern Roman','Liberation Serif',serif" font-style="normal" font-weight="normal" font-size="31.15">0</tspan><tspan x="107.50" y="0.00" font-family="'LM Roman 10','Latin Modern Roman','Liberation Serif',serif" font-style="normal" font-weight="normal" font-size="44.50">,</tspan><tspan x="127.12" y="0.00" font-family="'LM Roman 10','Latin Modern Roman','Liberation Serif',serif" font-style="normal" font-weight="bold" font-size="44.50">q</tspan><tspan x="153.83" y="0.00" font-family="'LM Roman 10','Latin Modern Roman','Liberation Serif',serif" font-style="normal" font-weight="normal" font-size="44.50">)</tspan></text></g>
<clipPath id="c2"><polygon points="1145.9,254.7 1678.1,254.7 1678.1,241.1 1691.7,227.5 1705.4,215.3 1724.5,200.3 1760.0,173.1 1773.6,173.1 1773.6,118.7 1760.0,105.1 1746.3,105.1 1732.7,91.5 1719.0,91.5 1705.4,77.9 1650.8,77.9 1637.2,64.3 1514.4,64.3 1500.7,77.9 1418.8,77.9 1405.2,91.5 1364.3,91.5 1350.6,105.1 1309.7,105.1 1296.0,118.7 1268.8,118.7 1255.1,132.3 1241.5,132.3 1227.8,145.9 1200.5,145.9 1186.9,159.5 1173.2,159.5 1159.6,173.1 1132.3,200.3 1132.3,241.1"/></clipPath>
<pattern id="dp2" patternUnits="userSpaceOnUse" x="1132.30" y="64.30" width="13.645" height="13.600"><circle cx="0" cy="0" r="1.30" fill="#bbb"/><circle cx="13.645" cy="0" r="1.30" fill="#bbb"/><circle cx="0" cy="13.600" r="1.30" fill="#bbb"/><circle cx="13.645" cy="13.600" r="1.30" fill="#bbb"/></pattern>
<mask id="dm2" maskUnits="userSpaceOnUse" x="0" y="0" width="2008" height="744"><rect x="1129.3" y="61.3" width="647.3" height="196.4" fill="url(#dp2)"/></mask>
<g clip-path="url(#c2)"><use href="#hm2"/><rect x="1130.3" y="62.3" width="645.3" height="194.4" fill="#000" opacity="0.220"/></g>
<g stroke="rgba(0,0,0,0.68)" stroke-width="1.50"><line x1="1159.59" y1="64.30" x2="1159.59" y2="262.70"/><line x1="1227.82" y1="64.30" x2="1227.82" y2="262.70"/><line x1="1296.04" y1="64.30" x2="1296.04" y2="262.70"/><line x1="1364.26" y1="64.30" x2="1364.26" y2="262.70"/><line x1="1432.49" y1="64.30" x2="1432.49" y2="262.70"/><line x1="1500.71" y1="64.30" x2="1500.71" y2="262.70"/><line x1="1568.94" y1="64.30" x2="1568.94" y2="262.70"/><line x1="1637.16" y1="64.30" x2="1637.16" y2="262.70"/><line x1="1705.39" y1="64.30" x2="1705.39" y2="262.70"/><line x1="1773.61" y1="64.30" x2="1773.61" y2="262.70"/><line x1="1124.30" y1="254.70" x2="1773.61" y2="254.70"/><line x1="1124.30" y1="227.50" x2="1773.61" y2="227.50"/><line x1="1124.30" y1="200.30" x2="1773.61" y2="200.30"/><line x1="1124.30" y1="173.10" x2="1773.61" y2="173.10"/><line x1="1124.30" y1="145.90" x2="1773.61" y2="145.90"/><line x1="1124.30" y1="118.70" x2="1773.61" y2="118.70"/><line x1="1124.30" y1="91.50" x2="1773.61" y2="91.50"/><line x1="1124.30" y1="64.30" x2="1773.61" y2="64.30"/></g>
<path d="M1132.30 254.70 V64.30 H1132.30 M1124.30 64.30 H1773.61 V254.70" fill="none" stroke="#777" stroke-width="1.50"/>
<g clip-path="url(#c2)"><use href="#hm2" mask="url(#dm2)"/></g>
<line x1="1173.23" y1="159.50" x2="1200.52" y2="145.90" stroke="#d05a5b" stroke-width="1"/>
<line x1="1214.17" y1="145.90" x2="1241.46" y2="132.30" stroke="#e98a77" stroke-width="1"/>
<line x1="1241.46" y1="132.30" x2="1268.75" y2="118.70" stroke="#f3a28b" stroke-width="1"/>
<line x1="1268.75" y1="118.70" x2="1309.68" y2="105.10" stroke="#f9c6b0" stroke-width="1"/>
<line x1="1336.97" y1="105.10" x2="1364.26" y2="91.50" stroke="#e6e2e1" stroke-width="1"/>
<line x1="1391.55" y1="91.50" x2="1418.85" y2="77.90" stroke="#d5e0f1" stroke-width="1"/>
<line x1="1487.07" y1="77.90" x2="1514.36" y2="64.30" stroke="#bdd3fd" stroke-width="1"/>
<line x1="1637.16" y1="64.30" x2="1664.45" y2="77.90" stroke="#f1d9cd" stroke-width="1"/>
<line x1="1705.39" y1="77.90" x2="1732.68" y2="91.50" stroke="#e4e3e3" stroke-width="1"/>
<line x1="1732.68" y1="91.50" x2="1759.97" y2="105.10" stroke="#d4e0f2" stroke-width="1"/>
<line x1="1759.97" y1="105.10" x2="1773.61" y2="118.70" stroke="#c3d7fc" stroke-width="1"/>
<line x1="1773.61" y1="173.10" x2="1732.68" y2="200.30" stroke="#90acf7" stroke-width="1"/>
<line x1="1732.68" y1="200.30" x2="1705.39" y2="213.90" stroke="#7f98ed" stroke-width="1"/>
<line x1="1705.39" y1="213.90" x2="1691.74" y2="227.50" stroke="#7e97ec" stroke-width="1"/>
<line x1="1691.74" y1="227.50" x2="1678.10" y2="254.70" stroke="#7085de" stroke-width="1"/>
<line x1="1132.30" y1="200.30" x2="1159.59" y2="173.10" stroke="#ca4c57" stroke-width="1"/>
<line x1="1159.59" y1="173.10" x2="1173.23" y2="159.50" stroke="#c74154" stroke-width="1"/>
<line x1="1132.30" y1="241.10" x2="1145.94" y2="254.70" stroke="#f8b69d" stroke-width="1"/>
<path d="M1424.99 213.90 H1439.99 M1432.49 206.40 V221.40" stroke="#f0e800" stroke-width="3.30"/>
<g font-family="'DejaVu Sans', 'Liberation Sans', sans-serif" font-size="32.6" fill="#000"><text x="1159.59" y="289.70" text-anchor="middle">10</text><text x="1227.82" y="289.70" text-anchor="middle">15</text><text x="1296.04" y="289.70" text-anchor="middle">20</text><text x="1364.26" y="289.70" text-anchor="middle">25</text><text x="1432.49" y="289.70" text-anchor="middle">30</text><text x="1500.71" y="289.70" text-anchor="middle">35</text><text x="1568.94" y="289.70" text-anchor="middle">40</text><text x="1637.16" y="289.70" text-anchor="middle">45</text><text x="1705.39" y="289.70" text-anchor="middle">50</text><text x="1773.61" y="289.70" text-anchor="middle">55</text><text x="1120.40" y="266.58" text-anchor="end">0</text><text x="1120.40" y="239.38" text-anchor="end">2</text><text x="1120.40" y="212.18" text-anchor="end">4</text><text x="1120.40" y="184.98" text-anchor="end">6</text><text x="1120.40" y="157.78" text-anchor="end">8</text><text x="1120.40" y="130.58" text-anchor="end">10</text><text x="1120.40" y="103.38" text-anchor="end">12</text><text x="1120.40" y="76.18" text-anchor="end">14</text></g>
<g transform="translate(1412.20 333.60)"><text><tspan x="-4.58" y="0.00" font-family="'LM Roman 10','Latin Modern Roman','Liberation Serif',serif" font-style="italic" font-weight="normal" font-size="41.60">q</tspan><tspan x="17.53" y="6.54" font-family="'LM Roman 7','LM Roman 10','Latin Modern Roman','Liberation Serif',serif" font-style="normal" font-weight="normal" font-size="29.12">20</tspan><tspan x="52.58" y="0.00" font-family="'LM Roman 10','Latin Modern Roman','Liberation Serif',serif" font-style="normal" font-weight="normal" font-size="41.60">(b)</tspan></text></g>
<g transform="translate(1063.40 226.10) rotate(-90)"><text><tspan x="-4.58" y="0.00" font-family="'LM Roman 10','Latin Modern Roman','Liberation Serif',serif" font-style="italic" font-weight="normal" font-size="41.60">q</tspan><tspan x="17.06" y="6.54" font-family="'LM Roman 7','LM Roman 10','Latin Modern Roman','Liberation Serif',serif" font-style="normal" font-weight="normal" font-size="29.12">30</tspan><tspan x="52.30" y="0.00" font-family="'LM Roman 10','Latin Modern Roman','Liberation Serif',serif" font-style="normal" font-weight="normal" font-size="41.60">(b</tspan><tspan x="91.57" y="-13.74" font-family="'LM Roman 7','LM Roman 10','Latin Modern Roman','Liberation Serif',serif" font-style="normal" font-weight="normal" font-size="29.12">3/2</tspan><tspan x="143.71" y="0.00" font-family="'LM Roman 10','Latin Modern Roman','Liberation Serif',serif" font-style="normal" font-weight="normal" font-size="41.60">)</tspan></text></g>
<linearGradient id="cbg2" x1="0" x2="0" y1="0" y2="1"><stop offset="0.000" stop-color="#b40426"/><stop offset="0.050" stop-color="#c53334"/><stop offset="0.100" stop-color="#d65244"/><stop offset="0.150" stop-color="#e36c55"/><stop offset="0.200" stop-color="#ee8468"/><stop offset="0.250" stop-color="#f4987a"/><stop offset="0.300" stop-color="#f7ac8e"/><stop offset="0.350" stop-color="#f6bda2"/><stop offset="0.400" stop-color="#f2cbb7"/><stop offset="0.450" stop-color="#e9d5cb"/><stop offset="0.500" stop-color="#dddcdc"/><stop offset="0.550" stop-color="#cfdaea"/><stop offset="0.600" stop-color="#c0d4f5"/><stop offset="0.650" stop-color="#afcafc"/><stop offset="0.700" stop-color="#9ebeff"/><stop offset="0.750" stop-color="#8db0fe"/><stop offset="0.800" stop-color="#7b9ff9"/><stop offset="0.850" stop-color="#6a8bef"/><stop offset="0.900" stop-color="#5977e3"/><stop offset="0.950" stop-color="#4961d2"/><stop offset="1.000" stop-color="#3b4cc0"/></linearGradient>
<rect x="1804.20" y="37.50" width="14.60" height="250.00" fill="url(#cbg2)"/>
<g stroke="#444" stroke-width="1"><line x1="1812.80" y1="37.50" x2="1825.80" y2="37.50"/><line x1="1817.80" y1="43.75" x2="1825.80" y2="43.75"/><line x1="1817.80" y1="50.00" x2="1825.80" y2="50.00"/><line x1="1817.80" y1="56.25" x2="1825.80" y2="56.25"/><line x1="1817.80" y1="62.50" x2="1825.80" y2="62.50"/><line x1="1817.80" y1="68.75" x2="1825.80" y2="68.75"/><line x1="1817.80" y1="75.00" x2="1825.80" y2="75.00"/><line x1="1817.80" y1="81.25" x2="1825.80" y2="81.25"/><line x1="1817.80" y1="87.50" x2="1825.80" y2="87.50"/><line x1="1817.80" y1="93.75" x2="1825.80" y2="93.75"/><line x1="1812.80" y1="100.00" x2="1825.80" y2="100.00"/><line x1="1817.80" y1="106.25" x2="1825.80" y2="106.25"/><line x1="1817.80" y1="112.50" x2="1825.80" y2="112.50"/><line x1="1817.80" y1="118.75" x2="1825.80" y2="118.75"/><line x1="1817.80" y1="125.00" x2="1825.80" y2="125.00"/><line x1="1817.80" y1="131.25" x2="1825.80" y2="131.25"/><line x1="1817.80" y1="137.50" x2="1825.80" y2="137.50"/><line x1="1817.80" y1="143.75" x2="1825.80" y2="143.75"/><line x1="1817.80" y1="150.00" x2="1825.80" y2="150.00"/><line x1="1817.80" y1="156.25" x2="1825.80" y2="156.25"/><line x1="1812.80" y1="162.50" x2="1825.80" y2="162.50"/><line x1="1817.80" y1="168.75" x2="1825.80" y2="168.75"/><line x1="1817.80" y1="175.00" x2="1825.80" y2="175.00"/><line x1="1817.80" y1="181.25" x2="1825.80" y2="181.25"/><line x1="1817.80" y1="187.50" x2="1825.80" y2="187.50"/><line x1="1817.80" y1="193.75" x2="1825.80" y2="193.75"/><line x1="1817.80" y1="200.00" x2="1825.80" y2="200.00"/><line x1="1817.80" y1="206.25" x2="1825.80" y2="206.25"/><line x1="1817.80" y1="212.50" x2="1825.80" y2="212.50"/><line x1="1817.80" y1="218.75" x2="1825.80" y2="218.75"/><line x1="1812.80" y1="225.00" x2="1825.80" y2="225.00"/><line x1="1817.80" y1="231.25" x2="1825.80" y2="231.25"/><line x1="1817.80" y1="237.50" x2="1825.80" y2="237.50"/><line x1="1817.80" y1="243.75" x2="1825.80" y2="243.75"/><line x1="1817.80" y1="250.00" x2="1825.80" y2="250.00"/><line x1="1817.80" y1="256.25" x2="1825.80" y2="256.25"/><line x1="1817.80" y1="262.50" x2="1825.80" y2="262.50"/><line x1="1817.80" y1="268.75" x2="1825.80" y2="268.75"/><line x1="1817.80" y1="275.00" x2="1825.80" y2="275.00"/><line x1="1817.80" y1="281.25" x2="1825.80" y2="281.25"/><line x1="1812.80" y1="287.50" x2="1825.80" y2="287.50"/></g>
<g font-family="'DejaVu Sans', 'Liberation Sans', sans-serif" font-size="32.0" fill="#000"><text x="1826.00" y="47.16">-9902.9</text><text x="1826.00" y="109.66">-9955.9</text><text x="1826.00" y="172.16">-10009</text><text x="1826.00" y="234.66">-10062</text><text x="1826.00" y="297.16">-10115</text></g>
<g transform="translate(1971.00 22.80) rotate(90)"><text><tspan x="-2.91" y="0.00" font-family="'LM Roman 10','Latin Modern Roman','Liberation Serif',serif" font-style="italic" font-weight="normal" font-size="41.60">h</tspan><tspan x="21.14" y="0.00" font-family="'LM Roman 10','Latin Modern Roman','Liberation Serif',serif" font-style="normal" font-weight="normal" font-size="41.60">(</tspan><tspan x="37.34" y="0.00" font-family="'LM Roman 10','Latin Modern Roman','Liberation Serif',serif" font-style="normal" font-weight="bold" font-size="41.60">q</tspan><tspan x="63.43" y="10.84" font-family="'LM Roman 7','LM Roman 10','Latin Modern Roman','Liberation Serif',serif" font-style="normal" font-weight="normal" font-size="29.12">0</tspan><tspan x="82.06" y="0.00" font-family="'LM Roman 10','Latin Modern Roman','Liberation Serif',serif" font-style="normal" font-weight="normal" font-size="41.60">,</tspan><tspan x="98.74" y="0.00" font-family="'LM Roman 10','Latin Modern Roman','Liberation Serif',serif" font-style="normal" font-weight="bold" font-size="41.60">q</tspan><tspan x="123.30" y="0.00" font-family="'LM Roman 10','Latin Modern Roman','Liberation Serif',serif" font-style="normal" font-weight="normal" font-size="41.60">)</tspan><tspan x="157.14" y="0.00" font-family="'LM Roman 10','Latin Modern Roman','Liberation Serif',serif" font-style="normal" font-weight="normal" font-size="41.60">(MeV)</tspan></text></g>
<clipPath id="c3"><polygon points="191.0,634.8 771.0,634.8 771.0,591.3 727.5,533.3 727.5,504.3 742.0,489.8 771.0,475.3 771.0,460.8 756.5,446.3 756.5,431.8 742.0,417.3 727.5,402.8 713.0,402.8 698.5,388.3 684.0,388.3 669.5,373.8 655.0,373.8 640.5,359.3 582.5,359.3 568.0,373.8 495.5,373.8 481.0,388.3 437.5,388.3 423.0,402.8 379.5,402.8 365.0,417.3 350.5,417.3 321.5,431.8 307.0,446.3 292.5,446.3 278.0,460.8 263.5,475.3 234.5,504.3 234.5,518.8 220.0,533.3 205.5,547.8 205.5,562.3 191.0,576.8 191.0,591.3 176.5,605.8 191.0,620.3"/><polygon points="118.5,634.8 133.0,634.8 133.0,620.3 118.5,620.3"/></clipPath>
<pattern id="dp3" patternUnits="userSpaceOnUse" x="118.50" y="359.30" width="14.500" height="14.500"><circle cx="0" cy="0" r="1.35" fill="#bbb"/><circle cx="14.500" cy="0" r="1.35" fill="#bbb"/><circle cx="0" cy="14.500" r="1.35" fill="#bbb"/><circle cx="14.500" cy="14.500" r="1.35" fill="#bbb"/></pattern>
<mask id="dm3" maskUnits="userSpaceOnUse" x="0" y="0" width="2008" height="744"><rect x="115.5" y="356.3" width="658.5" height="281.5" fill="url(#dp3)"/></mask>
<g clip-path="url(#c3)"><use href="#hm3"/><rect x="116.5" y="357.3" width="656.5" height="279.5" fill="#000" opacity="0.220"/></g>
<g stroke="rgba(0,0,0,0.68)" stroke-width="1.50"><line x1="133.00" y1="359.30" x2="133.00" y2="642.80"/><line x1="205.50" y1="359.30" x2="205.50" y2="642.80"/><line x1="278.00" y1="359.30" x2="278.00" y2="642.80"/><line x1="350.50" y1="359.30" x2="350.50" y2="642.80"/><line x1="423.00" y1="359.30" x2="423.00" y2="642.80"/><line x1="495.50" y1="359.30" x2="495.50" y2="642.80"/><line x1="568.00" y1="359.30" x2="568.00" y2="642.80"/><line x1="640.50" y1="359.30" x2="640.50" y2="642.80"/><line x1="713.00" y1="359.30" x2="713.00" y2="642.80"/><line x1="110.50" y1="634.80" x2="771.00" y2="634.80"/><line x1="110.50" y1="605.80" x2="771.00" y2="605.80"/><line x1="110.50" y1="576.80" x2="771.00" y2="576.80"/><line x1="110.50" y1="547.80" x2="771.00" y2="547.80"/><line x1="110.50" y1="518.80" x2="771.00" y2="518.80"/><line x1="110.50" y1="489.80" x2="771.00" y2="489.80"/><line x1="110.50" y1="460.80" x2="771.00" y2="460.80"/><line x1="110.50" y1="431.80" x2="771.00" y2="431.80"/><line x1="110.50" y1="402.80" x2="771.00" y2="402.80"/><line x1="110.50" y1="373.80" x2="771.00" y2="373.80"/></g>
<path d="M118.50 634.80 V359.30 H118.50 M118.50 359.30 H771.00 V634.80" fill="none" stroke="#3a3a3a" stroke-width="1.50"/>
<g clip-path="url(#c3)"><use href="#hm3" mask="url(#dm3)"/></g>
<line x1="191.00" y1="634.80" x2="176.50" y2="605.80" stroke="#6676d2" stroke-width="1"/>
<line x1="176.50" y1="605.80" x2="191.00" y2="576.80" stroke="#6574d0" stroke-width="1"/>
<line x1="191.00" y1="576.80" x2="205.50" y2="547.80" stroke="#6574d0" stroke-width="1"/>
<line x1="234.50" y1="504.30" x2="263.50" y2="475.30" stroke="#6371ce" stroke-width="1"/>
<line x1="278.00" y1="460.80" x2="307.00" y2="446.30" stroke="#6270cd" stroke-width="1"/>
<line x1="321.50" y1="431.80" x2="350.50" y2="417.30" stroke="#6270cd" stroke-width="1"/>
<line x1="365.00" y1="417.30" x2="379.50" y2="402.80" stroke="#6270cd" stroke-width="1"/>
<line x1="408.50" y1="402.80" x2="437.50" y2="388.30" stroke="#6270cd" stroke-width="1"/>
<line x1="466.50" y1="388.30" x2="495.50" y2="373.80" stroke="#6270cd" stroke-width="1"/>
<line x1="553.50" y1="373.80" x2="582.50" y2="359.30" stroke="#6270cd" stroke-width="1"/>
<line x1="640.50" y1="359.30" x2="669.50" y2="373.80" stroke="#6270cd" stroke-width="1"/>
<line x1="669.50" y1="373.80" x2="727.50" y2="402.80" stroke="#6473cf" stroke-width="1"/>
<line x1="727.50" y1="402.80" x2="756.50" y2="431.80" stroke="#6473cf" stroke-width="1"/>
<line x1="756.50" y1="431.80" x2="771.00" y2="460.80" stroke="#6473cf" stroke-width="1"/>
<line x1="771.00" y1="475.30" x2="742.00" y2="489.80" stroke="#6473cf" stroke-width="1"/>
<line x1="742.00" y1="489.80" x2="727.50" y2="504.30" stroke="#6473cf" stroke-width="1"/>
<line x1="727.50" y1="533.30" x2="739.10" y2="559.40" stroke="#6473cf" stroke-width="1"/>
<line x1="739.10" y1="559.40" x2="771.00" y2="591.30" stroke="#6473cf" stroke-width="1"/>
<path d="M589.00 620.30 H605.00 M597.00 612.30 V628.30" stroke="#f0e800" stroke-width="3.50"/>
<g font-family="'DejaVu Sans', 'Liberation Sans', sans-serif" font-size="35.0" fill="#000"><text x="133.00" y="679.00" text-anchor="middle">95</text><text x="205.50" y="679.00" text-anchor="middle">100</text><text x="278.00" y="679.00" text-anchor="middle">105</text><text x="350.50" y="679.00" text-anchor="middle">110</text><text x="423.00" y="679.00" text-anchor="middle">115</text><text x="495.50" y="679.00" text-anchor="middle">120</text><text x="568.00" y="679.00" text-anchor="middle">125</text><text x="640.50" y="679.00" text-anchor="middle">130</text><text x="713.00" y="679.00" text-anchor="middle">135</text><text x="106.40" y="647.56" text-anchor="end">0</text><text x="106.40" y="618.56" text-anchor="end">2</text><text x="106.40" y="589.56" text-anchor="end">4</text><text x="106.40" y="560.56" text-anchor="end">6</text><text x="106.40" y="531.56" text-anchor="end">8</text><text x="106.40" y="502.56" text-anchor="end">10</text><text x="106.40" y="473.56" text-anchor="end">12</text><text x="106.40" y="444.56" text-anchor="end">14</text><text x="106.40" y="415.56" text-anchor="end">16</text><text x="106.40" y="386.56" text-anchor="end">18</text></g>
<g transform="translate(408.70 726.90)"><text><tspan x="-4.90" y="0.00" font-family="'LM Roman 10','Latin Modern Roman','Liberation Serif',serif" font-style="italic" font-weight="normal" font-size="44.50">q</tspan><tspan x="18.75" y="7.00" font-family="'LM Roman 7','LM Roman 10','Latin Modern Roman','Liberation Serif',serif" font-style="normal" font-weight="normal" font-size="31.15">20</tspan><tspan x="56.25" y="0.00" font-family="'LM Roman 10','Latin Modern Roman','Liberation Serif',serif" font-style="normal" font-weight="normal" font-size="44.50">(b)</tspan></text></g>
<g transform="translate(44.50 574.70) rotate(-90)"><text><tspan x="-4.90" y="0.00" font-family="'LM Roman 10','Latin Modern Roman','Liberation Serif',serif" font-style="italic" font-weight="normal" font-size="44.50">q</tspan><tspan x="18.25" y="7.00" font-family="'LM Roman 7','LM Roman 10','Latin Modern Roman','Liberation Serif',serif" font-style="normal" font-weight="normal" font-size="31.15">30</tspan><tspan x="55.95" y="0.00" font-family="'LM Roman 10','Latin Modern Roman','Liberation Serif',serif" font-style="normal" font-weight="normal" font-size="44.50">(b</tspan><tspan x="97.95" y="-14.70" font-family="'LM Roman 7','LM Roman 10','Latin Modern Roman','Liberation Serif',serif" font-style="normal" font-weight="normal" font-size="31.15">3/2</tspan><tspan x="153.73" y="0.00" font-family="'LM Roman 10','Latin Modern Roman','Liberation Serif',serif" font-style="normal" font-weight="normal" font-size="44.50">)</tspan></text></g>
<linearGradient id="cbg3" x1="0" x2="0" y1="0" y2="1"><stop offset="0.000" stop-color="#b40426"/><stop offset="0.050" stop-color="#c53334"/><stop offset="0.100" stop-color="#d65244"/><stop offset="0.150" stop-color="#e36c55"/><stop offset="0.200" stop-color="#ee8468"/><stop offset="0.250" stop-color="#f4987a"/><stop offset="0.300" stop-color="#f7ac8e"/><stop offset="0.350" stop-color="#f6bda2"/><stop offset="0.400" stop-color="#f2cbb7"/><stop offset="0.450" stop-color="#e9d5cb"/><stop offset="0.500" stop-color="#dddcdc"/><stop offset="0.550" stop-color="#cfdaea"/><stop offset="0.600" stop-color="#c0d4f5"/><stop offset="0.650" stop-color="#afcafc"/><stop offset="0.700" stop-color="#9ebeff"/><stop offset="0.750" stop-color="#8db0fe"/><stop offset="0.800" stop-color="#7b9ff9"/><stop offset="0.850" stop-color="#6a8bef"/><stop offset="0.900" stop-color="#5977e3"/><stop offset="0.950" stop-color="#4961d2"/><stop offset="1.000" stop-color="#3b4cc0"/></linearGradient>
<rect x="823.30" y="372.20" width="15.20" height="264.80" fill="url(#cbg3)"/>
<g stroke="#444" stroke-width="1"><line x1="832.50" y1="372.20" x2="845.50" y2="372.20"/><line x1="837.50" y1="378.82" x2="845.50" y2="378.82"/><line x1="837.50" y1="385.44" x2="845.50" y2="385.44"/><line x1="837.50" y1="392.06" x2="845.50" y2="392.06"/><line x1="837.50" y1="398.68" x2="845.50" y2="398.68"/><line x1="837.50" y1="405.30" x2="845.50" y2="405.30"/><line x1="837.50" y1="411.92" x2="845.50" y2="411.92"/><line x1="837.50" y1="418.54" x2="845.50" y2="418.54"/><line x1="837.50" y1="425.16" x2="845.50" y2="425.16"/><line x1="837.50" y1="431.78" x2="845.50" y2="431.78"/><line x1="832.50" y1="438.40" x2="845.50" y2="438.40"/><line x1="837.50" y1="445.02" x2="845.50" y2="445.02"/><line x1="837.50" y1="451.64" x2="845.50" y2="451.64"/><line x1="837.50" y1="458.26" x2="845.50" y2="458.26"/><line x1="837.50" y1="464.88" x2="845.50" y2="464.88"/><line x1="837.50" y1="471.50" x2="845.50" y2="471.50"/><line x1="837.50" y1="478.12" x2="845.50" y2="478.12"/><line x1="837.50" y1="484.74" x2="845.50" y2="484.74"/><line x1="837.50" y1="491.36" x2="845.50" y2="491.36"/><line x1="837.50" y1="497.98" x2="845.50" y2="497.98"/><line x1="832.50" y1="504.60" x2="845.50" y2="504.60"/><line x1="837.50" y1="511.22" x2="845.50" y2="511.22"/><line x1="837.50" y1="517.84" x2="845.50" y2="517.84"/><line x1="837.50" y1="524.46" x2="845.50" y2="524.46"/><line x1="837.50" y1="531.08" x2="845.50" y2="531.08"/><line x1="837.50" y1="537.70" x2="845.50" y2="537.70"/><line x1="837.50" y1="544.32" x2="845.50" y2="544.32"/><line x1="837.50" y1="550.94" x2="845.50" y2="550.94"/><line x1="837.50" y1="557.56" x2="845.50" y2="557.56"/><line x1="837.50" y1="564.18" x2="845.50" y2="564.18"/><line x1="832.50" y1="570.80" x2="845.50" y2="570.80"/><line x1="837.50" y1="577.42" x2="845.50" y2="577.42"/><line x1="837.50" y1="584.04" x2="845.50" y2="584.04"/><line x1="837.50" y1="590.66" x2="845.50" y2="590.66"/><line x1="837.50" y1="597.28" x2="845.50" y2="597.28"/><line x1="837.50" y1="603.90" x2="845.50" y2="603.90"/><line x1="837.50" y1="610.52" x2="845.50" y2="610.52"/><line x1="837.50" y1="617.14" x2="845.50" y2="617.14"/><line x1="837.50" y1="623.76" x2="845.50" y2="623.76"/><line x1="837.50" y1="630.38" x2="845.50" y2="630.38"/><line x1="832.50" y1="637.00" x2="845.50" y2="637.00"/></g>
<g font-family="'DejaVu Sans', 'Liberation Sans', sans-serif" font-size="35.0" fill="#000"><text x="849.80" y="383.46">1.00</text><text x="849.80" y="449.66">0.75</text><text x="849.80" y="515.86">0.50</text><text x="849.80" y="582.06">0.25</text><text x="849.80" y="648.26">0.00</text></g>
<g transform="translate(946.80 422.20) rotate(90)"><text><tspan x="-1.78" y="0.00" font-family="'Latin Modern Math','STIX Two Math','DejaVu Serif',serif" font-style="normal" font-weight="normal" font-size="44.50">𝒩</tspan><tspan x="44.55" y="0.00" font-family="'LM Roman 10','Latin Modern Roman','Liberation Serif',serif" font-style="normal" font-weight="normal" font-size="44.50">(</tspan><tspan x="61.42" y="0.00" font-family="'LM Roman 10','Latin Modern Roman','Liberation Serif',serif" font-style="normal" font-weight="bold" font-size="44.50">q</tspan><tspan x="89.07" y="12.40" font-family="'LM Roman 7','LM Roman 10','Latin Modern Roman','Liberation Serif',serif" font-style="normal" font-weight="normal" font-size="31.15">0</tspan><tspan x="107.50" y="0.00" font-family="'LM Roman 10','Latin Modern Roman','Liberation Serif',serif" font-style="normal" font-weight="normal" font-size="44.50">,</tspan><tspan x="127.12" y="0.00" font-family="'LM Roman 10','Latin Modern Roman','Liberation Serif',serif" font-style="normal" font-weight="bold" font-size="44.50">q</tspan><tspan x="153.83" y="0.00" font-family="'LM Roman 10','Latin Modern Roman','Liberation Serif',serif" font-style="normal" font-weight="normal" font-size="44.50">)</tspan></text></g>
<clipPath id="c4"><polygon points="1203.7,648.2 1767.7,648.2 1767.7,605.9 1725.4,549.5 1725.4,521.3 1739.5,507.2 1767.7,493.1 1767.7,479.0 1753.6,464.9 1753.6,450.8 1739.5,436.7 1725.4,422.6 1711.3,422.6 1697.2,408.5 1683.1,408.5 1669.0,394.4 1654.9,394.4 1640.8,380.3 1584.4,380.3 1570.3,394.4 1499.8,394.4 1485.7,408.5 1443.4,408.5 1429.3,422.6 1387.0,422.6 1372.9,436.7 1358.8,436.7 1330.6,450.8 1316.5,464.9 1302.4,464.9 1288.3,479.0 1274.2,493.1 1246.0,521.3 1246.0,535.4 1231.9,549.5 1217.8,563.6 1217.8,577.7 1203.7,591.8 1203.7,605.9 1189.6,620.0 1203.7,634.1"/><polygon points="1133.2,648.2 1147.3,648.2 1147.3,634.1 1133.2,634.1"/></clipPath>
<pattern id="dp4" patternUnits="userSpaceOnUse" x="1133.20" y="380.30" width="14.100" height="14.100"><circle cx="0" cy="0" r="1.30" fill="#bbb"/><circle cx="14.100" cy="0" r="1.30" fill="#bbb"/><circle cx="0" cy="14.100" r="1.30" fill="#bbb"/><circle cx="14.100" cy="14.100" r="1.30" fill="#bbb"/></pattern>
<mask id="dm4" maskUnits="userSpaceOnUse" x="0" y="0" width="2008" height="744"><rect x="1130.2" y="377.3" width="640.5" height="273.9" fill="url(#dp4)"/></mask>
<g clip-path="url(#c4)"><use href="#hm4"/><rect x="1131.2" y="378.3" width="638.5" height="271.9" fill="#000" opacity="0.220"/></g>
<g stroke="rgba(0,0,0,0.72)" stroke-width="1.40"><line x1="1147.30" y1="380.30" x2="1147.30" y2="656.20"/><line x1="1217.80" y1="380.30" x2="1217.80" y2="656.20"/><line x1="1288.30" y1="380.30" x2="1288.30" y2="656.20"/><line x1="1358.80" y1="380.30" x2="1358.80" y2="656.20"/><line x1="1429.30" y1="380.30" x2="1429.30" y2="656.20"/><line x1="1499.80" y1="380.30" x2="1499.80" y2="656.20"/><line x1="1570.30" y1="380.30" x2="1570.30" y2="656.20"/><line x1="1640.80" y1="380.30" x2="1640.80" y2="656.20"/><line x1="1711.30" y1="380.30" x2="1711.30" y2="656.20"/><line x1="1125.20" y1="648.20" x2="1767.70" y2="648.20"/><line x1="1125.20" y1="620.00" x2="1767.70" y2="620.00"/><line x1="1125.20" y1="591.80" x2="1767.70" y2="591.80"/><line x1="1125.20" y1="563.60" x2="1767.70" y2="563.60"/><line x1="1125.20" y1="535.40" x2="1767.70" y2="535.40"/><line x1="1125.20" y1="507.20" x2="1767.70" y2="507.20"/><line x1="1125.20" y1="479.00" x2="1767.70" y2="479.00"/><line x1="1125.20" y1="450.80" x2="1767.70" y2="450.80"/><line x1="1125.20" y1="422.60" x2="1767.70" y2="422.60"/><line x1="1125.20" y1="394.40" x2="1767.70" y2="394.40"/></g>
<path d="M1133.20 648.20 V380.30 H1133.20 M1133.20 380.30 H1767.70 V648.20" fill="none" stroke="#3a3a3a" stroke-width="1.40"/>
<g clip-path="url(#c4)"><use href="#hm4" mask="url(#dm4)"/></g>
<line x1="1203.70" y1="648.20" x2="1189.60" y2="620.00" stroke="#b6ceff" stroke-width="1"/>
<line x1="1189.60" y1="620.00" x2="1203.70" y2="591.80" stroke="#b1cbff" stroke-width="1"/>
<line x1="1203.70" y1="591.80" x2="1217.80" y2="563.60" stroke="#9bb7fc" stroke-width="1"/>
<line x1="1246.00" y1="521.30" x2="1274.20" y2="493.10" stroke="#88a3f3" stroke-width="1"/>
<line x1="1288.30" y1="479.00" x2="1316.50" y2="464.90" stroke="#7e97ec" stroke-width="1"/>
<line x1="1330.60" y1="450.80" x2="1358.80" y2="436.70" stroke="#7287e0" stroke-width="1"/>
<line x1="1372.90" y1="436.70" x2="1387.00" y2="422.60" stroke="#6e82dc" stroke-width="1"/>
<line x1="1415.20" y1="422.60" x2="1443.40" y2="408.50" stroke="#758be3" stroke-width="1"/>
<line x1="1471.60" y1="408.50" x2="1499.80" y2="394.40" stroke="#8aa5f4" stroke-width="1"/>
<line x1="1556.20" y1="394.40" x2="1584.40" y2="380.30" stroke="#b0caff" stroke-width="1"/>
<line x1="1640.80" y1="380.30" x2="1669.00" y2="394.40" stroke="#9bb7fc" stroke-width="1"/>
<line x1="1669.00" y1="394.40" x2="1725.40" y2="422.60" stroke="#758be3" stroke-width="1"/>
<line x1="1725.40" y1="422.60" x2="1753.60" y2="450.80" stroke="#758be3" stroke-width="1"/>
<line x1="1753.60" y1="450.80" x2="1767.70" y2="479.00" stroke="#7f98ed" stroke-width="1"/>
<line x1="1767.70" y1="493.10" x2="1739.50" y2="507.20" stroke="#acc6ff" stroke-width="1"/>
<line x1="1739.50" y1="507.20" x2="1725.40" y2="521.30" stroke="#c0d5fc" stroke-width="1"/>
<line x1="1725.40" y1="549.50" x2="1736.68" y2="574.88" stroke="#f9c5af" stroke-width="1"/>
<line x1="1736.68" y1="574.88" x2="1767.70" y2="605.90" stroke="#e78775" stroke-width="1"/>
<path d="M1591.00 634.10 H1606.00 M1598.50 626.60 V641.60" stroke="#f0e800" stroke-width="3.30"/>
<g font-family="'DejaVu Sans', 'Liberation Sans', sans-serif" font-size="33.0" fill="#000"><text x="1147.30" y="681.60" text-anchor="middle">95</text><text x="1217.80" y="681.60" text-anchor="middle">100</text><text x="1288.30" y="681.60" text-anchor="middle">105</text><text x="1358.80" y="681.60" text-anchor="middle">110</text><text x="1429.30" y="681.60" text-anchor="middle">115</text><text x="1499.80" y="681.60" text-anchor="middle">120</text><text x="1570.30" y="681.60" text-anchor="middle">125</text><text x="1640.80" y="681.60" text-anchor="middle">130</text><text x="1711.30" y="681.60" text-anchor="middle">135</text><text x="1121.40" y="660.23" text-anchor="end">0</text><text x="1121.40" y="632.03" text-anchor="end">2</text><text x="1121.40" y="603.83" text-anchor="end">4</text><text x="1121.40" y="575.63" text-anchor="end">6</text><text x="1121.40" y="547.43" text-anchor="end">8</text><text x="1121.40" y="519.23" text-anchor="end">10</text><text x="1121.40" y="491.03" text-anchor="end">12</text><text x="1121.40" y="462.83" text-anchor="end">14</text><text x="1121.40" y="434.63" text-anchor="end">16</text><text x="1121.40" y="406.43" text-anchor="end">18</text></g>
<g transform="translate(1423.70 727.90)"><text><tspan x="-4.58" y="0.00" font-family="'LM Roman 10','Latin Modern Roman','Liberation Serif',serif" font-style="italic" font-weight="normal" font-size="41.60">q</tspan><tspan x="17.53" y="6.54" font-family="'LM Roman 7','LM Roman 10','Latin Modern Roman','Liberation Serif',serif" font-style="normal" font-weight="normal" font-size="29.12">20</tspan><tspan x="52.58" y="0.00" font-family="'LM Roman 10','Latin Modern Roman','Liberation Serif',serif" font-style="normal" font-weight="normal" font-size="41.60">(b)</tspan></text></g>
<g transform="translate(1066.40 581.70) rotate(-90)"><text><tspan x="-4.58" y="0.00" font-family="'LM Roman 10','Latin Modern Roman','Liberation Serif',serif" font-style="italic" font-weight="normal" font-size="41.60">q</tspan><tspan x="17.06" y="6.54" font-family="'LM Roman 7','LM Roman 10','Latin Modern Roman','Liberation Serif',serif" font-style="normal" font-weight="normal" font-size="29.12">30</tspan><tspan x="52.30" y="0.00" font-family="'LM Roman 10','Latin Modern Roman','Liberation Serif',serif" font-style="normal" font-weight="normal" font-size="41.60">(b</tspan><tspan x="91.57" y="-13.74" font-family="'LM Roman 7','LM Roman 10','Latin Modern Roman','Liberation Serif',serif" font-style="normal" font-weight="normal" font-size="29.12">3/2</tspan><tspan x="143.71" y="0.00" font-family="'LM Roman 10','Latin Modern Roman','Liberation Serif',serif" font-style="normal" font-weight="normal" font-size="41.60">)</tspan></text></g>
<linearGradient id="cbg4" x1="0" x2="0" y1="0" y2="1"><stop offset="0.000" stop-color="#b40426"/><stop offset="0.050" stop-color="#c53334"/><stop offset="0.100" stop-color="#d65244"/><stop offset="0.150" stop-color="#e36c55"/><stop offset="0.200" stop-color="#ee8468"/><stop offset="0.250" stop-color="#f4987a"/><stop offset="0.300" stop-color="#f7ac8e"/><stop offset="0.350" stop-color="#f6bda2"/><stop offset="0.400" stop-color="#f2cbb7"/><stop offset="0.450" stop-color="#e9d5cb"/><stop offset="0.500" stop-color="#dddcdc"/><stop offset="0.550" stop-color="#cfdaea"/><stop offset="0.600" stop-color="#c0d4f5"/><stop offset="0.650" stop-color="#afcafc"/><stop offset="0.700" stop-color="#9ebeff"/><stop offset="0.750" stop-color="#8db0fe"/><stop offset="0.800" stop-color="#7b9ff9"/><stop offset="0.850" stop-color="#6a8bef"/><stop offset="0.900" stop-color="#5977e3"/><stop offset="0.950" stop-color="#4961d2"/><stop offset="1.000" stop-color="#3b4cc0"/></linearGradient>
<rect x="1805.00" y="393.30" width="13.80" height="250.00" fill="url(#cbg4)"/>
<g stroke="#444" stroke-width="1"><line x1="1812.80" y1="393.30" x2="1825.80" y2="393.30"/><line x1="1817.80" y1="399.55" x2="1825.80" y2="399.55"/><line x1="1817.80" y1="405.80" x2="1825.80" y2="405.80"/><line x1="1817.80" y1="412.05" x2="1825.80" y2="412.05"/><line x1="1817.80" y1="418.30" x2="1825.80" y2="418.30"/><line x1="1817.80" y1="424.55" x2="1825.80" y2="424.55"/><line x1="1817.80" y1="430.80" x2="1825.80" y2="430.80"/><line x1="1817.80" y1="437.05" x2="1825.80" y2="437.05"/><line x1="1817.80" y1="443.30" x2="1825.80" y2="443.30"/><line x1="1817.80" y1="449.55" x2="1825.80" y2="449.55"/><line x1="1812.80" y1="455.80" x2="1825.80" y2="455.80"/><line x1="1817.80" y1="462.05" x2="1825.80" y2="462.05"/><line x1="1817.80" y1="468.30" x2="1825.80" y2="468.30"/><line x1="1817.80" y1="474.55" x2="1825.80" y2="474.55"/><line x1="1817.80" y1="480.80" x2="1825.80" y2="480.80"/><line x1="1817.80" y1="487.05" x2="1825.80" y2="487.05"/><line x1="1817.80" y1="493.30" x2="1825.80" y2="493.30"/><line x1="1817.80" y1="499.55" x2="1825.80" y2="499.55"/><line x1="1817.80" y1="505.80" x2="1825.80" y2="505.80"/><line x1="1817.80" y1="512.05" x2="1825.80" y2="512.05"/><line x1="1812.80" y1="518.30" x2="1825.80" y2="518.30"/><line x1="1817.80" y1="524.55" x2="1825.80" y2="524.55"/><line x1="1817.80" y1="530.80" x2="1825.80" y2="530.80"/><line x1="1817.80" y1="537.05" x2="1825.80" y2="537.05"/><line x1="1817.80" y1="543.30" x2="1825.80" y2="543.30"/><line x1="1817.80" y1="549.55" x2="1825.80" y2="549.55"/><line x1="1817.80" y1="555.80" x2="1825.80" y2="555.80"/><line x1="1817.80" y1="562.05" x2="1825.80" y2="562.05"/><line x1="1817.80" y1="568.30" x2="1825.80" y2="568.30"/><line x1="1817.80" y1="574.55" x2="1825.80" y2="574.55"/><line x1="1812.80" y1="580.80" x2="1825.80" y2="580.80"/><line x1="1817.80" y1="587.05" x2="1825.80" y2="587.05"/><line x1="1817.80" y1="593.30" x2="1825.80" y2="593.30"/><line x1="1817.80" y1="599.55" x2="1825.80" y2="599.55"/><line x1="1817.80" y1="605.80" x2="1825.80" y2="605.80"/><line x1="1817.80" y1="612.05" x2="1825.80" y2="612.05"/><line x1="1817.80" y1="618.30" x2="1825.80" y2="618.30"/><line x1="1817.80" y1="624.55" x2="1825.80" y2="624.55"/><line x1="1817.80" y1="630.80" x2="1825.80" y2="630.80"/><line x1="1817.80" y1="637.05" x2="1825.80" y2="637.05"/><line x1="1812.80" y1="643.30" x2="1825.80" y2="643.30"/></g>
<g font-family="'DejaVu Sans', 'Liberation Sans', sans-serif" font-size="32.0" fill="#000"><text x="1826.00" y="402.96">-9692.5</text><text x="1826.00" y="465.46">-9721.7</text><text x="1826.00" y="527.96">-9750.9</text><text x="1826.00" y="590.46">-9780.1</text><text x="1826.00" y="652.96">-9809.3</text></g>
<g transform="translate(1970.30 378.10) rotate(90)"><text><tspan x="-2.91" y="0.00" font-family="'LM Roman 10','Latin Modern Roman','Liberation Serif',serif" font-style="italic" font-weight="normal" font-size="41.60">h</tspan><tspan x="21.14" y="0.00" font-family="'LM Roman 10','Latin Modern Roman','Liberation Serif',serif" font-style="normal" font-weight="normal" font-size="41.60">(</tspan><tspan x="37.34" y="0.00" font-family="'LM Roman 10','Latin Modern Roman','Liberation Serif',serif" font-style="normal" font-weight="bold" font-size="41.60">q</tspan><tspan x="63.43" y="10.84" font-family="'LM Roman 7','LM Roman 10','Latin Modern Roman','Liberation Serif',serif" font-style="normal" font-weight="normal" font-size="29.12">0</tspan><tspan x="82.06" y="0.00" font-family="'LM Roman 10','Latin Modern Roman','Liberation Serif',serif" font-style="normal" font-weight="normal" font-size="41.60">,</tspan><tspan x="98.74" y="0.00" font-family="'LM Roman 10','Latin Modern Roman','Liberation Serif',serif" font-style="normal" font-weight="bold" font-size="41.60">q</tspan><tspan x="123.30" y="0.00" font-family="'LM Roman 10','Latin Modern Roman','Liberation Serif',serif" font-style="normal" font-weight="normal" font-size="41.60">)</tspan><tspan x="157.14" y="0.00" font-family="'LM Roman 10','Latin Modern Roman','Liberation Serif',serif" font-style="normal" font-weight="normal" font-size="41.60">(MeV)</tspan></text></g>
</svg>
</body></html>
